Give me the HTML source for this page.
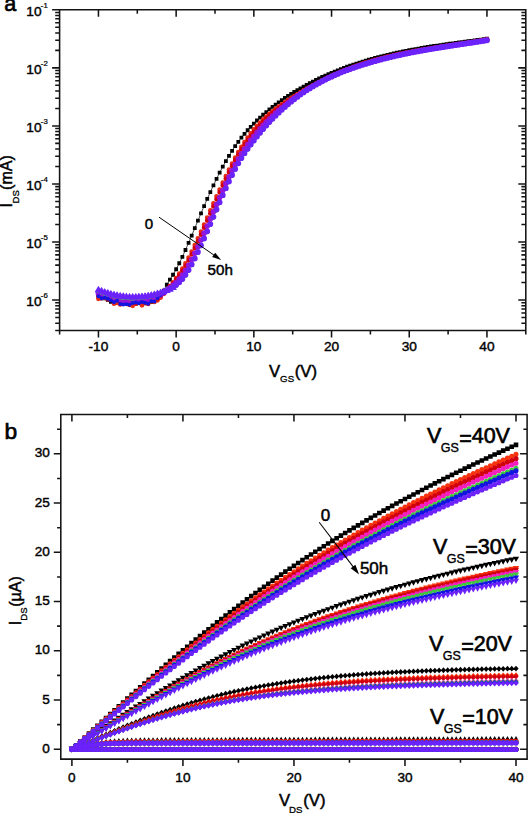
<!DOCTYPE html>
<html><head><meta charset="utf-8"><title>Figure</title>
<style>html,body{margin:0;padding:0;background:#fff;width:528px;height:813px;overflow:hidden}svg{display:block}</style>
</head><body>
<svg width="528" height="813" viewBox="0 0 528 813">
<rect width="528" height="813" fill="#fff"/>
<g fill="none">
<path d="M98.45 296.78 101.56 298.43 104.67 298.25 107.77 299.87 110.88 301.88 113.99 302.65 117.1 300.99 120.21 301.77 123.31 301.74 126.42 303.23 129.53 302.21 132.64 303.59 135.75 304.15 138.85 302.91 141.96 303.86 145.07 303.25 148.18 301.07 151.29 302.08 154.39 299.72 157.5 297.75 160.61 294.37 163.72 290.53 166.83 284.77 169.93 279.57 173.04 274.73 176.15 269.27 179.26 263.27 182.37 256.82 185.47 249.99 188.58 242.88 191.69 235.57 194.8 228.15 197.91 220.7 201.01 213.31 204.12 206.05 207.23 198.95 210.34 192.04 213.45 185.34 216.55 178.87 219.66 172.66 222.77 166.72 225.88 161.09 228.99 155.78 232.09 150.81 235.2 146.15 238.31 141.79 241.42 137.7 244.53 133.86 247.63 130.24 250.74 126.83 253.85 123.59 256.96 120.5 260.07 117.55 263.17 114.73 266.28 112.03 269.39 109.44 272.5 106.96 275.61 104.58 278.71 102.29 281.82 100.09 284.93 97.96 288.04 95.91 291.15 93.93 294.25 92 297.36 90.13 300.47 88.31 303.58 86.55 306.69 84.83 309.79 83.17 312.9 81.56 316.01 79.99 319.12 78.47 322.23 77 325.33 75.57 328.44 74.19 331.55 72.85 334.66 71.55 337.77 70.29 340.87 69.08 343.98 67.9 347.09 66.75 350.2 65.65 353.31 64.58 356.41 63.54 359.52 62.54 362.63 61.57 365.74 60.63 368.85 59.72 371.95 58.84 375.06 57.98 378.17 57.16 381.28 56.36 384.39 55.59 387.49 54.84 390.6 54.12 393.71 53.42 396.82 52.74 399.93 52.08 403.03 51.45 406.14 50.83 409.25 50.23 412.36 49.65 415.47 49.09 418.57 48.54 421.68 48.01 424.79 47.49 427.9 46.98 431.01 46.49 434.11 46.01 437.22 45.54 440.33 45.08 443.44 44.63 446.55 44.18 449.65 43.75 452.76 43.32 455.87 42.89 458.98 42.47 462.09 42.05 465.19 41.64 468.3 41.22 471.41 40.81 474.52 40.4 477.63 39.99 480.73 39.57 483.84 39.15 486.95 38.73" stroke="#000000" stroke-width="0.7" fill="none"/>
<path d="M98.45 296.78h0M101.56 298.43h0M104.67 298.25h0M107.77 299.87h0M110.88 301.88h0M113.99 302.65h0M117.1 300.99h0M120.21 301.77h0M123.31 301.74h0M126.42 303.23h0M129.53 302.21h0M132.64 303.59h0M135.75 304.15h0M138.85 302.91h0M141.96 303.86h0M145.07 303.25h0M148.18 301.07h0M151.29 302.08h0M154.39 299.72h0M157.5 297.75h0M160.61 294.37h0M163.72 290.53h0M166.83 284.77h0M169.93 279.57h0M173.04 274.73h0M176.15 269.27h0M179.26 263.27h0M182.37 256.82h0M185.47 249.99h0M188.58 242.88h0M191.69 235.57h0M194.8 228.15h0M197.91 220.7h0M201.01 213.31h0M204.12 206.05h0M207.23 198.95h0M210.34 192.04h0M213.45 185.34h0M216.55 178.87h0M219.66 172.66h0M222.77 166.72h0M225.88 161.09h0M228.99 155.78h0M232.09 150.81h0M235.2 146.15h0M238.31 141.79h0M241.42 137.7h0M244.53 133.86h0M247.63 130.24h0M250.74 126.83h0M253.85 123.59h0M256.96 120.5h0M260.07 117.55h0M263.17 114.73h0M266.28 112.03h0M269.39 109.44h0M272.5 106.96h0M275.61 104.58h0M278.71 102.29h0M281.82 100.09h0M284.93 97.96h0M288.04 95.91h0M291.15 93.93h0M294.25 92h0M297.36 90.13h0M300.47 88.31h0M303.58 86.55h0M306.69 84.83h0M309.79 83.17h0M312.9 81.56h0M316.01 79.99h0M319.12 78.47h0M322.23 77h0M325.33 75.57h0M328.44 74.19h0M331.55 72.85h0M334.66 71.55h0M337.77 70.29h0M340.87 69.08h0M343.98 67.9h0M347.09 66.75h0M350.2 65.65h0M353.31 64.58h0M356.41 63.54h0M359.52 62.54h0M362.63 61.57h0M365.74 60.63h0M368.85 59.72h0M371.95 58.84h0M375.06 57.98h0M378.17 57.16h0M381.28 56.36h0M384.39 55.59h0M387.49 54.84h0M390.6 54.12h0M393.71 53.42h0M396.82 52.74h0M399.93 52.08h0M403.03 51.45h0M406.14 50.83h0M409.25 50.23h0M412.36 49.65h0M415.47 49.09h0M418.57 48.54h0M421.68 48.01h0M424.79 47.49h0M427.9 46.98h0M431.01 46.49h0M434.11 46.01h0M437.22 45.54h0M440.33 45.08h0M443.44 44.63h0M446.55 44.18h0M449.65 43.75h0M452.76 43.32h0M455.87 42.89h0M458.98 42.47h0M462.09 42.05h0M465.19 41.64h0M468.3 41.22h0M471.41 40.81h0M474.52 40.4h0M477.63 39.99h0M480.73 39.57h0M483.84 39.15h0M486.95 38.73h0" stroke="#000000" stroke-width="3.8" stroke-linecap="square"/>
<path d="M98.45 298.87h0M101.56 298.17h0M104.67 297.93h0M107.77 298.85h0M110.88 299.8h0M113.99 303.72h0M117.1 302.86h0M120.21 304.47h0M123.31 302.5h0M126.42 303.15h0M129.53 304.91h0M132.64 305.74h0M135.75 303.73h0M138.85 302.61h0M141.96 305.25h0M145.07 302.82h0M148.18 303.97h0M151.29 301.27h0M154.39 301.88h0M157.5 300.32h0M160.61 297.56h0M163.72 293.96h0M166.83 290.15h0M169.93 286.19h0M173.04 282.45h0M176.15 278.27h0M179.26 273.68h0M182.37 268.7h0M185.47 263.33h0M188.58 257.6h0M191.69 251.53h0M194.8 245.13h0M197.91 238.49h0M201.01 231.64h0M204.12 224.65h0M207.23 217.59h0M210.34 210.51h0M213.45 203.44h0M216.55 196.44h0M219.66 189.53h0M222.77 182.75h0M225.88 176.14h0M228.99 169.73h0M232.09 163.57h0M235.2 157.68h0M238.31 152.11h0M241.42 146.89h0M244.53 142.03h0M247.63 137.53h0M250.74 133.35h0M253.85 129.47h0M256.96 125.87h0M260.07 122.53h0M263.17 119.42h0M266.28 116.53h0M269.39 113.82h0M272.5 111.28h0M275.61 108.88h0M278.71 106.59h0M281.82 104.41h0M284.93 102.3h0M288.04 100.24h0M291.15 98.23h0M294.25 96.26h0M297.36 94.33h0M300.47 92.44h0M303.58 90.6h0M306.69 88.8h0M309.79 87.05h0M312.9 85.33h0M316.01 83.66h0M319.12 82.04h0M322.23 80.45h0M325.33 78.91h0M328.44 77.41h0M331.55 75.96h0M334.66 74.55h0M337.77 73.18h0M340.87 71.85h0M343.98 70.57h0M347.09 69.33h0M350.2 68.13h0M353.31 66.98h0M356.41 65.87h0M359.52 64.8h0M362.63 63.76h0M365.74 62.77h0M368.85 61.81h0M371.95 60.89h0M375.06 60.01h0M378.17 59.15h0M381.28 58.33h0M384.39 57.54h0M387.49 56.77h0M390.6 56.04h0M393.71 55.33h0M396.82 54.64h0M399.93 53.98h0M403.03 53.34h0M406.14 52.73h0M409.25 52.13h0M412.36 51.55h0M415.47 50.98h0M418.57 50.44h0M421.68 49.9h0M424.79 49.38h0M427.9 48.87h0M431.01 48.37h0M434.11 47.88h0M437.22 47.4h0M440.33 46.92h0M443.44 46.45h0M446.55 45.98h0M449.65 45.51h0M452.76 45.04h0M455.87 44.57h0M458.98 44.11h0M462.09 43.63h0M465.19 43.16h0M468.3 42.67h0M471.41 42.18h0M474.52 41.68h0M477.63 41.18h0M480.73 40.65h0M483.84 40.12h0M486.95 39.58h0" stroke="#e82c14" stroke-width="4.8" stroke-linecap="round"/>
<path d="M98.45 295.52h0M101.56 296.3h0M104.67 296.74h0M107.77 299.2h0M110.88 297.46h0M113.99 300.71h0M117.1 298.37h0M120.21 302.05h0M123.31 301.75h0M126.42 301.2h0M129.53 302.27h0M132.64 301.57h0M135.75 302.77h0M138.85 300.11h0M141.96 301.37h0M145.07 302.39h0M148.18 302.12h0M151.29 298.84h0M154.39 298.13h0M157.5 298.56h0M160.61 295.43h0M163.72 292.79h0M166.83 290.09h0M169.93 286.76h0M173.04 283.47h0M176.15 279.76h0M179.26 275.59h0M182.37 270.96h0M185.47 265.86h0M188.58 260.31h0M191.69 254.36h0M194.8 248.05h0M197.91 241.46h0M201.01 234.64h0M204.12 227.67h0M207.23 220.6h0M210.34 213.49h0M213.45 206.38h0M216.55 199.32h0M219.66 192.34h0M222.77 185.48h0M225.88 178.79h0M228.99 172.31h0M232.09 166.08h0M235.2 160.16h0M238.31 154.57h0M241.42 149.36h0M244.53 144.52h0M247.63 140.02h0M250.74 135.82h0M253.85 131.9h0M256.96 128.22h0M260.07 124.78h0M263.17 121.54h0M266.28 118.51h0M269.39 115.65h0M272.5 112.94h0M275.61 110.38h0M278.71 107.93h0M281.82 105.59h0M284.93 103.33h0M288.04 101.13h0M291.15 99h0M294.25 96.91h0M297.36 94.89h0M300.47 92.92h0M303.58 91.01h0M306.69 89.15h0M309.79 87.34h0M312.9 85.58h0M316.01 83.88h0M319.12 82.23h0M322.23 80.62h0M325.33 79.07h0M328.44 77.57h0M331.55 76.11h0M334.66 74.7h0M337.77 73.34h0M340.87 72.02h0M343.98 70.75h0M347.09 69.52h0M350.2 68.33h0M353.31 67.19h0M356.41 66.09h0M359.52 65.03h0M362.63 64h0M365.74 63.02h0M368.85 62.06h0M371.95 61.15h0M375.06 60.26h0M378.17 59.41h0M381.28 58.58h0M384.39 57.79h0M387.49 57.02h0M390.6 56.28h0M393.71 55.57h0M396.82 54.88h0M399.93 54.21h0M403.03 53.57h0M406.14 52.94h0M409.25 52.34h0M412.36 51.75h0M415.47 51.18h0M418.57 50.62h0M421.68 50.08h0M424.79 49.55h0M427.9 49.03h0M431.01 48.52h0M434.11 48.02h0M437.22 47.53h0M440.33 47.05h0M443.44 46.57h0M446.55 46.1h0M449.65 45.63h0M452.76 45.16h0M455.87 44.69h0M458.98 44.22h0M462.09 43.75h0M465.19 43.27h0M468.3 42.79h0M471.41 42.31h0M474.52 41.81h0M477.63 41.31h0M480.73 40.8h0M483.84 40.28h0M486.95 39.75h0" stroke="#d0000e" stroke-width="4.8" stroke-linecap="round"/>
<path d="M98.45 293.83h0M101.56 294.71h0M104.67 295.59h0M107.77 297.17h0M110.88 297.31h0M113.99 298.77h0M117.1 298.94h0M120.21 299.56h0M123.31 300.47h0M126.42 300.36h0M129.53 300.79h0M132.64 300.65h0M135.75 301.04h0M138.85 300.75h0M141.96 300.32h0M145.07 299.64h0M148.18 299.39h0M151.29 298.9h0M154.39 297.69h0M157.5 296.45h0M160.61 294.62h0M163.72 292.68h0M166.83 290.2h0M169.93 287.78h0M173.04 285.34h0M176.15 282.46h0M179.26 279.07h0M182.37 275.08h0M185.47 270.46h0M188.58 265.24h0M191.69 259.51h0M194.8 253.35h0M197.91 246.86h0M201.01 240.11h0M204.12 233.17h0M207.23 226.08h0M210.34 218.92h0M213.45 211.73h0M216.55 204.55h0M219.66 197.44h0M222.77 190.45h0M225.88 183.62h0M228.99 177.01h0M232.09 170.66h0M235.2 164.66h0M238.31 159.04h0M241.42 153.85h0M244.53 149.03h0M247.63 144.54h0M250.74 140.32h0M253.85 136.3h0M256.96 132.49h0M260.07 128.86h0M263.17 125.4h0M266.28 122.11h0M269.39 118.97h0M272.5 115.97h0M275.61 113.11h0M278.71 110.36h0M281.82 107.73h0M284.93 105.2h0M288.04 102.75h0M291.15 100.39h0M294.25 98.11h0M297.36 95.91h0M300.47 93.79h0M303.58 91.75h0M306.69 89.77h0M309.79 87.87h0M312.9 86.04h0M316.01 84.27h0M319.12 82.57h0M322.23 80.94h0M325.33 79.36h0M328.44 77.84h0M331.55 76.38h0M334.66 74.98h0M337.77 73.62h0M340.87 72.32h0M343.98 71.06h0M347.09 69.86h0M350.2 68.69h0M353.31 67.57h0M356.41 66.49h0M359.52 65.45h0M362.63 64.44h0M365.74 63.46h0M368.85 62.52h0M371.95 61.61h0M375.06 60.73h0M378.17 59.87h0M381.28 59.05h0M384.39 58.25h0M387.49 57.48h0M390.6 56.73h0M393.71 56.01h0M396.82 55.31h0M399.93 54.63h0M403.03 53.97h0M406.14 53.33h0M409.25 52.71h0M412.36 52.11h0M415.47 51.52h0M418.57 50.95h0M421.68 50.4h0M424.79 49.85h0M427.9 49.32h0M431.01 48.8h0M434.11 48.29h0M437.22 47.78h0M440.33 47.29h0M443.44 46.8h0M446.55 46.32h0M449.65 45.84h0M452.76 45.37h0M455.87 44.89h0M458.98 44.42h0M462.09 43.95h0M465.19 43.48h0M468.3 43.01h0M471.41 42.53h0M474.52 42.05h0M477.63 41.57h0M480.73 41.07h0M483.84 40.58h0M486.95 40.07h0" stroke="#9a14d8" stroke-width="5.6" stroke-linecap="round"/>
<path d="M98.45 291h0M101.56 292.48h0M104.67 293.69h0M107.77 294.43h0M110.88 294.85h0M113.99 296.26h0M117.1 296.23h0M120.21 297.3h0M123.31 297.91h0M126.42 297.63h0M129.53 298.14h0M132.64 298.38h0M135.75 297.95h0M138.85 297.87h0M141.96 297.49h0M145.07 297.2h0M148.18 296.69h0M151.29 296.24h0M154.39 295.61h0M157.5 294.38h0M160.61 293.13h0M163.72 291.72h0M166.83 290.28h0M169.93 288.89h0M173.04 287.34h0M176.15 285.36h0M179.26 282.8h0M182.37 279.51h0M185.47 275.4h0M188.58 270.54h0M191.69 265.05h0M194.8 259.05h0M197.91 252.67h0M201.01 245.99h0M204.12 239.07h0M207.23 231.97h0M210.34 224.76h0M213.45 217.47h0M216.55 210.18h0M219.66 202.93h0M222.77 195.79h0M225.88 188.81h0M228.99 182.05h0M232.09 175.59h0M235.2 169.5h0M238.31 163.86h0M241.42 158.68h0M244.53 153.89h0M247.63 149.41h0M250.74 145.15h0M253.85 141.04h0M256.96 137.07h0M260.07 133.24h0M263.17 129.54h0M266.28 125.98h0M269.39 122.54h0M272.5 119.23h0M275.61 116.04h0M278.71 112.98h0M281.82 110.03h0M284.93 107.21h0M288.04 104.49h0M291.15 101.89h0M294.25 99.4h0M297.36 97.01h0M300.47 94.73h0M303.58 92.54h0M306.69 90.45h0M309.79 88.44h0M312.9 86.53h0M316.01 84.7h0M319.12 82.95h0M322.23 81.27h0M325.33 79.67h0M328.44 78.14h0M331.55 76.67h0M334.66 75.27h0M337.77 73.93h0M340.87 72.64h0M343.98 71.41h0M347.09 70.22h0M350.2 69.08h0M353.31 67.98h0M356.41 66.92h0M359.52 65.9h0M362.63 64.9h0M365.74 63.94h0M368.85 63.01h0M371.95 62.1h0M375.06 61.22h0M378.17 60.37h0M381.28 59.55h0M384.39 58.74h0M387.49 57.97h0M390.6 57.21h0M393.71 56.48h0M396.82 55.77h0M399.93 55.08h0M403.03 54.41h0M406.14 53.75h0M409.25 53.12h0M412.36 52.5h0M415.47 51.9h0M418.57 51.31h0M421.68 50.74h0M424.79 50.18h0M427.9 49.63h0M431.01 49.09h0M434.11 48.57h0M437.22 48.05h0M440.33 47.55h0M443.44 47.05h0M446.55 46.56h0M449.65 46.07h0M452.76 45.59h0M455.87 45.12h0M458.98 44.64h0M462.09 44.17h0M465.19 43.71h0M468.3 43.24h0M471.41 42.77h0M474.52 42.31h0M477.63 41.84h0M480.73 41.37h0M483.84 40.89h0M486.95 40.41h0" stroke="#3cc83c" stroke-width="4.4" stroke-linecap="round"/>
<path d="M98.45 296.28h0M101.56 298.25h0M104.67 297.65h0M107.77 298.7h0M110.88 300.61h0M113.99 302.3h0M117.1 300.86h0M120.21 303.9h0M123.31 304.62h0M126.42 304.26h0M129.53 304.77h0M132.64 302.93h0M135.75 302.39h0M138.85 303.13h0M141.96 302.11h0M145.07 302.86h0M148.18 303.69h0M151.29 301.27h0M154.39 301.43h0M157.5 297.89h0M160.61 295.06h0M163.72 293.35h0M166.83 290.67h0M169.93 288.91h0M173.04 287.39h0M176.15 285.43h0M179.26 282.89h0M182.37 279.62h0M185.47 275.51h0M188.58 270.66h0M191.69 265.18h0M194.8 259.19h0M197.91 252.8h0M201.01 246.12h0M204.12 239.21h0M207.23 232.11h0M210.34 224.89h0M213.45 217.6h0M216.55 210.31h0M219.66 203.06h0M222.77 195.91h0M225.88 188.93h0M228.99 182.17h0M232.09 175.7h0M235.2 169.61h0M238.31 163.97h0M241.42 158.79h0M244.53 154h0M247.63 149.52h0M250.74 145.26h0M253.85 141.15h0M256.96 137.18h0M260.07 133.34h0M263.17 129.64h0M266.28 126.07h0M269.39 122.62h0M272.5 119.3h0M275.61 116.11h0M278.71 113.04h0M281.82 110.09h0M284.93 107.25h0M288.04 104.53h0M291.15 101.93h0M294.25 99.43h0M297.36 97.04h0M300.47 94.75h0M303.58 92.56h0M306.69 90.46h0M309.79 88.46h0M312.9 86.54h0M316.01 84.71h0M319.12 82.95h0M322.23 81.28h0M325.33 79.68h0M328.44 78.15h0M331.55 76.68h0M334.66 75.28h0M337.77 73.94h0M340.87 72.65h0M343.98 71.42h0M347.09 70.23h0M350.2 69.09h0M353.31 67.99h0M356.41 66.93h0M359.52 65.91h0M362.63 64.92h0M365.74 63.95h0M368.85 63.02h0M371.95 62.11h0M375.06 61.24h0M378.17 60.38h0M381.28 59.56h0M384.39 58.76h0M387.49 57.98h0M390.6 57.22h0M393.71 56.49h0M396.82 55.78h0M399.93 55.09h0M403.03 54.42h0M406.14 53.76h0M409.25 53.13h0M412.36 52.51h0M415.47 51.91h0M418.57 51.32h0M421.68 50.75h0M424.79 50.19h0M427.9 49.64h0M431.01 49.1h0M434.11 48.58h0M437.22 48.06h0M440.33 47.55h0M443.44 47.05h0M446.55 46.56h0M449.65 46.08h0M452.76 45.6h0M455.87 45.12h0M458.98 44.65h0M462.09 44.18h0M465.19 43.71h0M468.3 43.25h0M471.41 42.78h0M474.52 42.31h0M477.63 41.84h0M480.73 41.37h0M483.84 40.9h0M486.95 40.42h0" stroke="#1414e0" stroke-width="4" stroke-linecap="round"/>
<path d="M98.45 286.66l3.1 5.4l-6.21 0zM101.56 287.83l3.1 5.4l-6.21 0zM104.67 288.9l3.1 5.4l-6.21 0zM107.77 289.87l3.1 5.4l-6.21 0zM110.88 290.73l3.1 5.4l-6.21 0zM113.99 291.49l3.1 5.4l-6.21 0zM117.1 292.14l3.1 5.4l-6.21 0zM120.21 292.68l3.1 5.4l-6.21 0zM123.31 293.12l3.1 5.4l-6.21 0zM126.42 293.44l3.1 5.4l-6.21 0zM129.53 293.65l3.1 5.4l-6.21 0zM132.64 293.75l3.1 5.4l-6.21 0zM135.75 293.74l3.1 5.4l-6.21 0zM138.85 293.61l3.1 5.4l-6.21 0zM141.96 293.37l3.1 5.4l-6.21 0zM145.07 293.01l3.1 5.4l-6.21 0zM148.18 292.53l3.1 5.4l-6.21 0zM151.29 291.94l3.1 5.4l-6.21 0zM154.39 291.22l3.1 5.4l-6.21 0zM157.5 290.39l3.1 5.4l-6.21 0zM160.61 289.43l3.1 5.4l-6.21 0zM163.72 288.35l3.1 5.4l-6.21 0zM166.83 287.15l3.1 5.4l-6.21 0zM169.93 285.79l3.1 5.4l-6.21 0zM173.04 284.14l3.1 5.4l-6.21 0z" fill="#6c22fa" stroke="#6c22fa" stroke-width="1.1" stroke-linejoin="round"/>
<path d="M176.15 285.02h0M179.26 282.37h0M182.37 279h0M185.47 274.82h0M188.58 269.92h0M191.69 264.4h0M194.8 258.39h0M197.91 251.99h0M201.01 245.3h0M204.12 238.38h0M207.23 231.29h0M210.34 224.08h0M213.45 216.8h0M216.55 209.52h0M219.66 202.29h0M222.77 195.17h0M225.88 188.2h0M228.99 181.46h0M232.09 175.02h0M235.2 168.93h0M238.31 163.3h0M241.42 158.12h0M244.53 153.33h0M247.63 148.84h0M250.74 144.58h0M253.85 140.49h0M256.96 136.54h0M260.07 132.73h0M263.17 129.06h0M266.28 125.53h0M269.39 122.12h0M272.5 118.85h0M275.61 115.7h0M278.71 112.67h0M281.82 109.77h0M284.93 106.97h0M288.04 104.29h0M291.15 101.72h0M294.25 99.25h0M297.36 96.89h0M300.47 94.62h0M303.58 92.45h0M306.69 90.37h0M309.79 88.38h0M312.9 86.47h0M316.01 84.65h0M319.12 82.9h0M322.23 81.23h0M325.33 79.63h0M328.44 78.1h0M331.55 76.64h0M334.66 75.24h0M337.77 73.89h0M340.87 72.6h0M343.98 71.37h0M347.09 70.18h0M350.2 69.04h0M353.31 67.94h0M356.41 66.87h0M359.52 65.85h0M362.63 64.85h0M365.74 63.89h0M368.85 62.95h0M371.95 62.04h0M375.06 61.17h0M378.17 60.31h0M381.28 59.49h0M384.39 58.69h0M387.49 57.91h0M390.6 57.16h0M393.71 56.42h0M396.82 55.72h0M399.93 55.03h0M403.03 54.36h0M406.14 53.7h0M409.25 53.07h0M412.36 52.46h0M415.47 51.85h0M418.57 51.27h0M421.68 50.7h0M424.79 50.14h0M427.9 49.59h0M431.01 49.06h0M434.11 48.54h0M437.22 48.02h0M440.33 47.52h0M443.44 47.02h0M446.55 46.53h0M449.65 46.05h0M452.76 45.57h0M455.87 45.09h0M458.98 44.62h0M462.09 44.15h0M465.19 43.68h0M468.3 43.21h0M471.41 42.75h0M474.52 42.28h0M477.63 41.81h0M480.73 41.33h0M483.84 40.85h0M486.95 40.37h0" stroke="#6c22fa" stroke-width="5.8" stroke-linecap="round"/>
</g>
<path d="M59.6 9.8H525.8V330.4H59.6ZM59.6 330.4v4M59.6 9.8v4M98.45 330.4v7M98.45 9.8v7M137.3 330.4v4M137.3 9.8v4M176.15 330.4v7M176.15 9.8v7M215 330.4v4M215 9.8v4M253.85 330.4v7M253.85 9.8v7M292.7 330.4v4M292.7 9.8v4M331.55 330.4v7M331.55 9.8v7M370.4 330.4v4M370.4 9.8v4M409.25 330.4v7M409.25 9.8v7M448.1 330.4v4M448.1 9.8v4M486.95 330.4v7M486.95 9.8v7M525.8 330.4v4M525.8 9.8v4M59.6 330.4h-4.4M525.8 330.4h-4.4M59.6 323.15h-4.4M525.8 323.15h-4.4M59.6 317.52h-4.4M525.8 317.52h-4.4M59.6 312.93h-4.4M525.8 312.93h-4.4M59.6 309.04h-4.4M525.8 309.04h-4.4M59.6 305.67h-4.4M525.8 305.67h-4.4M59.6 302.7h-4.4M525.8 302.7h-4.4M59.6 300.05h-7.5M525.8 300.05h-7.5M59.6 282.57h-4.4M525.8 282.57h-4.4M59.6 272.35h-4.4M525.8 272.35h-4.4M59.6 265.1h-4.4M525.8 265.1h-4.4M59.6 259.47h-4.4M525.8 259.47h-4.4M59.6 254.88h-4.4M525.8 254.88h-4.4M59.6 250.99h-4.4M525.8 250.99h-4.4M59.6 247.62h-4.4M525.8 247.62h-4.4M59.6 244.65h-4.4M525.8 244.65h-4.4M59.6 242h-7.5M525.8 242h-7.5M59.6 224.52h-4.4M525.8 224.52h-4.4M59.6 214.3h-4.4M525.8 214.3h-4.4M59.6 207.05h-4.4M525.8 207.05h-4.4M59.6 201.42h-4.4M525.8 201.42h-4.4M59.6 196.83h-4.4M525.8 196.83h-4.4M59.6 192.94h-4.4M525.8 192.94h-4.4M59.6 189.57h-4.4M525.8 189.57h-4.4M59.6 186.6h-4.4M525.8 186.6h-4.4M59.6 183.95h-7.5M525.8 183.95h-7.5M59.6 166.47h-4.4M525.8 166.47h-4.4M59.6 156.25h-4.4M525.8 156.25h-4.4M59.6 149h-4.4M525.8 149h-4.4M59.6 143.37h-4.4M525.8 143.37h-4.4M59.6 138.78h-4.4M525.8 138.78h-4.4M59.6 134.89h-4.4M525.8 134.89h-4.4M59.6 131.52h-4.4M525.8 131.52h-4.4M59.6 128.56h-4.4M525.8 128.56h-4.4M59.6 125.9h-7.5M525.8 125.9h-7.5M59.6 108.42h-4.4M525.8 108.42h-4.4M59.6 98.2h-4.4M525.8 98.2h-4.4M59.6 90.95h-4.4M525.8 90.95h-4.4M59.6 85.32h-4.4M525.8 85.32h-4.4M59.6 80.73h-4.4M525.8 80.73h-4.4M59.6 76.84h-4.4M525.8 76.84h-4.4M59.6 73.48h-4.4M525.8 73.48h-4.4M59.6 70.51h-4.4M525.8 70.51h-4.4M59.6 67.85h-7.5M525.8 67.85h-7.5M59.6 50.37h-4.4M525.8 50.37h-4.4M59.6 40.15h-4.4M525.8 40.15h-4.4M59.6 32.9h-4.4M525.8 32.9h-4.4M59.6 27.27h-4.4M525.8 27.27h-4.4M59.6 22.68h-4.4M525.8 22.68h-4.4M59.6 18.79h-4.4M525.8 18.79h-4.4M59.6 15.43h-4.4M525.8 15.43h-4.4M59.6 12.46h-4.4M525.8 12.46h-4.4M59.6 9.8h-7.5M525.8 9.8h-7.5" stroke="#141414" stroke-width="1.55" fill="none"/>
<g fill="#000" stroke="#000" font-family="'Liberation Sans', sans-serif">
<text x="4.18" y="11.4" font-size="21.6" stroke-width="0.65">a</text>
<text x="26.3" y="306.05" font-size="13.7" stroke-width="0.41">10</text>
<text x="40.8" y="297.95" font-size="7.8" stroke-width="0.23">-6</text>
<text x="26.3" y="248" font-size="13.7" stroke-width="0.41">10</text>
<text x="40.8" y="239.9" font-size="7.8" stroke-width="0.23">-5</text>
<text x="26.3" y="189.95" font-size="13.7" stroke-width="0.41">10</text>
<text x="40.8" y="181.85" font-size="7.8" stroke-width="0.23">-4</text>
<text x="26.3" y="131.9" font-size="13.7" stroke-width="0.41">10</text>
<text x="40.8" y="123.8" font-size="7.8" stroke-width="0.23">-3</text>
<text x="26.3" y="73.85" font-size="13.7" stroke-width="0.41">10</text>
<text x="40.8" y="65.75" font-size="7.8" stroke-width="0.23">-2</text>
<text x="26.3" y="15.8" font-size="13.7" stroke-width="0.41">10</text>
<text x="40.8" y="7.7" font-size="7.8" stroke-width="0.23">-1</text>
<text x="88.55" y="351.4" font-size="13.7" stroke-width="0.41">-10</text>
<text x="172.34" y="351.4" font-size="13.7" stroke-width="0.41">0</text>
<text x="246.23" y="351.4" font-size="13.7" stroke-width="0.41">10</text>
<text x="323.93" y="351.4" font-size="13.7" stroke-width="0.41">20</text>
<text x="401.63" y="351.4" font-size="13.7" stroke-width="0.41">30</text>
<text x="479.33" y="351.4" font-size="13.7" stroke-width="0.41">40</text>
<text x="268.93" y="376.8" font-size="16.7" stroke-width="0.5">V</text>
<text x="280.11" y="382.4" font-size="9.7" stroke-width="0.29">GS</text>
<text x="294.76" y="376.8" font-size="16.7" stroke-width="0.5">(V)</text>
<g transform="translate(11.8,206.1) rotate(-90)">
<text x="-1.53" y="0" font-size="16.6" stroke-width="0.5">I</text>
<text x="2.72" y="6.9" font-size="9.5" stroke-width="0.28">DS</text>
<text x="16.2" y="0" font-size="16.1" stroke-width="0.48">(mA)</text>
</g>
<text x="144.81" y="228.7" font-size="15.1" stroke-width="0.45">0</text>
<text x="207.59" y="275.1" font-size="15.2" stroke-width="0.46">50h</text>
</g>
<path d="M159 217.2L214.51 255.46" stroke="#000" stroke-width="1"/>
<path d="M221.1 260L212.16 257.12L215.22 252.67Z" fill="#000"/>
<g fill="none">
<path d="M71.9 749.25h0M76.17 749.25h0M80.44 749.25h0M84.71 749.25h0M88.98 749.25h0M93.25 749.25h0M97.52 749.25h0M101.79 749.25h0M106.06 749.25h0M110.33 749.25h0M114.6 749.25h0M118.87 749.25h0M123.14 749.25h0M127.41 749.25h0M131.68 749.25h0M135.95 749.25h0M140.22 749.25h0M144.49 749.25h0M148.77 749.25h0M153.04 749.25h0M157.31 749.25h0M161.58 749.25h0M165.85 749.25h0M170.12 749.25h0M174.39 749.25h0M178.66 749.25h0M182.93 749.25h0M187.2 749.25h0M191.47 749.25h0M195.74 749.25h0M200.01 749.25h0M204.28 749.25h0M208.55 749.25h0M212.82 749.25h0M217.09 749.25h0M221.36 749.25h0M225.63 749.25h0M229.9 749.25h0M234.17 749.25h0M238.44 749.25h0M242.71 749.25h0M246.98 749.25h0M251.25 749.25h0M255.52 749.25h0M259.79 749.25h0M264.06 749.25h0M268.33 749.25h0M272.6 749.25h0M276.87 749.25h0M281.14 749.25h0M285.41 749.25h0M289.68 749.25h0M293.95 749.25h0M298.22 749.25h0M302.49 749.25h0M306.76 749.25h0M311.03 749.25h0M315.3 749.25h0M319.57 749.25h0M323.84 749.25h0M328.11 749.25h0M332.38 749.25h0M336.65 749.25h0M340.92 749.25h0M345.19 749.25h0M349.46 749.25h0M353.73 749.25h0M358 749.25h0M362.27 749.25h0M366.54 749.25h0M370.81 749.25h0M375.08 749.25h0M379.35 749.25h0M383.62 749.25h0M387.89 749.25h0M392.16 749.25h0M396.43 749.25h0M400.7 749.25h0M404.97 749.25h0M409.24 749.25h0M413.51 749.25h0M417.78 749.25h0M422.05 749.25h0M426.32 749.25h0M430.59 749.25h0M434.86 749.25h0M439.13 749.25h0M443.41 749.25h0M447.68 749.25h0M451.95 749.25h0M456.22 749.25h0M460.49 749.25h0M464.76 749.25h0M469.03 749.25h0M473.3 749.25h0M477.57 749.25h0M481.84 749.25h0M486.11 749.25h0M490.38 749.25h0M494.65 749.25h0M498.92 749.25h0M503.19 749.25h0M507.46 749.25h0M511.73 749.25h0M516 749.25h0" stroke="#000000" stroke-width="5.1" stroke-linecap="round"/>
<path d="M71.9 747.05l2.3 4l-4.6 0zM76.17 745.62l2.3 4l-4.6 0zM80.44 744.24l2.3 4l-4.6 0zM84.71 742.98l2.3 4l-4.6 0zM88.98 741.86l2.3 4l-4.6 0zM93.25 740.9l2.3 4l-4.6 0zM97.52 740.1l2.3 4l-4.6 0zM101.79 739.44l2.3 4l-4.6 0zM106.06 738.92l2.3 4l-4.6 0zM110.33 738.51l2.3 4l-4.6 0zM114.6 738.19l2.3 4l-4.6 0zM118.87 737.94l2.3 4l-4.6 0zM123.14 737.74l2.3 4l-4.6 0zM127.41 737.59l2.3 4l-4.6 0zM131.68 737.48l2.3 4l-4.6 0zM135.95 737.39l2.3 4l-4.6 0zM140.22 737.32l2.3 4l-4.6 0zM144.49 737.26l2.3 4l-4.6 0zM148.77 737.21l2.3 4l-4.6 0zM153.04 737.18l2.3 4l-4.6 0zM157.31 737.15l2.3 4l-4.6 0zM161.58 737.12l2.3 4l-4.6 0zM165.85 737.1l2.3 4l-4.6 0zM170.12 737.08l2.3 4l-4.6 0zM174.39 737.06l2.3 4l-4.6 0zM178.66 737.04l2.3 4l-4.6 0zM182.93 737.02l2.3 4l-4.6 0zM187.2 737.01l2.3 4l-4.6 0zM191.47 736.99l2.3 4l-4.6 0zM195.74 736.98l2.3 4l-4.6 0zM200.01 736.97l2.3 4l-4.6 0zM204.28 736.95l2.3 4l-4.6 0zM208.55 736.94l2.3 4l-4.6 0zM212.82 736.93l2.3 4l-4.6 0zM217.09 736.91l2.3 4l-4.6 0zM221.36 736.9l2.3 4l-4.6 0zM225.63 736.89l2.3 4l-4.6 0zM229.9 736.87l2.3 4l-4.6 0zM234.17 736.86l2.3 4l-4.6 0zM238.44 736.85l2.3 4l-4.6 0zM242.71 736.84l2.3 4l-4.6 0zM246.98 736.82l2.3 4l-4.6 0zM251.25 736.81l2.3 4l-4.6 0zM255.52 736.8l2.3 4l-4.6 0zM259.79 736.78l2.3 4l-4.6 0zM264.06 736.77l2.3 4l-4.6 0zM268.33 736.76l2.3 4l-4.6 0zM272.6 736.75l2.3 4l-4.6 0zM276.87 736.73l2.3 4l-4.6 0zM281.14 736.72l2.3 4l-4.6 0zM285.41 736.71l2.3 4l-4.6 0zM289.68 736.69l2.3 4l-4.6 0zM293.95 736.68l2.3 4l-4.6 0zM298.22 736.67l2.3 4l-4.6 0zM302.49 736.66l2.3 4l-4.6 0zM306.76 736.64l2.3 4l-4.6 0zM311.03 736.63l2.3 4l-4.6 0zM315.3 736.62l2.3 4l-4.6 0zM319.57 736.6l2.3 4l-4.6 0zM323.84 736.59l2.3 4l-4.6 0zM328.11 736.58l2.3 4l-4.6 0zM332.38 736.56l2.3 4l-4.6 0zM336.65 736.55l2.3 4l-4.6 0zM340.92 736.54l2.3 4l-4.6 0zM345.19 736.53l2.3 4l-4.6 0zM349.46 736.51l2.3 4l-4.6 0zM353.73 736.5l2.3 4l-4.6 0zM358 736.49l2.3 4l-4.6 0zM362.27 736.47l2.3 4l-4.6 0zM366.54 736.46l2.3 4l-4.6 0zM370.81 736.45l2.3 4l-4.6 0zM375.08 736.44l2.3 4l-4.6 0zM379.35 736.42l2.3 4l-4.6 0zM383.62 736.41l2.3 4l-4.6 0zM387.89 736.4l2.3 4l-4.6 0zM392.16 736.38l2.3 4l-4.6 0zM396.43 736.37l2.3 4l-4.6 0zM400.7 736.36l2.3 4l-4.6 0zM404.97 736.35l2.3 4l-4.6 0zM409.24 736.33l2.3 4l-4.6 0zM413.51 736.32l2.3 4l-4.6 0zM417.78 736.31l2.3 4l-4.6 0zM422.05 736.29l2.3 4l-4.6 0zM426.32 736.28l2.3 4l-4.6 0zM430.59 736.27l2.3 4l-4.6 0zM434.86 736.26l2.3 4l-4.6 0zM439.13 736.24l2.3 4l-4.6 0zM443.41 736.23l2.3 4l-4.6 0zM447.68 736.22l2.3 4l-4.6 0zM451.95 736.2l2.3 4l-4.6 0zM456.22 736.19l2.3 4l-4.6 0zM460.49 736.18l2.3 4l-4.6 0zM464.76 736.17l2.3 4l-4.6 0zM469.03 736.15l2.3 4l-4.6 0zM473.3 736.14l2.3 4l-4.6 0zM477.57 736.13l2.3 4l-4.6 0zM481.84 736.11l2.3 4l-4.6 0zM486.11 736.1l2.3 4l-4.6 0zM490.38 736.09l2.3 4l-4.6 0zM494.65 736.08l2.3 4l-4.6 0zM498.92 736.06l2.3 4l-4.6 0zM503.19 736.05l2.3 4l-4.6 0zM507.46 736.04l2.3 4l-4.6 0zM511.73 736.02l2.3 4l-4.6 0zM516 736.01l2.3 4l-4.6 0z" fill="#000000"/>
<path d="M71.9 746.35l2.61 2.9l-2.61 2.9l-2.61 -2.9zM76.17 744.47l2.61 2.9l-2.61 2.9l-2.61 -2.9zM80.44 742.6l2.61 2.9l-2.61 2.9l-2.61 -2.9zM84.71 740.72l2.61 2.9l-2.61 2.9l-2.61 -2.9zM88.98 738.86l2.61 2.9l-2.61 2.9l-2.61 -2.9zM93.25 737l2.61 2.9l-2.61 2.9l-2.61 -2.9zM97.52 735.15l2.61 2.9l-2.61 2.9l-2.61 -2.9zM101.79 733.31l2.61 2.9l-2.61 2.9l-2.61 -2.9zM106.06 731.48l2.61 2.9l-2.61 2.9l-2.61 -2.9zM110.33 729.67l2.61 2.9l-2.61 2.9l-2.61 -2.9zM114.6 727.88l2.61 2.9l-2.61 2.9l-2.61 -2.9zM118.87 726.11l2.61 2.9l-2.61 2.9l-2.61 -2.9zM123.14 724.36l2.61 2.9l-2.61 2.9l-2.61 -2.9zM127.41 722.62l2.61 2.9l-2.61 2.9l-2.61 -2.9zM131.68 720.91l2.61 2.9l-2.61 2.9l-2.61 -2.9zM135.95 719.23l2.61 2.9l-2.61 2.9l-2.61 -2.9zM140.22 717.57l2.61 2.9l-2.61 2.9l-2.61 -2.9zM144.49 715.94l2.61 2.9l-2.61 2.9l-2.61 -2.9zM148.77 714.33l2.61 2.9l-2.61 2.9l-2.61 -2.9zM153.04 712.76l2.61 2.9l-2.61 2.9l-2.61 -2.9zM157.31 711.21l2.61 2.9l-2.61 2.9l-2.61 -2.9zM161.58 709.69l2.61 2.9l-2.61 2.9l-2.61 -2.9zM165.85 708.21l2.61 2.9l-2.61 2.9l-2.61 -2.9zM170.12 706.75l2.61 2.9l-2.61 2.9l-2.61 -2.9zM174.39 705.33l2.61 2.9l-2.61 2.9l-2.61 -2.9zM178.66 703.94l2.61 2.9l-2.61 2.9l-2.61 -2.9zM182.93 702.59l2.61 2.9l-2.61 2.9l-2.61 -2.9zM187.2 701.26l2.61 2.9l-2.61 2.9l-2.61 -2.9zM191.47 699.97l2.61 2.9l-2.61 2.9l-2.61 -2.9zM195.74 698.71l2.61 2.9l-2.61 2.9l-2.61 -2.9zM200.01 697.49l2.61 2.9l-2.61 2.9l-2.61 -2.9zM204.28 696.3l2.61 2.9l-2.61 2.9l-2.61 -2.9zM208.55 695.14l2.61 2.9l-2.61 2.9l-2.61 -2.9zM212.82 694.02l2.61 2.9l-2.61 2.9l-2.61 -2.9zM217.09 692.92l2.61 2.9l-2.61 2.9l-2.61 -2.9zM221.36 691.86l2.61 2.9l-2.61 2.9l-2.61 -2.9zM225.63 690.83l2.61 2.9l-2.61 2.9l-2.61 -2.9zM229.9 689.84l2.61 2.9l-2.61 2.9l-2.61 -2.9zM234.17 688.87l2.61 2.9l-2.61 2.9l-2.61 -2.9zM238.44 687.94l2.61 2.9l-2.61 2.9l-2.61 -2.9zM242.71 687.03l2.61 2.9l-2.61 2.9l-2.61 -2.9zM246.98 686.16l2.61 2.9l-2.61 2.9l-2.61 -2.9zM251.25 685.31l2.61 2.9l-2.61 2.9l-2.61 -2.9zM255.52 684.49l2.61 2.9l-2.61 2.9l-2.61 -2.9zM259.79 683.7l2.61 2.9l-2.61 2.9l-2.61 -2.9zM264.06 682.94l2.61 2.9l-2.61 2.9l-2.61 -2.9zM268.33 682.2l2.61 2.9l-2.61 2.9l-2.61 -2.9zM272.6 681.49l2.61 2.9l-2.61 2.9l-2.61 -2.9zM276.87 680.8l2.61 2.9l-2.61 2.9l-2.61 -2.9zM281.14 680.14l2.61 2.9l-2.61 2.9l-2.61 -2.9zM285.41 679.51l2.61 2.9l-2.61 2.9l-2.61 -2.9zM289.68 678.89l2.61 2.9l-2.61 2.9l-2.61 -2.9zM293.95 678.3l2.61 2.9l-2.61 2.9l-2.61 -2.9zM298.22 677.73l2.61 2.9l-2.61 2.9l-2.61 -2.9zM302.49 677.18l2.61 2.9l-2.61 2.9l-2.61 -2.9zM306.76 676.66l2.61 2.9l-2.61 2.9l-2.61 -2.9zM311.03 676.15l2.61 2.9l-2.61 2.9l-2.61 -2.9zM315.3 675.66l2.61 2.9l-2.61 2.9l-2.61 -2.9zM319.57 675.19l2.61 2.9l-2.61 2.9l-2.61 -2.9zM323.84 674.74l2.61 2.9l-2.61 2.9l-2.61 -2.9zM328.11 674.31l2.61 2.9l-2.61 2.9l-2.61 -2.9zM332.38 673.89l2.61 2.9l-2.61 2.9l-2.61 -2.9zM336.65 673.49l2.61 2.9l-2.61 2.9l-2.61 -2.9zM340.92 673.11l2.61 2.9l-2.61 2.9l-2.61 -2.9zM345.19 672.74l2.61 2.9l-2.61 2.9l-2.61 -2.9zM349.46 672.38l2.61 2.9l-2.61 2.9l-2.61 -2.9zM353.73 672.04l2.61 2.9l-2.61 2.9l-2.61 -2.9zM358 671.72l2.61 2.9l-2.61 2.9l-2.61 -2.9zM362.27 671.4l2.61 2.9l-2.61 2.9l-2.61 -2.9zM366.54 671.1l2.61 2.9l-2.61 2.9l-2.61 -2.9zM370.81 670.81l2.61 2.9l-2.61 2.9l-2.61 -2.9zM375.08 670.54l2.61 2.9l-2.61 2.9l-2.61 -2.9zM379.35 670.27l2.61 2.9l-2.61 2.9l-2.61 -2.9zM383.62 670.01l2.61 2.9l-2.61 2.9l-2.61 -2.9zM387.89 669.77l2.61 2.9l-2.61 2.9l-2.61 -2.9zM392.16 669.53l2.61 2.9l-2.61 2.9l-2.61 -2.9zM396.43 669.31l2.61 2.9l-2.61 2.9l-2.61 -2.9zM400.7 669.09l2.61 2.9l-2.61 2.9l-2.61 -2.9zM404.97 668.89l2.61 2.9l-2.61 2.9l-2.61 -2.9zM409.24 668.69l2.61 2.9l-2.61 2.9l-2.61 -2.9zM413.51 668.5l2.61 2.9l-2.61 2.9l-2.61 -2.9zM417.78 668.31l2.61 2.9l-2.61 2.9l-2.61 -2.9zM422.05 668.14l2.61 2.9l-2.61 2.9l-2.61 -2.9zM426.32 667.97l2.61 2.9l-2.61 2.9l-2.61 -2.9zM430.59 667.81l2.61 2.9l-2.61 2.9l-2.61 -2.9zM434.86 667.65l2.61 2.9l-2.61 2.9l-2.61 -2.9zM439.13 667.51l2.61 2.9l-2.61 2.9l-2.61 -2.9zM443.41 667.36l2.61 2.9l-2.61 2.9l-2.61 -2.9zM447.68 667.23l2.61 2.9l-2.61 2.9l-2.61 -2.9zM451.95 667.1l2.61 2.9l-2.61 2.9l-2.61 -2.9zM456.22 666.97l2.61 2.9l-2.61 2.9l-2.61 -2.9zM460.49 666.85l2.61 2.9l-2.61 2.9l-2.61 -2.9zM464.76 666.73l2.61 2.9l-2.61 2.9l-2.61 -2.9zM469.03 666.62l2.61 2.9l-2.61 2.9l-2.61 -2.9zM473.3 666.52l2.61 2.9l-2.61 2.9l-2.61 -2.9zM477.57 666.41l2.61 2.9l-2.61 2.9l-2.61 -2.9zM481.84 666.31l2.61 2.9l-2.61 2.9l-2.61 -2.9zM486.11 666.22l2.61 2.9l-2.61 2.9l-2.61 -2.9zM490.38 666.13l2.61 2.9l-2.61 2.9l-2.61 -2.9zM494.65 666.04l2.61 2.9l-2.61 2.9l-2.61 -2.9zM498.92 665.96l2.61 2.9l-2.61 2.9l-2.61 -2.9zM503.19 665.88l2.61 2.9l-2.61 2.9l-2.61 -2.9zM507.46 665.8l2.61 2.9l-2.61 2.9l-2.61 -2.9zM511.73 665.73l2.61 2.9l-2.61 2.9l-2.61 -2.9zM516 665.66l2.61 2.9l-2.61 2.9l-2.61 -2.9z" fill="#000000"/>
<path d="M71.9 752.22l3.1 -5.4l-6.21 0zM76.17 749.36l3.1 -5.4l-6.21 0zM80.44 746.5l3.1 -5.4l-6.21 0zM84.71 743.65l3.1 -5.4l-6.21 0zM88.98 740.79l3.1 -5.4l-6.21 0zM93.25 737.95l3.1 -5.4l-6.21 0zM97.52 735.1l3.1 -5.4l-6.21 0zM101.79 732.27l3.1 -5.4l-6.21 0zM106.06 729.44l3.1 -5.4l-6.21 0zM110.33 726.63l3.1 -5.4l-6.21 0zM114.6 723.82l3.1 -5.4l-6.21 0zM118.87 721.03l3.1 -5.4l-6.21 0zM123.14 718.25l3.1 -5.4l-6.21 0zM127.41 715.48l3.1 -5.4l-6.21 0zM131.68 712.73l3.1 -5.4l-6.21 0zM135.95 710l3.1 -5.4l-6.21 0zM140.22 707.28l3.1 -5.4l-6.21 0zM144.49 704.58l3.1 -5.4l-6.21 0zM148.77 701.89l3.1 -5.4l-6.21 0zM153.04 699.23l3.1 -5.4l-6.21 0zM157.31 696.59l3.1 -5.4l-6.21 0zM161.58 693.97l3.1 -5.4l-6.21 0zM165.85 691.37l3.1 -5.4l-6.21 0zM170.12 688.8l3.1 -5.4l-6.21 0zM174.39 686.25l3.1 -5.4l-6.21 0zM178.66 683.72l3.1 -5.4l-6.21 0zM182.93 681.22l3.1 -5.4l-6.21 0zM187.2 678.74l3.1 -5.4l-6.21 0zM191.47 676.29l3.1 -5.4l-6.21 0zM195.74 673.87l3.1 -5.4l-6.21 0zM200.01 671.47l3.1 -5.4l-6.21 0zM204.28 669.1l3.1 -5.4l-6.21 0zM208.55 666.75l3.1 -5.4l-6.21 0zM212.82 664.44l3.1 -5.4l-6.21 0zM217.09 662.15l3.1 -5.4l-6.21 0zM221.36 659.89l3.1 -5.4l-6.21 0zM225.63 657.66l3.1 -5.4l-6.21 0zM229.9 655.45l3.1 -5.4l-6.21 0zM234.17 653.28l3.1 -5.4l-6.21 0zM238.44 651.13l3.1 -5.4l-6.21 0zM242.71 649.02l3.1 -5.4l-6.21 0zM246.98 646.93l3.1 -5.4l-6.21 0zM251.25 644.87l3.1 -5.4l-6.21 0zM255.52 642.84l3.1 -5.4l-6.21 0zM259.79 640.84l3.1 -5.4l-6.21 0zM264.06 638.87l3.1 -5.4l-6.21 0zM268.33 636.92l3.1 -5.4l-6.21 0zM272.6 635.01l3.1 -5.4l-6.21 0zM276.87 633.12l3.1 -5.4l-6.21 0zM281.14 631.26l3.1 -5.4l-6.21 0zM285.41 629.43l3.1 -5.4l-6.21 0zM289.68 627.62l3.1 -5.4l-6.21 0zM293.95 625.85l3.1 -5.4l-6.21 0zM298.22 624.1l3.1 -5.4l-6.21 0zM302.49 622.37l3.1 -5.4l-6.21 0zM306.76 620.68l3.1 -5.4l-6.21 0zM311.03 619l3.1 -5.4l-6.21 0zM315.3 617.36l3.1 -5.4l-6.21 0zM319.57 615.74l3.1 -5.4l-6.21 0zM323.84 614.15l3.1 -5.4l-6.21 0zM328.11 612.58l3.1 -5.4l-6.21 0zM332.38 611.03l3.1 -5.4l-6.21 0zM336.65 609.51l3.1 -5.4l-6.21 0zM340.92 608.01l3.1 -5.4l-6.21 0zM345.19 606.54l3.1 -5.4l-6.21 0zM349.46 605.08l3.1 -5.4l-6.21 0zM353.73 603.65l3.1 -5.4l-6.21 0zM358 602.25l3.1 -5.4l-6.21 0zM362.27 600.86l3.1 -5.4l-6.21 0zM366.54 599.5l3.1 -5.4l-6.21 0zM370.81 598.15l3.1 -5.4l-6.21 0zM375.08 596.83l3.1 -5.4l-6.21 0zM379.35 595.52l3.1 -5.4l-6.21 0zM383.62 594.24l3.1 -5.4l-6.21 0zM387.89 592.98l3.1 -5.4l-6.21 0zM392.16 591.73l3.1 -5.4l-6.21 0zM396.43 590.5l3.1 -5.4l-6.21 0zM400.7 589.29l3.1 -5.4l-6.21 0zM404.97 588.1l3.1 -5.4l-6.21 0zM409.24 586.92l3.1 -5.4l-6.21 0zM413.51 585.76l3.1 -5.4l-6.21 0zM417.78 584.62l3.1 -5.4l-6.21 0zM422.05 583.49l3.1 -5.4l-6.21 0zM426.32 582.38l3.1 -5.4l-6.21 0zM430.59 581.29l3.1 -5.4l-6.21 0zM434.86 580.21l3.1 -5.4l-6.21 0zM439.13 579.14l3.1 -5.4l-6.21 0zM443.41 578.09l3.1 -5.4l-6.21 0zM447.68 577.05l3.1 -5.4l-6.21 0zM451.95 576.02l3.1 -5.4l-6.21 0zM456.22 575.01l3.1 -5.4l-6.21 0zM460.49 574.01l3.1 -5.4l-6.21 0zM464.76 573.02l3.1 -5.4l-6.21 0zM469.03 572.05l3.1 -5.4l-6.21 0zM473.3 571.08l3.1 -5.4l-6.21 0zM477.57 570.13l3.1 -5.4l-6.21 0zM481.84 569.19l3.1 -5.4l-6.21 0zM486.11 568.26l3.1 -5.4l-6.21 0zM490.38 567.34l3.1 -5.4l-6.21 0zM494.65 566.43l3.1 -5.4l-6.21 0zM498.92 565.53l3.1 -5.4l-6.21 0zM503.19 564.64l3.1 -5.4l-6.21 0zM507.46 563.76l3.1 -5.4l-6.21 0zM511.73 562.89l3.1 -5.4l-6.21 0zM516 562.03l3.1 -5.4l-6.21 0z" fill="#000000"/>
<path d="M71.9 749.25h0M76.17 745.33h0M80.44 741.41h0M84.71 737.49h0M88.98 733.57h0M93.25 729.66h0M97.52 725.76h0M101.79 721.86h0M106.06 717.97h0M110.33 714.08h0M114.6 710.21h0M118.87 706.35h0M123.14 702.49h0M127.41 698.65h0M131.68 694.83h0M135.95 691.02h0M140.22 687.22h0M144.49 683.44h0M148.77 679.68h0M153.04 675.94h0M157.31 672.21h0M161.58 668.5h0M165.85 664.82h0M170.12 661.15h0M174.39 657.51h0M178.66 653.88h0M182.93 650.28h0M187.2 646.71h0M191.47 643.16h0M195.74 639.63h0M200.01 636.12h0M204.28 632.65h0M208.55 629.19h0M212.82 625.77h0M217.09 622.37h0M221.36 618.99h0M225.63 615.64h0M229.9 612.32h0M234.17 609.03h0M238.44 605.76h0M242.71 602.53h0M246.98 599.32h0M251.25 596.13h0M255.52 592.98h0M259.79 589.85h0M264.06 586.75h0M268.33 583.68h0M272.6 580.64h0M276.87 577.62h0M281.14 574.63h0M285.41 571.67h0M289.68 568.74h0M293.95 565.83h0M298.22 562.95h0M302.49 560.1h0M306.76 557.27h0M311.03 554.47h0M315.3 551.7h0M319.57 548.95h0M323.84 546.23h0M328.11 543.53h0M332.38 540.86h0M336.65 538.21h0M340.92 535.59h0M345.19 532.99h0M349.46 530.42h0M353.73 527.87h0M358 525.34h0M362.27 522.83h0M366.54 520.35h0M370.81 517.89h0M375.08 515.45h0M379.35 513.04h0M383.62 510.64h0M387.89 508.26h0M392.16 505.91h0M396.43 503.57h0M400.7 501.26h0M404.97 498.96h0M409.24 496.68h0M413.51 494.43h0M417.78 492.18h0M422.05 489.96h0M426.32 487.76h0M430.59 485.57h0M434.86 483.4h0M439.13 481.24h0M443.41 479.1h0M447.68 476.98h0M451.95 474.87h0M456.22 472.78h0M460.49 470.7h0M464.76 468.63h0M469.03 466.58h0M473.3 464.55h0M477.57 462.52h0M481.84 460.51h0M486.11 458.51h0M490.38 456.53h0M494.65 454.56h0M498.92 452.6h0M503.19 450.65h0M507.46 448.71h0M511.73 446.78h0M516 444.87h0" stroke="#000000" stroke-width="4.6" stroke-linecap="square"/>
<path d="M71.9 749.35h0M76.17 749.35h0M80.44 749.35h0M84.71 749.35h0M88.98 749.35h0M93.25 749.35h0M97.52 749.35h0M101.79 749.35h0M106.06 749.35h0M110.33 749.35h0M114.6 749.35h0M118.87 749.35h0M123.14 749.35h0M127.41 749.35h0M131.68 749.35h0M135.95 749.35h0M140.22 749.35h0M144.49 749.35h0M148.77 749.35h0M153.04 749.35h0M157.31 749.35h0M161.58 749.35h0M165.85 749.35h0M170.12 749.35h0M174.39 749.35h0M178.66 749.35h0M182.93 749.35h0M187.2 749.35h0M191.47 749.35h0M195.74 749.35h0M200.01 749.35h0M204.28 749.35h0M208.55 749.35h0M212.82 749.35h0M217.09 749.35h0M221.36 749.35h0M225.63 749.35h0M229.9 749.35h0M234.17 749.35h0M238.44 749.35h0M242.71 749.35h0M246.98 749.35h0M251.25 749.35h0M255.52 749.35h0M259.79 749.35h0M264.06 749.35h0M268.33 749.35h0M272.6 749.35h0M276.87 749.35h0M281.14 749.35h0M285.41 749.35h0M289.68 749.35h0M293.95 749.35h0M298.22 749.35h0M302.49 749.35h0M306.76 749.35h0M311.03 749.35h0M315.3 749.35h0M319.57 749.35h0M323.84 749.35h0M328.11 749.35h0M332.38 749.35h0M336.65 749.35h0M340.92 749.35h0M345.19 749.35h0M349.46 749.35h0M353.73 749.35h0M358 749.35h0M362.27 749.35h0M366.54 749.35h0M370.81 749.35h0M375.08 749.35h0M379.35 749.35h0M383.62 749.35h0M387.89 749.35h0M392.16 749.35h0M396.43 749.35h0M400.7 749.35h0M404.97 749.35h0M409.24 749.35h0M413.51 749.35h0M417.78 749.35h0M422.05 749.35h0M426.32 749.35h0M430.59 749.35h0M434.86 749.35h0M439.13 749.35h0M443.41 749.35h0M447.68 749.35h0M451.95 749.35h0M456.22 749.35h0M460.49 749.35h0M464.76 749.35h0M469.03 749.35h0M473.3 749.35h0M477.57 749.35h0M481.84 749.35h0M486.11 749.35h0M490.38 749.35h0M494.65 749.35h0M498.92 749.35h0M503.19 749.35h0M507.46 749.35h0M511.73 749.35h0M516 749.35h0" stroke="#f83410" stroke-width="5.1" stroke-linecap="round"/>
<path d="M71.9 749.25h0M76.17 748.05h0M80.44 746.91h0M84.71 745.88h0M88.98 744.99h0M93.25 744.25h0M97.52 743.65h0M101.79 743.18h0M106.06 742.82h0M110.33 742.54h0M114.6 742.34h0M118.87 742.18h0M123.14 742.06h0M127.41 741.97h0M131.68 741.9h0M135.95 741.85h0M140.22 741.81h0M144.49 741.78h0M148.77 741.76h0M153.04 741.74h0M157.31 741.73h0M161.58 741.71h0M165.85 741.7h0M170.12 741.69h0M174.39 741.68h0M178.66 741.67h0M182.93 741.67h0M187.2 741.66h0M191.47 741.65h0M195.74 741.65h0M200.01 741.64h0M204.28 741.63h0M208.55 741.63h0M212.82 741.62h0M217.09 741.61h0M221.36 741.61h0M225.63 741.6h0M229.9 741.6h0M234.17 741.59h0M238.44 741.58h0M242.71 741.58h0M246.98 741.57h0M251.25 741.57h0M255.52 741.56h0M259.79 741.55h0M264.06 741.55h0M268.33 741.54h0M272.6 741.54h0M276.87 741.53h0M281.14 741.52h0M285.41 741.52h0M289.68 741.51h0M293.95 741.5h0M298.22 741.5h0M302.49 741.49h0M306.76 741.49h0M311.03 741.48h0M315.3 741.47h0M319.57 741.47h0M323.84 741.46h0M328.11 741.46h0M332.38 741.45h0M336.65 741.44h0M340.92 741.44h0M345.19 741.43h0M349.46 741.43h0M353.73 741.42h0M358 741.41h0M362.27 741.41h0M366.54 741.4h0M370.81 741.4h0M375.08 741.39h0M379.35 741.38h0M383.62 741.38h0M387.89 741.37h0M392.16 741.37h0M396.43 741.36h0M400.7 741.35h0M404.97 741.35h0M409.24 741.34h0M413.51 741.33h0M417.78 741.33h0M422.05 741.32h0M426.32 741.32h0M430.59 741.31h0M434.86 741.3h0M439.13 741.3h0M443.41 741.29h0M447.68 741.29h0M451.95 741.28h0M456.22 741.27h0M460.49 741.27h0M464.76 741.26h0M469.03 741.26h0M473.3 741.25h0M477.57 741.24h0M481.84 741.24h0M486.11 741.23h0M490.38 741.23h0M494.65 741.22h0M498.92 741.21h0M503.19 741.21h0M507.46 741.2h0M511.73 741.2h0M516 741.19h0" stroke="#f83410" stroke-width="5.1" stroke-linecap="round"/>
<path d="M71.9 746.35l2.61 2.9l-2.61 2.9l-2.61 -2.9zM76.17 744.57l2.61 2.9l-2.61 2.9l-2.61 -2.9zM80.44 742.8l2.61 2.9l-2.61 2.9l-2.61 -2.9zM84.71 741.03l2.61 2.9l-2.61 2.9l-2.61 -2.9zM88.98 739.26l2.61 2.9l-2.61 2.9l-2.61 -2.9zM93.25 737.51l2.61 2.9l-2.61 2.9l-2.61 -2.9zM97.52 735.76l2.61 2.9l-2.61 2.9l-2.61 -2.9zM101.79 734.02l2.61 2.9l-2.61 2.9l-2.61 -2.9zM106.06 732.3l2.61 2.9l-2.61 2.9l-2.61 -2.9zM110.33 730.6l2.61 2.9l-2.61 2.9l-2.61 -2.9zM114.6 728.91l2.61 2.9l-2.61 2.9l-2.61 -2.9zM118.87 727.25l2.61 2.9l-2.61 2.9l-2.61 -2.9zM123.14 725.6l2.61 2.9l-2.61 2.9l-2.61 -2.9zM127.41 723.98l2.61 2.9l-2.61 2.9l-2.61 -2.9zM131.68 722.38l2.61 2.9l-2.61 2.9l-2.61 -2.9zM135.95 720.8l2.61 2.9l-2.61 2.9l-2.61 -2.9zM140.22 719.25l2.61 2.9l-2.61 2.9l-2.61 -2.9zM144.49 717.73l2.61 2.9l-2.61 2.9l-2.61 -2.9zM148.77 716.24l2.61 2.9l-2.61 2.9l-2.61 -2.9zM153.04 714.77l2.61 2.9l-2.61 2.9l-2.61 -2.9zM157.31 713.34l2.61 2.9l-2.61 2.9l-2.61 -2.9zM161.58 711.94l2.61 2.9l-2.61 2.9l-2.61 -2.9zM165.85 710.56l2.61 2.9l-2.61 2.9l-2.61 -2.9zM170.12 709.22l2.61 2.9l-2.61 2.9l-2.61 -2.9zM174.39 707.92l2.61 2.9l-2.61 2.9l-2.61 -2.9zM178.66 706.64l2.61 2.9l-2.61 2.9l-2.61 -2.9zM182.93 705.4l2.61 2.9l-2.61 2.9l-2.61 -2.9zM187.2 704.19l2.61 2.9l-2.61 2.9l-2.61 -2.9zM191.47 703.01l2.61 2.9l-2.61 2.9l-2.61 -2.9zM195.74 701.86l2.61 2.9l-2.61 2.9l-2.61 -2.9zM200.01 700.75l2.61 2.9l-2.61 2.9l-2.61 -2.9zM204.28 699.67l2.61 2.9l-2.61 2.9l-2.61 -2.9zM208.55 698.62l2.61 2.9l-2.61 2.9l-2.61 -2.9zM212.82 697.61l2.61 2.9l-2.61 2.9l-2.61 -2.9zM217.09 696.62l2.61 2.9l-2.61 2.9l-2.61 -2.9zM221.36 695.67l2.61 2.9l-2.61 2.9l-2.61 -2.9zM225.63 694.75l2.61 2.9l-2.61 2.9l-2.61 -2.9zM229.9 693.85l2.61 2.9l-2.61 2.9l-2.61 -2.9zM234.17 692.99l2.61 2.9l-2.61 2.9l-2.61 -2.9zM238.44 692.15l2.61 2.9l-2.61 2.9l-2.61 -2.9zM242.71 691.35l2.61 2.9l-2.61 2.9l-2.61 -2.9zM246.98 690.57l2.61 2.9l-2.61 2.9l-2.61 -2.9zM251.25 689.82l2.61 2.9l-2.61 2.9l-2.61 -2.9zM255.52 689.09l2.61 2.9l-2.61 2.9l-2.61 -2.9zM259.79 688.39l2.61 2.9l-2.61 2.9l-2.61 -2.9zM264.06 687.71l2.61 2.9l-2.61 2.9l-2.61 -2.9zM268.33 687.06l2.61 2.9l-2.61 2.9l-2.61 -2.9zM272.6 686.44l2.61 2.9l-2.61 2.9l-2.61 -2.9zM276.87 685.83l2.61 2.9l-2.61 2.9l-2.61 -2.9zM281.14 685.25l2.61 2.9l-2.61 2.9l-2.61 -2.9zM285.41 684.69l2.61 2.9l-2.61 2.9l-2.61 -2.9zM289.68 684.15l2.61 2.9l-2.61 2.9l-2.61 -2.9zM293.95 683.64l2.61 2.9l-2.61 2.9l-2.61 -2.9zM298.22 683.14l2.61 2.9l-2.61 2.9l-2.61 -2.9zM302.49 682.66l2.61 2.9l-2.61 2.9l-2.61 -2.9zM306.76 682.2l2.61 2.9l-2.61 2.9l-2.61 -2.9zM311.03 681.75l2.61 2.9l-2.61 2.9l-2.61 -2.9zM315.3 681.33l2.61 2.9l-2.61 2.9l-2.61 -2.9zM319.57 680.92l2.61 2.9l-2.61 2.9l-2.61 -2.9zM323.84 680.52l2.61 2.9l-2.61 2.9l-2.61 -2.9zM328.11 680.14l2.61 2.9l-2.61 2.9l-2.61 -2.9zM332.38 679.78l2.61 2.9l-2.61 2.9l-2.61 -2.9zM336.65 679.43l2.61 2.9l-2.61 2.9l-2.61 -2.9zM340.92 679.09l2.61 2.9l-2.61 2.9l-2.61 -2.9zM345.19 678.77l2.61 2.9l-2.61 2.9l-2.61 -2.9zM349.46 678.46l2.61 2.9l-2.61 2.9l-2.61 -2.9zM353.73 678.16l2.61 2.9l-2.61 2.9l-2.61 -2.9zM358 677.87l2.61 2.9l-2.61 2.9l-2.61 -2.9zM362.27 677.59l2.61 2.9l-2.61 2.9l-2.61 -2.9zM366.54 677.33l2.61 2.9l-2.61 2.9l-2.61 -2.9zM370.81 677.07l2.61 2.9l-2.61 2.9l-2.61 -2.9zM375.08 676.83l2.61 2.9l-2.61 2.9l-2.61 -2.9zM379.35 676.59l2.61 2.9l-2.61 2.9l-2.61 -2.9zM383.62 676.36l2.61 2.9l-2.61 2.9l-2.61 -2.9zM387.89 676.14l2.61 2.9l-2.61 2.9l-2.61 -2.9zM392.16 675.93l2.61 2.9l-2.61 2.9l-2.61 -2.9zM396.43 675.73l2.61 2.9l-2.61 2.9l-2.61 -2.9zM400.7 675.54l2.61 2.9l-2.61 2.9l-2.61 -2.9zM404.97 675.35l2.61 2.9l-2.61 2.9l-2.61 -2.9zM409.24 675.17l2.61 2.9l-2.61 2.9l-2.61 -2.9zM413.51 675l2.61 2.9l-2.61 2.9l-2.61 -2.9zM417.78 674.83l2.61 2.9l-2.61 2.9l-2.61 -2.9zM422.05 674.67l2.61 2.9l-2.61 2.9l-2.61 -2.9zM426.32 674.51l2.61 2.9l-2.61 2.9l-2.61 -2.9zM430.59 674.36l2.61 2.9l-2.61 2.9l-2.61 -2.9zM434.86 674.22l2.61 2.9l-2.61 2.9l-2.61 -2.9zM439.13 674.08l2.61 2.9l-2.61 2.9l-2.61 -2.9zM443.41 673.94l2.61 2.9l-2.61 2.9l-2.61 -2.9zM447.68 673.82l2.61 2.9l-2.61 2.9l-2.61 -2.9zM451.95 673.69l2.61 2.9l-2.61 2.9l-2.61 -2.9zM456.22 673.57l2.61 2.9l-2.61 2.9l-2.61 -2.9zM460.49 673.45l2.61 2.9l-2.61 2.9l-2.61 -2.9zM464.76 673.34l2.61 2.9l-2.61 2.9l-2.61 -2.9zM469.03 673.23l2.61 2.9l-2.61 2.9l-2.61 -2.9zM473.3 673.12l2.61 2.9l-2.61 2.9l-2.61 -2.9zM477.57 673.02l2.61 2.9l-2.61 2.9l-2.61 -2.9zM481.84 672.92l2.61 2.9l-2.61 2.9l-2.61 -2.9zM486.11 672.83l2.61 2.9l-2.61 2.9l-2.61 -2.9zM490.38 672.73l2.61 2.9l-2.61 2.9l-2.61 -2.9zM494.65 672.64l2.61 2.9l-2.61 2.9l-2.61 -2.9zM498.92 672.55l2.61 2.9l-2.61 2.9l-2.61 -2.9zM503.19 672.47l2.61 2.9l-2.61 2.9l-2.61 -2.9zM507.46 672.39l2.61 2.9l-2.61 2.9l-2.61 -2.9zM511.73 672.31l2.61 2.9l-2.61 2.9l-2.61 -2.9zM516 672.23l2.61 2.9l-2.61 2.9l-2.61 -2.9z" fill="#f83410"/>
<path d="M71.9 752.22l3.1 -5.4l-6.21 0zM76.17 749.5l3.1 -5.4l-6.21 0zM80.44 746.78l3.1 -5.4l-6.21 0zM84.71 744.05l3.1 -5.4l-6.21 0zM88.98 741.34l3.1 -5.4l-6.21 0zM93.25 738.63l3.1 -5.4l-6.21 0zM97.52 735.92l3.1 -5.4l-6.21 0zM101.79 733.22l3.1 -5.4l-6.21 0zM106.06 730.53l3.1 -5.4l-6.21 0zM110.33 727.85l3.1 -5.4l-6.21 0zM114.6 725.18l3.1 -5.4l-6.21 0zM118.87 722.52l3.1 -5.4l-6.21 0zM123.14 719.88l3.1 -5.4l-6.21 0zM127.41 717.25l3.1 -5.4l-6.21 0zM131.68 714.63l3.1 -5.4l-6.21 0zM135.95 712.03l3.1 -5.4l-6.21 0zM140.22 709.44l3.1 -5.4l-6.21 0zM144.49 706.88l3.1 -5.4l-6.21 0zM148.77 704.33l3.1 -5.4l-6.21 0zM153.04 701.8l3.1 -5.4l-6.21 0zM157.31 699.29l3.1 -5.4l-6.21 0zM161.58 696.8l3.1 -5.4l-6.21 0zM165.85 694.33l3.1 -5.4l-6.21 0zM170.12 691.89l3.1 -5.4l-6.21 0zM174.39 689.47l3.1 -5.4l-6.21 0zM178.66 687.07l3.1 -5.4l-6.21 0zM182.93 684.7l3.1 -5.4l-6.21 0zM187.2 682.35l3.1 -5.4l-6.21 0zM191.47 680.02l3.1 -5.4l-6.21 0zM195.74 677.72l3.1 -5.4l-6.21 0zM200.01 675.45l3.1 -5.4l-6.21 0zM204.28 673.21l3.1 -5.4l-6.21 0zM208.55 670.99l3.1 -5.4l-6.21 0zM212.82 668.79l3.1 -5.4l-6.21 0zM217.09 666.63l3.1 -5.4l-6.21 0zM221.36 664.49l3.1 -5.4l-6.21 0zM225.63 662.37l3.1 -5.4l-6.21 0zM229.9 660.29l3.1 -5.4l-6.21 0zM234.17 658.23l3.1 -5.4l-6.21 0zM238.44 656.2l3.1 -5.4l-6.21 0zM242.71 654.2l3.1 -5.4l-6.21 0zM246.98 652.23l3.1 -5.4l-6.21 0zM251.25 650.28l3.1 -5.4l-6.21 0zM255.52 648.36l3.1 -5.4l-6.21 0zM259.79 646.47l3.1 -5.4l-6.21 0zM264.06 644.61l3.1 -5.4l-6.21 0zM268.33 642.77l3.1 -5.4l-6.21 0zM272.6 640.96l3.1 -5.4l-6.21 0zM276.87 639.17l3.1 -5.4l-6.21 0zM281.14 637.42l3.1 -5.4l-6.21 0zM285.41 635.68l3.1 -5.4l-6.21 0zM289.68 633.98l3.1 -5.4l-6.21 0zM293.95 632.3l3.1 -5.4l-6.21 0zM298.22 630.64l3.1 -5.4l-6.21 0zM302.49 629.02l3.1 -5.4l-6.21 0zM306.76 627.41l3.1 -5.4l-6.21 0zM311.03 625.83l3.1 -5.4l-6.21 0zM315.3 624.27l3.1 -5.4l-6.21 0zM319.57 622.74l3.1 -5.4l-6.21 0zM323.84 621.23l3.1 -5.4l-6.21 0zM328.11 619.75l3.1 -5.4l-6.21 0zM332.38 618.28l3.1 -5.4l-6.21 0zM336.65 616.84l3.1 -5.4l-6.21 0zM340.92 615.42l3.1 -5.4l-6.21 0zM345.19 614.03l3.1 -5.4l-6.21 0zM349.46 612.65l3.1 -5.4l-6.21 0zM353.73 611.29l3.1 -5.4l-6.21 0zM358 609.96l3.1 -5.4l-6.21 0zM362.27 608.64l3.1 -5.4l-6.21 0zM366.54 607.34l3.1 -5.4l-6.21 0zM370.81 606.07l3.1 -5.4l-6.21 0zM375.08 604.81l3.1 -5.4l-6.21 0zM379.35 603.57l3.1 -5.4l-6.21 0zM383.62 602.34l3.1 -5.4l-6.21 0zM387.89 601.14l3.1 -5.4l-6.21 0zM392.16 599.95l3.1 -5.4l-6.21 0zM396.43 598.78l3.1 -5.4l-6.21 0zM400.7 597.62l3.1 -5.4l-6.21 0zM404.97 596.48l3.1 -5.4l-6.21 0zM409.24 595.36l3.1 -5.4l-6.21 0zM413.51 594.25l3.1 -5.4l-6.21 0zM417.78 593.16l3.1 -5.4l-6.21 0zM422.05 592.08l3.1 -5.4l-6.21 0zM426.32 591.01l3.1 -5.4l-6.21 0zM430.59 589.96l3.1 -5.4l-6.21 0zM434.86 588.92l3.1 -5.4l-6.21 0zM439.13 587.89l3.1 -5.4l-6.21 0zM443.41 586.88l3.1 -5.4l-6.21 0zM447.68 585.88l3.1 -5.4l-6.21 0zM451.95 584.89l3.1 -5.4l-6.21 0zM456.22 583.92l3.1 -5.4l-6.21 0zM460.49 582.95l3.1 -5.4l-6.21 0zM464.76 582l3.1 -5.4l-6.21 0zM469.03 581.05l3.1 -5.4l-6.21 0zM473.3 580.12l3.1 -5.4l-6.21 0zM477.57 579.19l3.1 -5.4l-6.21 0zM481.84 578.28l3.1 -5.4l-6.21 0zM486.11 577.38l3.1 -5.4l-6.21 0zM490.38 576.48l3.1 -5.4l-6.21 0zM494.65 575.6l3.1 -5.4l-6.21 0zM498.92 574.72l3.1 -5.4l-6.21 0zM503.19 573.85l3.1 -5.4l-6.21 0zM507.46 572.99l3.1 -5.4l-6.21 0zM511.73 572.14l3.1 -5.4l-6.21 0zM516 571.3l3.1 -5.4l-6.21 0z" fill="#f83410"/>
<path d="M71.9 749.25h0M76.17 745.44h0M80.44 741.64h0M84.71 737.83h0M88.98 734.03h0M93.25 730.24h0M97.52 726.45h0M101.79 722.66h0M106.06 718.88h0M110.33 715.12h0M114.6 711.36h0M118.87 707.61h0M123.14 703.87h0M127.41 700.15h0M131.68 696.44h0M135.95 692.74h0M140.22 689.06h0M144.49 685.4h0M148.77 681.75h0M153.04 678.12h0M157.31 674.51h0M161.58 670.92h0M165.85 667.35h0M170.12 663.8h0M174.39 660.27h0M178.66 656.76h0M182.93 653.28h0M187.2 649.82h0M191.47 646.38h0M195.74 642.97h0M200.01 639.58h0M204.28 636.21h0M208.55 632.88h0M212.82 629.56h0M217.09 626.28h0M221.36 623.01h0M225.63 619.78h0M229.9 616.57h0M234.17 613.39h0M238.44 610.24h0M242.71 607.11h0M246.98 604.01h0M251.25 600.94h0M255.52 597.89h0M259.79 594.87h0M264.06 591.88h0M268.33 588.91h0M272.6 585.98h0M276.87 583.06h0M281.14 580.18h0M285.41 577.32h0M289.68 574.49h0M293.95 571.69h0M298.22 568.91h0M302.49 566.15h0M306.76 563.42h0M311.03 560.72h0M315.3 558.04h0M319.57 555.39h0M323.84 552.76h0M328.11 550.16h0M332.38 547.58h0M336.65 545.02h0M340.92 542.49h0M345.19 539.98h0M349.46 537.49h0M353.73 535.03h0M358 532.58h0M362.27 530.16h0M366.54 527.76h0M370.81 525.38h0M375.08 523.02h0M379.35 520.68h0M383.62 518.36h0M387.89 516.06h0M392.16 513.78h0M396.43 511.52h0M400.7 509.28h0M404.97 507.05h0M409.24 504.84h0M413.51 502.65h0M417.78 500.47h0M422.05 498.32h0M426.32 496.17h0M430.59 494.05h0M434.86 491.94h0M439.13 489.84h0M443.41 487.76h0M447.68 485.7h0M451.95 483.64h0M456.22 481.61h0M460.49 479.58h0M464.76 477.57h0M469.03 475.57h0M473.3 473.58h0M477.57 471.61h0M481.84 469.65h0M486.11 467.7h0M490.38 465.76h0M494.65 463.83h0M498.92 461.91h0M503.19 460.01h0M507.46 458.11h0M511.73 456.22h0M516 454.35h0" stroke="#f83410" stroke-width="5.1" stroke-linecap="round"/>
<path d="M71.9 749.4h0M76.17 749.4h0M80.44 749.4h0M84.71 749.4h0M88.98 749.4h0M93.25 749.4h0M97.52 749.4h0M101.79 749.4h0M106.06 749.4h0M110.33 749.4h0M114.6 749.4h0M118.87 749.4h0M123.14 749.4h0M127.41 749.4h0M131.68 749.4h0M135.95 749.4h0M140.22 749.4h0M144.49 749.4h0M148.77 749.4h0M153.04 749.4h0M157.31 749.4h0M161.58 749.4h0M165.85 749.4h0M170.12 749.4h0M174.39 749.4h0M178.66 749.4h0M182.93 749.4h0M187.2 749.4h0M191.47 749.4h0M195.74 749.4h0M200.01 749.4h0M204.28 749.4h0M208.55 749.4h0M212.82 749.4h0M217.09 749.4h0M221.36 749.4h0M225.63 749.4h0M229.9 749.4h0M234.17 749.4h0M238.44 749.4h0M242.71 749.4h0M246.98 749.4h0M251.25 749.4h0M255.52 749.4h0M259.79 749.4h0M264.06 749.4h0M268.33 749.4h0M272.6 749.4h0M276.87 749.4h0M281.14 749.4h0M285.41 749.4h0M289.68 749.4h0M293.95 749.4h0M298.22 749.4h0M302.49 749.4h0M306.76 749.4h0M311.03 749.4h0M315.3 749.4h0M319.57 749.4h0M323.84 749.4h0M328.11 749.4h0M332.38 749.4h0M336.65 749.4h0M340.92 749.4h0M345.19 749.4h0M349.46 749.4h0M353.73 749.4h0M358 749.4h0M362.27 749.4h0M366.54 749.4h0M370.81 749.4h0M375.08 749.4h0M379.35 749.4h0M383.62 749.4h0M387.89 749.4h0M392.16 749.4h0M396.43 749.4h0M400.7 749.4h0M404.97 749.4h0M409.24 749.4h0M413.51 749.4h0M417.78 749.4h0M422.05 749.4h0M426.32 749.4h0M430.59 749.4h0M434.86 749.4h0M439.13 749.4h0M443.41 749.4h0M447.68 749.4h0M451.95 749.4h0M456.22 749.4h0M460.49 749.4h0M464.76 749.4h0M469.03 749.4h0M473.3 749.4h0M477.57 749.4h0M481.84 749.4h0M486.11 749.4h0M490.38 749.4h0M494.65 749.4h0M498.92 749.4h0M503.19 749.4h0M507.46 749.4h0M511.73 749.4h0M516 749.4h0" stroke="#d0000e" stroke-width="5.1" stroke-linecap="round"/>
<path d="M71.9 749.25h0M76.17 748.08h0M80.44 746.97h0M84.71 745.97h0M88.98 745.11h0M93.25 744.4h0M97.52 743.83h0M101.79 743.38h0M106.06 743.04h0M110.33 742.78h0M114.6 742.59h0M118.87 742.44h0M123.14 742.33h0M127.41 742.25h0M131.68 742.19h0M135.95 742.15h0M140.22 742.11h0M144.49 742.08h0M148.77 742.06h0M153.04 742.05h0M157.31 742.03h0M161.58 742.02h0M165.85 742.01h0M170.12 742h0M174.39 742h0M178.66 741.99h0M182.93 741.98h0M187.2 741.98h0M191.47 741.97h0M195.74 741.96h0M200.01 741.96h0M204.28 741.95h0M208.55 741.95h0M212.82 741.94h0M217.09 741.94h0M221.36 741.93h0M225.63 741.93h0M229.9 741.92h0M234.17 741.92h0M238.44 741.91h0M242.71 741.91h0M246.98 741.9h0M251.25 741.9h0M255.52 741.89h0M259.79 741.88h0M264.06 741.88h0M268.33 741.87h0M272.6 741.87h0M276.87 741.86h0M281.14 741.86h0M285.41 741.85h0M289.68 741.85h0M293.95 741.84h0M298.22 741.84h0M302.49 741.83h0M306.76 741.83h0M311.03 741.82h0M315.3 741.82h0M319.57 741.81h0M323.84 741.81h0M328.11 741.8h0M332.38 741.8h0M336.65 741.79h0M340.92 741.79h0M345.19 741.78h0M349.46 741.78h0M353.73 741.77h0M358 741.77h0M362.27 741.76h0M366.54 741.76h0M370.81 741.75h0M375.08 741.74h0M379.35 741.74h0M383.62 741.73h0M387.89 741.73h0M392.16 741.72h0M396.43 741.72h0M400.7 741.71h0M404.97 741.71h0M409.24 741.7h0M413.51 741.7h0M417.78 741.69h0M422.05 741.69h0M426.32 741.68h0M430.59 741.68h0M434.86 741.67h0M439.13 741.67h0M443.41 741.66h0M447.68 741.66h0M451.95 741.65h0M456.22 741.65h0M460.49 741.64h0M464.76 741.64h0M469.03 741.63h0M473.3 741.63h0M477.57 741.62h0M481.84 741.61h0M486.11 741.61h0M490.38 741.6h0M494.65 741.6h0M498.92 741.59h0M503.19 741.59h0M507.46 741.58h0M511.73 741.58h0M516 741.57h0" stroke="#d0000e" stroke-width="5.1" stroke-linecap="round"/>
<path d="M71.9 746.35l2.61 2.9l-2.61 2.9l-2.61 -2.9zM76.17 744.6l2.61 2.9l-2.61 2.9l-2.61 -2.9zM80.44 742.84l2.61 2.9l-2.61 2.9l-2.61 -2.9zM84.71 741.1l2.61 2.9l-2.61 2.9l-2.61 -2.9zM88.98 739.35l2.61 2.9l-2.61 2.9l-2.61 -2.9zM93.25 737.62l2.61 2.9l-2.61 2.9l-2.61 -2.9zM97.52 735.9l2.61 2.9l-2.61 2.9l-2.61 -2.9zM101.79 734.18l2.61 2.9l-2.61 2.9l-2.61 -2.9zM106.06 732.49l2.61 2.9l-2.61 2.9l-2.61 -2.9zM110.33 730.81l2.61 2.9l-2.61 2.9l-2.61 -2.9zM114.6 729.14l2.61 2.9l-2.61 2.9l-2.61 -2.9zM118.87 727.5l2.61 2.9l-2.61 2.9l-2.61 -2.9zM123.14 725.88l2.61 2.9l-2.61 2.9l-2.61 -2.9zM127.41 724.28l2.61 2.9l-2.61 2.9l-2.61 -2.9zM131.68 722.7l2.61 2.9l-2.61 2.9l-2.61 -2.9zM135.95 721.15l2.61 2.9l-2.61 2.9l-2.61 -2.9zM140.22 719.63l2.61 2.9l-2.61 2.9l-2.61 -2.9zM144.49 718.13l2.61 2.9l-2.61 2.9l-2.61 -2.9zM148.77 716.66l2.61 2.9l-2.61 2.9l-2.61 -2.9zM153.04 715.22l2.61 2.9l-2.61 2.9l-2.61 -2.9zM157.31 713.81l2.61 2.9l-2.61 2.9l-2.61 -2.9zM161.58 712.43l2.61 2.9l-2.61 2.9l-2.61 -2.9zM165.85 711.09l2.61 2.9l-2.61 2.9l-2.61 -2.9zM170.12 709.77l2.61 2.9l-2.61 2.9l-2.61 -2.9zM174.39 708.49l2.61 2.9l-2.61 2.9l-2.61 -2.9zM178.66 707.24l2.61 2.9l-2.61 2.9l-2.61 -2.9zM182.93 706.02l2.61 2.9l-2.61 2.9l-2.61 -2.9zM187.2 704.84l2.61 2.9l-2.61 2.9l-2.61 -2.9zM191.47 703.68l2.61 2.9l-2.61 2.9l-2.61 -2.9zM195.74 702.56l2.61 2.9l-2.61 2.9l-2.61 -2.9zM200.01 701.48l2.61 2.9l-2.61 2.9l-2.61 -2.9zM204.28 700.42l2.61 2.9l-2.61 2.9l-2.61 -2.9zM208.55 699.4l2.61 2.9l-2.61 2.9l-2.61 -2.9zM212.82 698.41l2.61 2.9l-2.61 2.9l-2.61 -2.9zM217.09 697.44l2.61 2.9l-2.61 2.9l-2.61 -2.9zM221.36 696.51l2.61 2.9l-2.61 2.9l-2.61 -2.9zM225.63 695.61l2.61 2.9l-2.61 2.9l-2.61 -2.9zM229.9 694.74l2.61 2.9l-2.61 2.9l-2.61 -2.9zM234.17 693.9l2.61 2.9l-2.61 2.9l-2.61 -2.9zM238.44 693.09l2.61 2.9l-2.61 2.9l-2.61 -2.9zM242.71 692.3l2.61 2.9l-2.61 2.9l-2.61 -2.9zM246.98 691.55l2.61 2.9l-2.61 2.9l-2.61 -2.9zM251.25 690.82l2.61 2.9l-2.61 2.9l-2.61 -2.9zM255.52 690.11l2.61 2.9l-2.61 2.9l-2.61 -2.9zM259.79 689.43l2.61 2.9l-2.61 2.9l-2.61 -2.9zM264.06 688.78l2.61 2.9l-2.61 2.9l-2.61 -2.9zM268.33 688.15l2.61 2.9l-2.61 2.9l-2.61 -2.9zM272.6 687.54l2.61 2.9l-2.61 2.9l-2.61 -2.9zM276.87 686.95l2.61 2.9l-2.61 2.9l-2.61 -2.9zM281.14 686.39l2.61 2.9l-2.61 2.9l-2.61 -2.9zM285.41 685.85l2.61 2.9l-2.61 2.9l-2.61 -2.9zM289.68 685.32l2.61 2.9l-2.61 2.9l-2.61 -2.9zM293.95 684.82l2.61 2.9l-2.61 2.9l-2.61 -2.9zM298.22 684.34l2.61 2.9l-2.61 2.9l-2.61 -2.9zM302.49 683.87l2.61 2.9l-2.61 2.9l-2.61 -2.9zM306.76 683.43l2.61 2.9l-2.61 2.9l-2.61 -2.9zM311.03 683l2.61 2.9l-2.61 2.9l-2.61 -2.9zM315.3 682.58l2.61 2.9l-2.61 2.9l-2.61 -2.9zM319.57 682.19l2.61 2.9l-2.61 2.9l-2.61 -2.9zM323.84 681.8l2.61 2.9l-2.61 2.9l-2.61 -2.9zM328.11 681.44l2.61 2.9l-2.61 2.9l-2.61 -2.9zM332.38 681.08l2.61 2.9l-2.61 2.9l-2.61 -2.9zM336.65 680.75l2.61 2.9l-2.61 2.9l-2.61 -2.9zM340.92 680.42l2.61 2.9l-2.61 2.9l-2.61 -2.9zM345.19 680.11l2.61 2.9l-2.61 2.9l-2.61 -2.9zM349.46 679.8l2.61 2.9l-2.61 2.9l-2.61 -2.9zM353.73 679.51l2.61 2.9l-2.61 2.9l-2.61 -2.9zM358 679.24l2.61 2.9l-2.61 2.9l-2.61 -2.9zM362.27 678.97l2.61 2.9l-2.61 2.9l-2.61 -2.9zM366.54 678.71l2.61 2.9l-2.61 2.9l-2.61 -2.9zM370.81 678.46l2.61 2.9l-2.61 2.9l-2.61 -2.9zM375.08 678.22l2.61 2.9l-2.61 2.9l-2.61 -2.9zM379.35 677.99l2.61 2.9l-2.61 2.9l-2.61 -2.9zM383.62 677.77l2.61 2.9l-2.61 2.9l-2.61 -2.9zM387.89 677.56l2.61 2.9l-2.61 2.9l-2.61 -2.9zM392.16 677.36l2.61 2.9l-2.61 2.9l-2.61 -2.9zM396.43 677.16l2.61 2.9l-2.61 2.9l-2.61 -2.9zM400.7 676.97l2.61 2.9l-2.61 2.9l-2.61 -2.9zM404.97 676.79l2.61 2.9l-2.61 2.9l-2.61 -2.9zM409.24 676.61l2.61 2.9l-2.61 2.9l-2.61 -2.9zM413.51 676.44l2.61 2.9l-2.61 2.9l-2.61 -2.9zM417.78 676.28l2.61 2.9l-2.61 2.9l-2.61 -2.9zM422.05 676.12l2.61 2.9l-2.61 2.9l-2.61 -2.9zM426.32 675.97l2.61 2.9l-2.61 2.9l-2.61 -2.9zM430.59 675.82l2.61 2.9l-2.61 2.9l-2.61 -2.9zM434.86 675.68l2.61 2.9l-2.61 2.9l-2.61 -2.9zM439.13 675.54l2.61 2.9l-2.61 2.9l-2.61 -2.9zM443.41 675.41l2.61 2.9l-2.61 2.9l-2.61 -2.9zM447.68 675.28l2.61 2.9l-2.61 2.9l-2.61 -2.9zM451.95 675.16l2.61 2.9l-2.61 2.9l-2.61 -2.9zM456.22 675.04l2.61 2.9l-2.61 2.9l-2.61 -2.9zM460.49 674.92l2.61 2.9l-2.61 2.9l-2.61 -2.9zM464.76 674.81l2.61 2.9l-2.61 2.9l-2.61 -2.9zM469.03 674.7l2.61 2.9l-2.61 2.9l-2.61 -2.9zM473.3 674.59l2.61 2.9l-2.61 2.9l-2.61 -2.9zM477.57 674.49l2.61 2.9l-2.61 2.9l-2.61 -2.9zM481.84 674.39l2.61 2.9l-2.61 2.9l-2.61 -2.9zM486.11 674.29l2.61 2.9l-2.61 2.9l-2.61 -2.9zM490.38 674.2l2.61 2.9l-2.61 2.9l-2.61 -2.9zM494.65 674.11l2.61 2.9l-2.61 2.9l-2.61 -2.9zM498.92 674.02l2.61 2.9l-2.61 2.9l-2.61 -2.9zM503.19 673.93l2.61 2.9l-2.61 2.9l-2.61 -2.9zM507.46 673.85l2.61 2.9l-2.61 2.9l-2.61 -2.9zM511.73 673.77l2.61 2.9l-2.61 2.9l-2.61 -2.9zM516 673.69l2.61 2.9l-2.61 2.9l-2.61 -2.9z" fill="#d0000e"/>
<path d="M71.9 752.22l3.1 -5.4l-6.21 0zM76.17 749.52l3.1 -5.4l-6.21 0zM80.44 746.83l3.1 -5.4l-6.21 0zM84.71 744.13l3.1 -5.4l-6.21 0zM88.98 741.44l3.1 -5.4l-6.21 0zM93.25 738.76l3.1 -5.4l-6.21 0zM97.52 736.08l3.1 -5.4l-6.21 0zM101.79 733.4l3.1 -5.4l-6.21 0zM106.06 730.74l3.1 -5.4l-6.21 0zM110.33 728.08l3.1 -5.4l-6.21 0zM114.6 725.44l3.1 -5.4l-6.21 0zM118.87 722.81l3.1 -5.4l-6.21 0zM123.14 720.19l3.1 -5.4l-6.21 0zM127.41 717.58l3.1 -5.4l-6.21 0zM131.68 714.99l3.1 -5.4l-6.21 0zM135.95 712.41l3.1 -5.4l-6.21 0zM140.22 709.86l3.1 -5.4l-6.21 0zM144.49 707.31l3.1 -5.4l-6.21 0zM148.77 704.79l3.1 -5.4l-6.21 0zM153.04 702.29l3.1 -5.4l-6.21 0zM157.31 699.8l3.1 -5.4l-6.21 0zM161.58 697.34l3.1 -5.4l-6.21 0zM165.85 694.9l3.1 -5.4l-6.21 0zM170.12 692.48l3.1 -5.4l-6.21 0zM174.39 690.08l3.1 -5.4l-6.21 0zM178.66 687.71l3.1 -5.4l-6.21 0zM182.93 685.36l3.1 -5.4l-6.21 0zM187.2 683.03l3.1 -5.4l-6.21 0zM191.47 680.73l3.1 -5.4l-6.21 0zM195.74 678.46l3.1 -5.4l-6.21 0zM200.01 676.21l3.1 -5.4l-6.21 0zM204.28 673.99l3.1 -5.4l-6.21 0zM208.55 671.79l3.1 -5.4l-6.21 0zM212.82 669.62l3.1 -5.4l-6.21 0zM217.09 667.48l3.1 -5.4l-6.21 0zM221.36 665.36l3.1 -5.4l-6.21 0zM225.63 663.27l3.1 -5.4l-6.21 0zM229.9 661.21l3.1 -5.4l-6.21 0zM234.17 659.18l3.1 -5.4l-6.21 0zM238.44 657.17l3.1 -5.4l-6.21 0zM242.71 655.19l3.1 -5.4l-6.21 0zM246.98 653.24l3.1 -5.4l-6.21 0zM251.25 651.31l3.1 -5.4l-6.21 0zM255.52 649.41l3.1 -5.4l-6.21 0zM259.79 647.54l3.1 -5.4l-6.21 0zM264.06 645.7l3.1 -5.4l-6.21 0zM268.33 643.88l3.1 -5.4l-6.21 0zM272.6 642.09l3.1 -5.4l-6.21 0zM276.87 640.33l3.1 -5.4l-6.21 0zM281.14 638.59l3.1 -5.4l-6.21 0zM285.41 636.88l3.1 -5.4l-6.21 0zM289.68 635.19l3.1 -5.4l-6.21 0zM293.95 633.53l3.1 -5.4l-6.21 0zM298.22 631.89l3.1 -5.4l-6.21 0zM302.49 630.28l3.1 -5.4l-6.21 0zM306.76 628.69l3.1 -5.4l-6.21 0zM311.03 627.13l3.1 -5.4l-6.21 0zM315.3 625.59l3.1 -5.4l-6.21 0zM319.57 624.08l3.1 -5.4l-6.21 0zM323.84 622.58l3.1 -5.4l-6.21 0zM328.11 621.11l3.1 -5.4l-6.21 0zM332.38 619.67l3.1 -5.4l-6.21 0zM336.65 618.24l3.1 -5.4l-6.21 0zM340.92 616.83l3.1 -5.4l-6.21 0zM345.19 615.45l3.1 -5.4l-6.21 0zM349.46 614.09l3.1 -5.4l-6.21 0zM353.73 612.75l3.1 -5.4l-6.21 0zM358 611.42l3.1 -5.4l-6.21 0zM362.27 610.12l3.1 -5.4l-6.21 0zM366.54 608.84l3.1 -5.4l-6.21 0zM370.81 607.57l3.1 -5.4l-6.21 0zM375.08 606.33l3.1 -5.4l-6.21 0zM379.35 605.1l3.1 -5.4l-6.21 0zM383.62 603.89l3.1 -5.4l-6.21 0zM387.89 602.69l3.1 -5.4l-6.21 0zM392.16 601.52l3.1 -5.4l-6.21 0zM396.43 600.35l3.1 -5.4l-6.21 0zM400.7 599.21l3.1 -5.4l-6.21 0zM404.97 598.08l3.1 -5.4l-6.21 0zM409.24 596.97l3.1 -5.4l-6.21 0zM413.51 595.87l3.1 -5.4l-6.21 0zM417.78 594.78l3.1 -5.4l-6.21 0zM422.05 593.71l3.1 -5.4l-6.21 0zM426.32 592.65l3.1 -5.4l-6.21 0zM430.59 591.61l3.1 -5.4l-6.21 0zM434.86 590.58l3.1 -5.4l-6.21 0zM439.13 589.56l3.1 -5.4l-6.21 0zM443.41 588.56l3.1 -5.4l-6.21 0zM447.68 587.56l3.1 -5.4l-6.21 0zM451.95 586.58l3.1 -5.4l-6.21 0zM456.22 585.61l3.1 -5.4l-6.21 0zM460.49 584.65l3.1 -5.4l-6.21 0zM464.76 583.7l3.1 -5.4l-6.21 0zM469.03 582.77l3.1 -5.4l-6.21 0zM473.3 581.84l3.1 -5.4l-6.21 0zM477.57 580.92l3.1 -5.4l-6.21 0zM481.84 580.01l3.1 -5.4l-6.21 0zM486.11 579.11l3.1 -5.4l-6.21 0zM490.38 578.22l3.1 -5.4l-6.21 0zM494.65 577.34l3.1 -5.4l-6.21 0zM498.92 576.47l3.1 -5.4l-6.21 0zM503.19 575.61l3.1 -5.4l-6.21 0zM507.46 574.75l3.1 -5.4l-6.21 0zM511.73 573.9l3.1 -5.4l-6.21 0zM516 573.06l3.1 -5.4l-6.21 0z" fill="#d0000e"/>
<path d="M71.9 749.25h0M76.17 745.5h0M80.44 741.74h0M84.71 737.99h0M88.98 734.24h0M93.25 730.5h0M97.52 726.76h0M101.79 723.02h0M106.06 719.3h0M110.33 715.58h0M114.6 711.88h0M118.87 708.18h0M123.14 704.5h0M127.41 700.82h0M131.68 697.17h0M135.95 693.52h0M140.22 689.89h0M144.49 686.28h0M148.77 682.69h0M153.04 679.11h0M157.31 675.55h0M161.58 672.01h0M165.85 668.49h0M170.12 665h0M174.39 661.52h0M178.66 658.07h0M182.93 654.63h0M187.2 651.22h0M191.47 647.84h0M195.74 644.48h0M200.01 641.14h0M204.28 637.83h0M208.55 634.54h0M212.82 631.28h0M217.09 628.04h0M221.36 624.83h0M225.63 621.65h0M229.9 618.49h0M234.17 615.36h0M238.44 612.26h0M242.71 609.18h0M246.98 606.13h0M251.25 603.1h0M255.52 600.11h0M259.79 597.14h0M264.06 594.19h0M268.33 591.28h0M272.6 588.39h0M276.87 585.52h0M281.14 582.68h0M285.41 579.87h0M289.68 577.09h0M293.95 574.33h0M298.22 571.6h0M302.49 568.89h0M306.76 566.2h0M311.03 563.54h0M315.3 560.91h0M319.57 558.3h0M323.84 555.72h0M328.11 553.15h0M332.38 550.61h0M336.65 548.1h0M340.92 545.61h0M345.19 543.14h0M349.46 540.69h0M353.73 538.26h0M358 535.85h0M362.27 533.47h0M366.54 531.11h0M370.81 528.76h0M375.08 526.44h0M379.35 524.14h0M383.62 521.85h0M387.89 519.58h0M392.16 517.34h0M396.43 515.11h0M400.7 512.9h0M404.97 510.7h0M409.24 508.52h0M413.51 506.36h0M417.78 504.22h0M422.05 502.09h0M426.32 499.98h0M430.59 497.88h0M434.86 495.8h0M439.13 493.73h0M443.41 491.67h0M447.68 489.63h0M451.95 487.61h0M456.22 485.59h0M460.49 483.59h0M464.76 481.61h0M469.03 479.63h0M473.3 477.67h0M477.57 475.71h0M481.84 473.77h0M486.11 471.85h0M490.38 469.93h0M494.65 468.02h0M498.92 466.12h0M503.19 464.23h0M507.46 462.36h0M511.73 460.49h0M516 458.63h0" stroke="#d0000e" stroke-width="5.1" stroke-linecap="round"/>
<path d="M71.9 749.43h0M76.17 749.43h0M80.44 749.43h0M84.71 749.43h0M88.98 749.43h0M93.25 749.43h0M97.52 749.43h0M101.79 749.43h0M106.06 749.43h0M110.33 749.43h0M114.6 749.43h0M118.87 749.43h0M123.14 749.43h0M127.41 749.43h0M131.68 749.43h0M135.95 749.43h0M140.22 749.43h0M144.49 749.43h0M148.77 749.43h0M153.04 749.43h0M157.31 749.43h0M161.58 749.43h0M165.85 749.43h0M170.12 749.43h0M174.39 749.43h0M178.66 749.43h0M182.93 749.43h0M187.2 749.43h0M191.47 749.43h0M195.74 749.43h0M200.01 749.43h0M204.28 749.43h0M208.55 749.43h0M212.82 749.43h0M217.09 749.43h0M221.36 749.43h0M225.63 749.43h0M229.9 749.43h0M234.17 749.43h0M238.44 749.43h0M242.71 749.43h0M246.98 749.43h0M251.25 749.43h0M255.52 749.43h0M259.79 749.43h0M264.06 749.43h0M268.33 749.43h0M272.6 749.43h0M276.87 749.43h0M281.14 749.43h0M285.41 749.43h0M289.68 749.43h0M293.95 749.43h0M298.22 749.43h0M302.49 749.43h0M306.76 749.43h0M311.03 749.43h0M315.3 749.43h0M319.57 749.43h0M323.84 749.43h0M328.11 749.43h0M332.38 749.43h0M336.65 749.43h0M340.92 749.43h0M345.19 749.43h0M349.46 749.43h0M353.73 749.43h0M358 749.43h0M362.27 749.43h0M366.54 749.43h0M370.81 749.43h0M375.08 749.43h0M379.35 749.43h0M383.62 749.43h0M387.89 749.43h0M392.16 749.43h0M396.43 749.43h0M400.7 749.43h0M404.97 749.43h0M409.24 749.43h0M413.51 749.43h0M417.78 749.43h0M422.05 749.43h0M426.32 749.43h0M430.59 749.43h0M434.86 749.43h0M439.13 749.43h0M443.41 749.43h0M447.68 749.43h0M451.95 749.43h0M456.22 749.43h0M460.49 749.43h0M464.76 749.43h0M469.03 749.43h0M473.3 749.43h0M477.57 749.43h0M481.84 749.43h0M486.11 749.43h0M490.38 749.43h0M494.65 749.43h0M498.92 749.43h0M503.19 749.43h0M507.46 749.43h0M511.73 749.43h0M516 749.43h0" stroke="#f41ec0" stroke-width="5.1" stroke-linecap="round"/>
<path d="M71.9 749.25h0M76.17 748.14h0M80.44 747.1h0M84.71 746.17h0M88.98 745.38h0M93.25 744.73h0M97.52 744.22h0M101.79 743.83h0M106.06 743.53h0M110.33 743.31h0M114.6 743.15h0M118.87 743.03h0M123.14 742.95h0M127.41 742.88h0M131.68 742.84h0M135.95 742.8h0M140.22 742.78h0M144.49 742.76h0M148.77 742.74h0M153.04 742.73h0M157.31 742.72h0M161.58 742.72h0M165.85 742.71h0M170.12 742.7h0M174.39 742.7h0M178.66 742.69h0M182.93 742.69h0M187.2 742.69h0M191.47 742.68h0M195.74 742.68h0M200.01 742.68h0M204.28 742.67h0M208.55 742.67h0M212.82 742.67h0M217.09 742.66h0M221.36 742.66h0M225.63 742.66h0M229.9 742.65h0M234.17 742.65h0M238.44 742.65h0M242.71 742.64h0M246.98 742.64h0M251.25 742.64h0M255.52 742.63h0M259.79 742.63h0M264.06 742.63h0M268.33 742.62h0M272.6 742.62h0M276.87 742.62h0M281.14 742.61h0M285.41 742.61h0M289.68 742.61h0M293.95 742.6h0M298.22 742.6h0M302.49 742.6h0M306.76 742.6h0M311.03 742.59h0M315.3 742.59h0M319.57 742.59h0M323.84 742.58h0M328.11 742.58h0M332.38 742.58h0M336.65 742.57h0M340.92 742.57h0M345.19 742.57h0M349.46 742.56h0M353.73 742.56h0M358 742.56h0M362.27 742.55h0M366.54 742.55h0M370.81 742.55h0M375.08 742.54h0M379.35 742.54h0M383.62 742.54h0M387.89 742.53h0M392.16 742.53h0M396.43 742.53h0M400.7 742.52h0M404.97 742.52h0M409.24 742.52h0M413.51 742.52h0M417.78 742.51h0M422.05 742.51h0M426.32 742.51h0M430.59 742.5h0M434.86 742.5h0M439.13 742.5h0M443.41 742.49h0M447.68 742.49h0M451.95 742.49h0M456.22 742.48h0M460.49 742.48h0M464.76 742.48h0M469.03 742.47h0M473.3 742.47h0M477.57 742.47h0M481.84 742.46h0M486.11 742.46h0M490.38 742.46h0M494.65 742.45h0M498.92 742.45h0M503.19 742.45h0M507.46 742.44h0M511.73 742.44h0M516 742.44h0" stroke="#f41ec0" stroke-width="5.1" stroke-linecap="round"/>
<path d="M71.9 746.35l2.61 2.9l-2.61 2.9l-2.61 -2.9zM76.17 744.66l2.61 2.9l-2.61 2.9l-2.61 -2.9zM80.44 742.97l2.61 2.9l-2.61 2.9l-2.61 -2.9zM84.71 741.29l2.61 2.9l-2.61 2.9l-2.61 -2.9zM88.98 739.62l2.61 2.9l-2.61 2.9l-2.61 -2.9zM93.25 737.95l2.61 2.9l-2.61 2.9l-2.61 -2.9zM97.52 736.29l2.61 2.9l-2.61 2.9l-2.61 -2.9zM101.79 734.65l2.61 2.9l-2.61 2.9l-2.61 -2.9zM106.06 733.02l2.61 2.9l-2.61 2.9l-2.61 -2.9zM110.33 731.4l2.61 2.9l-2.61 2.9l-2.61 -2.9zM114.6 729.81l2.61 2.9l-2.61 2.9l-2.61 -2.9zM118.87 728.23l2.61 2.9l-2.61 2.9l-2.61 -2.9zM123.14 726.68l2.61 2.9l-2.61 2.9l-2.61 -2.9zM127.41 725.15l2.61 2.9l-2.61 2.9l-2.61 -2.9zM131.68 723.64l2.61 2.9l-2.61 2.9l-2.61 -2.9zM135.95 722.16l2.61 2.9l-2.61 2.9l-2.61 -2.9zM140.22 720.71l2.61 2.9l-2.61 2.9l-2.61 -2.9zM144.49 719.28l2.61 2.9l-2.61 2.9l-2.61 -2.9zM148.77 717.89l2.61 2.9l-2.61 2.9l-2.61 -2.9zM153.04 716.52l2.61 2.9l-2.61 2.9l-2.61 -2.9zM157.31 715.19l2.61 2.9l-2.61 2.9l-2.61 -2.9zM161.58 713.88l2.61 2.9l-2.61 2.9l-2.61 -2.9zM165.85 712.61l2.61 2.9l-2.61 2.9l-2.61 -2.9zM170.12 711.37l2.61 2.9l-2.61 2.9l-2.61 -2.9zM174.39 710.16l2.61 2.9l-2.61 2.9l-2.61 -2.9zM178.66 708.98l2.61 2.9l-2.61 2.9l-2.61 -2.9zM182.93 707.83l2.61 2.9l-2.61 2.9l-2.61 -2.9zM187.2 706.72l2.61 2.9l-2.61 2.9l-2.61 -2.9zM191.47 705.64l2.61 2.9l-2.61 2.9l-2.61 -2.9zM195.74 704.59l2.61 2.9l-2.61 2.9l-2.61 -2.9zM200.01 703.58l2.61 2.9l-2.61 2.9l-2.61 -2.9zM204.28 702.59l2.61 2.9l-2.61 2.9l-2.61 -2.9zM208.55 701.64l2.61 2.9l-2.61 2.9l-2.61 -2.9zM212.82 700.72l2.61 2.9l-2.61 2.9l-2.61 -2.9zM217.09 699.83l2.61 2.9l-2.61 2.9l-2.61 -2.9zM221.36 698.97l2.61 2.9l-2.61 2.9l-2.61 -2.9zM225.63 698.13l2.61 2.9l-2.61 2.9l-2.61 -2.9zM229.9 697.33l2.61 2.9l-2.61 2.9l-2.61 -2.9zM234.17 696.56l2.61 2.9l-2.61 2.9l-2.61 -2.9zM238.44 695.81l2.61 2.9l-2.61 2.9l-2.61 -2.9zM242.71 695.09l2.61 2.9l-2.61 2.9l-2.61 -2.9zM246.98 694.39l2.61 2.9l-2.61 2.9l-2.61 -2.9zM251.25 693.72l2.61 2.9l-2.61 2.9l-2.61 -2.9zM255.52 693.08l2.61 2.9l-2.61 2.9l-2.61 -2.9zM259.79 692.45l2.61 2.9l-2.61 2.9l-2.61 -2.9zM264.06 691.86l2.61 2.9l-2.61 2.9l-2.61 -2.9zM268.33 691.28l2.61 2.9l-2.61 2.9l-2.61 -2.9zM272.6 690.73l2.61 2.9l-2.61 2.9l-2.61 -2.9zM276.87 690.19l2.61 2.9l-2.61 2.9l-2.61 -2.9zM281.14 689.68l2.61 2.9l-2.61 2.9l-2.61 -2.9zM285.41 689.19l2.61 2.9l-2.61 2.9l-2.61 -2.9zM289.68 688.72l2.61 2.9l-2.61 2.9l-2.61 -2.9zM293.95 688.26l2.61 2.9l-2.61 2.9l-2.61 -2.9zM298.22 687.82l2.61 2.9l-2.61 2.9l-2.61 -2.9zM302.49 687.4l2.61 2.9l-2.61 2.9l-2.61 -2.9zM306.76 687l2.61 2.9l-2.61 2.9l-2.61 -2.9zM311.03 686.61l2.61 2.9l-2.61 2.9l-2.61 -2.9zM315.3 686.23l2.61 2.9l-2.61 2.9l-2.61 -2.9zM319.57 685.87l2.61 2.9l-2.61 2.9l-2.61 -2.9zM323.84 685.53l2.61 2.9l-2.61 2.9l-2.61 -2.9zM328.11 685.2l2.61 2.9l-2.61 2.9l-2.61 -2.9zM332.38 684.88l2.61 2.9l-2.61 2.9l-2.61 -2.9zM336.65 684.57l2.61 2.9l-2.61 2.9l-2.61 -2.9zM340.92 684.27l2.61 2.9l-2.61 2.9l-2.61 -2.9zM345.19 683.99l2.61 2.9l-2.61 2.9l-2.61 -2.9zM349.46 683.72l2.61 2.9l-2.61 2.9l-2.61 -2.9zM353.73 683.45l2.61 2.9l-2.61 2.9l-2.61 -2.9zM358 683.2l2.61 2.9l-2.61 2.9l-2.61 -2.9zM362.27 682.96l2.61 2.9l-2.61 2.9l-2.61 -2.9zM366.54 682.72l2.61 2.9l-2.61 2.9l-2.61 -2.9zM370.81 682.5l2.61 2.9l-2.61 2.9l-2.61 -2.9zM375.08 682.28l2.61 2.9l-2.61 2.9l-2.61 -2.9zM379.35 682.07l2.61 2.9l-2.61 2.9l-2.61 -2.9zM383.62 681.87l2.61 2.9l-2.61 2.9l-2.61 -2.9zM387.89 681.67l2.61 2.9l-2.61 2.9l-2.61 -2.9zM392.16 681.48l2.61 2.9l-2.61 2.9l-2.61 -2.9zM396.43 681.3l2.61 2.9l-2.61 2.9l-2.61 -2.9zM400.7 681.12l2.61 2.9l-2.61 2.9l-2.61 -2.9zM404.97 680.95l2.61 2.9l-2.61 2.9l-2.61 -2.9zM409.24 680.79l2.61 2.9l-2.61 2.9l-2.61 -2.9zM413.51 680.63l2.61 2.9l-2.61 2.9l-2.61 -2.9zM417.78 680.48l2.61 2.9l-2.61 2.9l-2.61 -2.9zM422.05 680.33l2.61 2.9l-2.61 2.9l-2.61 -2.9zM426.32 680.18l2.61 2.9l-2.61 2.9l-2.61 -2.9zM430.59 680.04l2.61 2.9l-2.61 2.9l-2.61 -2.9zM434.86 679.91l2.61 2.9l-2.61 2.9l-2.61 -2.9zM439.13 679.78l2.61 2.9l-2.61 2.9l-2.61 -2.9zM443.41 679.65l2.61 2.9l-2.61 2.9l-2.61 -2.9zM447.68 679.53l2.61 2.9l-2.61 2.9l-2.61 -2.9zM451.95 679.41l2.61 2.9l-2.61 2.9l-2.61 -2.9zM456.22 679.29l2.61 2.9l-2.61 2.9l-2.61 -2.9zM460.49 679.17l2.61 2.9l-2.61 2.9l-2.61 -2.9zM464.76 679.06l2.61 2.9l-2.61 2.9l-2.61 -2.9zM469.03 678.96l2.61 2.9l-2.61 2.9l-2.61 -2.9zM473.3 678.85l2.61 2.9l-2.61 2.9l-2.61 -2.9zM477.57 678.75l2.61 2.9l-2.61 2.9l-2.61 -2.9zM481.84 678.65l2.61 2.9l-2.61 2.9l-2.61 -2.9zM486.11 678.55l2.61 2.9l-2.61 2.9l-2.61 -2.9zM490.38 678.45l2.61 2.9l-2.61 2.9l-2.61 -2.9zM494.65 678.36l2.61 2.9l-2.61 2.9l-2.61 -2.9zM498.92 678.27l2.61 2.9l-2.61 2.9l-2.61 -2.9zM503.19 678.18l2.61 2.9l-2.61 2.9l-2.61 -2.9zM507.46 678.09l2.61 2.9l-2.61 2.9l-2.61 -2.9zM511.73 678.01l2.61 2.9l-2.61 2.9l-2.61 -2.9zM516 677.92l2.61 2.9l-2.61 2.9l-2.61 -2.9z" fill="#f41ec0"/>
<path d="M71.9 752.22l3.1 -5.4l-6.21 0zM76.17 749.56l3.1 -5.4l-6.21 0zM80.44 746.9l3.1 -5.4l-6.21 0zM84.71 744.24l3.1 -5.4l-6.21 0zM88.98 741.58l3.1 -5.4l-6.21 0zM93.25 738.93l3.1 -5.4l-6.21 0zM97.52 736.29l3.1 -5.4l-6.21 0zM101.79 733.65l3.1 -5.4l-6.21 0zM106.06 731.02l3.1 -5.4l-6.21 0zM110.33 728.41l3.1 -5.4l-6.21 0zM114.6 725.8l3.1 -5.4l-6.21 0zM118.87 723.2l3.1 -5.4l-6.21 0zM123.14 720.61l3.1 -5.4l-6.21 0zM127.41 718.04l3.1 -5.4l-6.21 0zM131.68 715.49l3.1 -5.4l-6.21 0zM135.95 712.95l3.1 -5.4l-6.21 0zM140.22 710.42l3.1 -5.4l-6.21 0zM144.49 707.92l3.1 -5.4l-6.21 0zM148.77 705.43l3.1 -5.4l-6.21 0zM153.04 702.96l3.1 -5.4l-6.21 0zM157.31 700.51l3.1 -5.4l-6.21 0zM161.58 698.08l3.1 -5.4l-6.21 0zM165.85 695.67l3.1 -5.4l-6.21 0zM170.12 693.29l3.1 -5.4l-6.21 0zM174.39 690.93l3.1 -5.4l-6.21 0zM178.66 688.59l3.1 -5.4l-6.21 0zM182.93 686.27l3.1 -5.4l-6.21 0zM187.2 683.98l3.1 -5.4l-6.21 0zM191.47 681.71l3.1 -5.4l-6.21 0zM195.74 679.47l3.1 -5.4l-6.21 0zM200.01 677.25l3.1 -5.4l-6.21 0zM204.28 675.06l3.1 -5.4l-6.21 0zM208.55 672.9l3.1 -5.4l-6.21 0zM212.82 670.76l3.1 -5.4l-6.21 0zM217.09 668.65l3.1 -5.4l-6.21 0zM221.36 666.57l3.1 -5.4l-6.21 0zM225.63 664.51l3.1 -5.4l-6.21 0zM229.9 662.48l3.1 -5.4l-6.21 0zM234.17 660.47l3.1 -5.4l-6.21 0zM238.44 658.5l3.1 -5.4l-6.21 0zM242.71 656.55l3.1 -5.4l-6.21 0zM246.98 654.62l3.1 -5.4l-6.21 0zM251.25 652.73l3.1 -5.4l-6.21 0zM255.52 650.86l3.1 -5.4l-6.21 0zM259.79 649.02l3.1 -5.4l-6.21 0zM264.06 647.2l3.1 -5.4l-6.21 0zM268.33 645.41l3.1 -5.4l-6.21 0zM272.6 643.65l3.1 -5.4l-6.21 0zM276.87 641.91l3.1 -5.4l-6.21 0zM281.14 640.2l3.1 -5.4l-6.21 0zM285.41 638.51l3.1 -5.4l-6.21 0zM289.68 636.85l3.1 -5.4l-6.21 0zM293.95 635.22l3.1 -5.4l-6.21 0zM298.22 633.61l3.1 -5.4l-6.21 0zM302.49 632.02l3.1 -5.4l-6.21 0zM306.76 630.46l3.1 -5.4l-6.21 0zM311.03 628.92l3.1 -5.4l-6.21 0zM315.3 627.4l3.1 -5.4l-6.21 0zM319.57 625.91l3.1 -5.4l-6.21 0zM323.84 624.44l3.1 -5.4l-6.21 0zM328.11 622.99l3.1 -5.4l-6.21 0zM332.38 621.56l3.1 -5.4l-6.21 0zM336.65 620.16l3.1 -5.4l-6.21 0zM340.92 618.78l3.1 -5.4l-6.21 0zM345.19 617.41l3.1 -5.4l-6.21 0zM349.46 616.07l3.1 -5.4l-6.21 0zM353.73 614.75l3.1 -5.4l-6.21 0zM358 613.44l3.1 -5.4l-6.21 0zM362.27 612.16l3.1 -5.4l-6.21 0zM366.54 610.89l3.1 -5.4l-6.21 0zM370.81 609.65l3.1 -5.4l-6.21 0zM375.08 608.42l3.1 -5.4l-6.21 0zM379.35 607.2l3.1 -5.4l-6.21 0zM383.62 606.01l3.1 -5.4l-6.21 0zM387.89 604.83l3.1 -5.4l-6.21 0zM392.16 603.67l3.1 -5.4l-6.21 0zM396.43 602.52l3.1 -5.4l-6.21 0zM400.7 601.39l3.1 -5.4l-6.21 0zM404.97 600.28l3.1 -5.4l-6.21 0zM409.24 599.18l3.1 -5.4l-6.21 0zM413.51 598.09l3.1 -5.4l-6.21 0zM417.78 597.02l3.1 -5.4l-6.21 0zM422.05 595.96l3.1 -5.4l-6.21 0zM426.32 594.91l3.1 -5.4l-6.21 0zM430.59 593.88l3.1 -5.4l-6.21 0zM434.86 592.86l3.1 -5.4l-6.21 0zM439.13 591.86l3.1 -5.4l-6.21 0zM443.41 590.86l3.1 -5.4l-6.21 0zM447.68 589.88l3.1 -5.4l-6.21 0zM451.95 588.91l3.1 -5.4l-6.21 0zM456.22 587.94l3.1 -5.4l-6.21 0zM460.49 586.99l3.1 -5.4l-6.21 0zM464.76 586.05l3.1 -5.4l-6.21 0zM469.03 585.12l3.1 -5.4l-6.21 0zM473.3 584.2l3.1 -5.4l-6.21 0zM477.57 583.29l3.1 -5.4l-6.21 0zM481.84 582.39l3.1 -5.4l-6.21 0zM486.11 581.5l3.1 -5.4l-6.21 0zM490.38 580.62l3.1 -5.4l-6.21 0zM494.65 579.74l3.1 -5.4l-6.21 0zM498.92 578.88l3.1 -5.4l-6.21 0zM503.19 578.02l3.1 -5.4l-6.21 0zM507.46 577.17l3.1 -5.4l-6.21 0zM511.73 576.33l3.1 -5.4l-6.21 0zM516 575.49l3.1 -5.4l-6.21 0z" fill="#f41ec0"/>
<path d="M71.9 749.25h0M76.17 745.55h0M80.44 741.85h0M84.71 738.16h0M88.98 734.46h0M93.25 730.77h0M97.52 727.09h0M101.79 723.41h0M106.06 719.74h0M110.33 716.08h0M114.6 712.43h0M118.87 708.79h0M123.14 705.16h0M127.41 701.55h0M131.68 697.94h0M135.95 694.36h0M140.22 690.79h0M144.49 687.23h0M148.77 683.69h0M153.04 680.17h0M157.31 676.67h0M161.58 673.18h0M165.85 669.72h0M170.12 666.28h0M174.39 662.86h0M178.66 659.46h0M182.93 656.08h0M187.2 652.73h0M191.47 649.4h0M195.74 646.09h0M200.01 642.81h0M204.28 639.55h0M208.55 636.32h0M212.82 633.12h0M217.09 629.93h0M221.36 626.78h0M225.63 623.65h0M229.9 620.55h0M234.17 617.47h0M238.44 614.42h0M242.71 611.4h0M246.98 608.4h0M251.25 605.43h0M255.52 602.48h0M259.79 599.56h0M264.06 596.67h0M268.33 593.81h0M272.6 590.97h0M276.87 588.16h0M281.14 585.37h0M285.41 582.61h0M289.68 579.87h0M293.95 577.16h0M298.22 574.48h0M302.49 571.82h0M306.76 569.18h0M311.03 566.57h0M315.3 563.98h0M319.57 561.42h0M323.84 558.88h0M328.11 556.36h0M332.38 553.87h0M336.65 551.39h0M340.92 548.94h0M345.19 546.52h0M349.46 544.11h0M353.73 541.72h0M358 539.36h0M362.27 537.02h0M366.54 534.69h0M370.81 532.39h0M375.08 530.1h0M379.35 527.84h0M383.62 525.59h0M387.89 523.36h0M392.16 521.15h0M396.43 518.95h0M400.7 516.77h0M404.97 514.61h0M409.24 512.47h0M413.51 510.34h0M417.78 508.23h0M422.05 506.13h0M426.32 504.05h0M430.59 501.98h0M434.86 499.93h0M439.13 497.89h0M443.41 495.86h0M447.68 493.85h0M451.95 491.85h0M456.22 489.87h0M460.49 487.89h0M464.76 485.93h0M469.03 483.98h0M473.3 482.04h0M477.57 480.11h0M481.84 478.2h0M486.11 476.29h0M490.38 474.39h0M494.65 472.51h0M498.92 470.63h0M503.19 468.76h0M507.46 466.91h0M511.73 465.06h0M516 463.22h0" stroke="#f41ec0" stroke-width="5.1" stroke-linecap="round"/>
<path d="M71.9 749.47h0M76.17 749.47h0M80.44 749.47h0M84.71 749.47h0M88.98 749.47h0M93.25 749.47h0M97.52 749.47h0M101.79 749.47h0M106.06 749.47h0M110.33 749.47h0M114.6 749.47h0M118.87 749.47h0M123.14 749.47h0M127.41 749.47h0M131.68 749.47h0M135.95 749.47h0M140.22 749.47h0M144.49 749.47h0M148.77 749.47h0M153.04 749.47h0M157.31 749.47h0M161.58 749.47h0M165.85 749.47h0M170.12 749.47h0M174.39 749.47h0M178.66 749.47h0M182.93 749.47h0M187.2 749.47h0M191.47 749.47h0M195.74 749.47h0M200.01 749.47h0M204.28 749.47h0M208.55 749.47h0M212.82 749.47h0M217.09 749.47h0M221.36 749.47h0M225.63 749.47h0M229.9 749.47h0M234.17 749.47h0M238.44 749.47h0M242.71 749.47h0M246.98 749.47h0M251.25 749.47h0M255.52 749.47h0M259.79 749.47h0M264.06 749.47h0M268.33 749.47h0M272.6 749.47h0M276.87 749.47h0M281.14 749.47h0M285.41 749.47h0M289.68 749.47h0M293.95 749.47h0M298.22 749.47h0M302.49 749.47h0M306.76 749.47h0M311.03 749.47h0M315.3 749.47h0M319.57 749.47h0M323.84 749.47h0M328.11 749.47h0M332.38 749.47h0M336.65 749.47h0M340.92 749.47h0M345.19 749.47h0M349.46 749.47h0M353.73 749.47h0M358 749.47h0M362.27 749.47h0M366.54 749.47h0M370.81 749.47h0M375.08 749.47h0M379.35 749.47h0M383.62 749.47h0M387.89 749.47h0M392.16 749.47h0M396.43 749.47h0M400.7 749.47h0M404.97 749.47h0M409.24 749.47h0M413.51 749.47h0M417.78 749.47h0M422.05 749.47h0M426.32 749.47h0M430.59 749.47h0M434.86 749.47h0M439.13 749.47h0M443.41 749.47h0M447.68 749.47h0M451.95 749.47h0M456.22 749.47h0M460.49 749.47h0M464.76 749.47h0M469.03 749.47h0M473.3 749.47h0M477.57 749.47h0M481.84 749.47h0M486.11 749.47h0M490.38 749.47h0M494.65 749.47h0M498.92 749.47h0M503.19 749.47h0M507.46 749.47h0M511.73 749.47h0M516 749.47h0" stroke="#3cc83c" stroke-width="5.1" stroke-linecap="round"/>
<path d="M71.9 749.25h0M76.17 748.16h0M80.44 747.13h0M84.71 746.21h0M88.98 745.44h0M93.25 744.81h0M97.52 744.31h0M101.79 743.93h0M106.06 743.64h0M110.33 743.43h0M114.6 743.28h0M118.87 743.17h0M123.14 743.08h0M127.41 743.02h0M131.68 742.98h0M135.95 742.95h0M140.22 742.93h0M144.49 742.91h0M148.77 742.89h0M153.04 742.88h0M157.31 742.88h0M161.58 742.87h0M165.85 742.86h0M170.12 742.86h0M174.39 742.86h0M178.66 742.85h0M182.93 742.85h0M187.2 742.84h0M191.47 742.84h0M195.74 742.84h0M200.01 742.84h0M204.28 742.83h0M208.55 742.83h0M212.82 742.83h0M217.09 742.82h0M221.36 742.82h0M225.63 742.82h0M229.9 742.82h0M234.17 742.81h0M238.44 742.81h0M242.71 742.81h0M246.98 742.8h0M251.25 742.8h0M255.52 742.8h0M259.79 742.8h0M264.06 742.79h0M268.33 742.79h0M272.6 742.79h0M276.87 742.79h0M281.14 742.78h0M285.41 742.78h0M289.68 742.78h0M293.95 742.77h0M298.22 742.77h0M302.49 742.77h0M306.76 742.77h0M311.03 742.76h0M315.3 742.76h0M319.57 742.76h0M323.84 742.75h0M328.11 742.75h0M332.38 742.75h0M336.65 742.75h0M340.92 742.74h0M345.19 742.74h0M349.46 742.74h0M353.73 742.74h0M358 742.73h0M362.27 742.73h0M366.54 742.73h0M370.81 742.72h0M375.08 742.72h0M379.35 742.72h0M383.62 742.72h0M387.89 742.71h0M392.16 742.71h0M396.43 742.71h0M400.7 742.7h0M404.97 742.7h0M409.24 742.7h0M413.51 742.7h0M417.78 742.69h0M422.05 742.69h0M426.32 742.69h0M430.59 742.69h0M434.86 742.68h0M439.13 742.68h0M443.41 742.68h0M447.68 742.67h0M451.95 742.67h0M456.22 742.67h0M460.49 742.67h0M464.76 742.66h0M469.03 742.66h0M473.3 742.66h0M477.57 742.66h0M481.84 742.65h0M486.11 742.65h0M490.38 742.65h0M494.65 742.64h0M498.92 742.64h0M503.19 742.64h0M507.46 742.64h0M511.73 742.63h0M516 742.63h0" stroke="#3cc83c" stroke-width="5.1" stroke-linecap="round"/>
<path d="M71.9 746.35l2.61 2.9l-2.61 2.9l-2.61 -2.9zM76.17 744.68l2.61 2.9l-2.61 2.9l-2.61 -2.9zM80.44 743l2.61 2.9l-2.61 2.9l-2.61 -2.9zM84.71 741.33l2.61 2.9l-2.61 2.9l-2.61 -2.9zM88.98 739.67l2.61 2.9l-2.61 2.9l-2.61 -2.9zM93.25 738.02l2.61 2.9l-2.61 2.9l-2.61 -2.9zM97.52 736.37l2.61 2.9l-2.61 2.9l-2.61 -2.9zM101.79 734.74l2.61 2.9l-2.61 2.9l-2.61 -2.9zM106.06 733.13l2.61 2.9l-2.61 2.9l-2.61 -2.9zM110.33 731.53l2.61 2.9l-2.61 2.9l-2.61 -2.9zM114.6 729.95l2.61 2.9l-2.61 2.9l-2.61 -2.9zM118.87 728.38l2.61 2.9l-2.61 2.9l-2.61 -2.9zM123.14 726.85l2.61 2.9l-2.61 2.9l-2.61 -2.9zM127.41 725.33l2.61 2.9l-2.61 2.9l-2.61 -2.9zM131.68 723.84l2.61 2.9l-2.61 2.9l-2.61 -2.9zM135.95 722.37l2.61 2.9l-2.61 2.9l-2.61 -2.9zM140.22 720.93l2.61 2.9l-2.61 2.9l-2.61 -2.9zM144.49 719.52l2.61 2.9l-2.61 2.9l-2.61 -2.9zM148.77 718.14l2.61 2.9l-2.61 2.9l-2.61 -2.9zM153.04 716.79l2.61 2.9l-2.61 2.9l-2.61 -2.9zM157.31 715.47l2.61 2.9l-2.61 2.9l-2.61 -2.9zM161.58 714.18l2.61 2.9l-2.61 2.9l-2.61 -2.9zM165.85 712.92l2.61 2.9l-2.61 2.9l-2.61 -2.9zM170.12 711.69l2.61 2.9l-2.61 2.9l-2.61 -2.9zM174.39 710.5l2.61 2.9l-2.61 2.9l-2.61 -2.9zM178.66 709.34l2.61 2.9l-2.61 2.9l-2.61 -2.9zM182.93 708.21l2.61 2.9l-2.61 2.9l-2.61 -2.9zM187.2 707.11l2.61 2.9l-2.61 2.9l-2.61 -2.9zM191.47 706.05l2.61 2.9l-2.61 2.9l-2.61 -2.9zM195.74 705.01l2.61 2.9l-2.61 2.9l-2.61 -2.9zM200.01 704.01l2.61 2.9l-2.61 2.9l-2.61 -2.9zM204.28 703.04l2.61 2.9l-2.61 2.9l-2.61 -2.9zM208.55 702.11l2.61 2.9l-2.61 2.9l-2.61 -2.9zM212.82 701.2l2.61 2.9l-2.61 2.9l-2.61 -2.9zM217.09 700.32l2.61 2.9l-2.61 2.9l-2.61 -2.9zM221.36 699.47l2.61 2.9l-2.61 2.9l-2.61 -2.9zM225.63 698.66l2.61 2.9l-2.61 2.9l-2.61 -2.9zM229.9 697.87l2.61 2.9l-2.61 2.9l-2.61 -2.9zM234.17 697.1l2.61 2.9l-2.61 2.9l-2.61 -2.9zM238.44 696.37l2.61 2.9l-2.61 2.9l-2.61 -2.9zM242.71 695.66l2.61 2.9l-2.61 2.9l-2.61 -2.9zM246.98 694.98l2.61 2.9l-2.61 2.9l-2.61 -2.9zM251.25 694.32l2.61 2.9l-2.61 2.9l-2.61 -2.9zM255.52 693.69l2.61 2.9l-2.61 2.9l-2.61 -2.9zM259.79 693.08l2.61 2.9l-2.61 2.9l-2.61 -2.9zM264.06 692.49l2.61 2.9l-2.61 2.9l-2.61 -2.9zM268.33 691.93l2.61 2.9l-2.61 2.9l-2.61 -2.9zM272.6 691.39l2.61 2.9l-2.61 2.9l-2.61 -2.9zM276.87 690.86l2.61 2.9l-2.61 2.9l-2.61 -2.9zM281.14 690.36l2.61 2.9l-2.61 2.9l-2.61 -2.9zM285.41 689.88l2.61 2.9l-2.61 2.9l-2.61 -2.9zM289.68 689.42l2.61 2.9l-2.61 2.9l-2.61 -2.9zM293.95 688.97l2.61 2.9l-2.61 2.9l-2.61 -2.9zM298.22 688.54l2.61 2.9l-2.61 2.9l-2.61 -2.9zM302.49 688.13l2.61 2.9l-2.61 2.9l-2.61 -2.9zM306.76 687.73l2.61 2.9l-2.61 2.9l-2.61 -2.9zM311.03 687.35l2.61 2.9l-2.61 2.9l-2.61 -2.9zM315.3 686.99l2.61 2.9l-2.61 2.9l-2.61 -2.9zM319.57 686.64l2.61 2.9l-2.61 2.9l-2.61 -2.9zM323.84 686.3l2.61 2.9l-2.61 2.9l-2.61 -2.9zM328.11 685.97l2.61 2.9l-2.61 2.9l-2.61 -2.9zM332.38 685.66l2.61 2.9l-2.61 2.9l-2.61 -2.9zM336.65 685.36l2.61 2.9l-2.61 2.9l-2.61 -2.9zM340.92 685.07l2.61 2.9l-2.61 2.9l-2.61 -2.9zM345.19 684.79l2.61 2.9l-2.61 2.9l-2.61 -2.9zM349.46 684.53l2.61 2.9l-2.61 2.9l-2.61 -2.9zM353.73 684.27l2.61 2.9l-2.61 2.9l-2.61 -2.9zM358 684.02l2.61 2.9l-2.61 2.9l-2.61 -2.9zM362.27 683.78l2.61 2.9l-2.61 2.9l-2.61 -2.9zM366.54 683.55l2.61 2.9l-2.61 2.9l-2.61 -2.9zM370.81 683.33l2.61 2.9l-2.61 2.9l-2.61 -2.9zM375.08 683.12l2.61 2.9l-2.61 2.9l-2.61 -2.9zM379.35 682.91l2.61 2.9l-2.61 2.9l-2.61 -2.9zM383.62 682.71l2.61 2.9l-2.61 2.9l-2.61 -2.9zM387.89 682.52l2.61 2.9l-2.61 2.9l-2.61 -2.9zM392.16 682.33l2.61 2.9l-2.61 2.9l-2.61 -2.9zM396.43 682.16l2.61 2.9l-2.61 2.9l-2.61 -2.9zM400.7 681.98l2.61 2.9l-2.61 2.9l-2.61 -2.9zM404.97 681.81l2.61 2.9l-2.61 2.9l-2.61 -2.9zM409.24 681.65l2.61 2.9l-2.61 2.9l-2.61 -2.9zM413.51 681.5l2.61 2.9l-2.61 2.9l-2.61 -2.9zM417.78 681.34l2.61 2.9l-2.61 2.9l-2.61 -2.9zM422.05 681.2l2.61 2.9l-2.61 2.9l-2.61 -2.9zM426.32 681.06l2.61 2.9l-2.61 2.9l-2.61 -2.9zM430.59 680.92l2.61 2.9l-2.61 2.9l-2.61 -2.9zM434.86 680.78l2.61 2.9l-2.61 2.9l-2.61 -2.9zM439.13 680.65l2.61 2.9l-2.61 2.9l-2.61 -2.9zM443.41 680.53l2.61 2.9l-2.61 2.9l-2.61 -2.9zM447.68 680.4l2.61 2.9l-2.61 2.9l-2.61 -2.9zM451.95 680.28l2.61 2.9l-2.61 2.9l-2.61 -2.9zM456.22 680.17l2.61 2.9l-2.61 2.9l-2.61 -2.9zM460.49 680.05l2.61 2.9l-2.61 2.9l-2.61 -2.9zM464.76 679.94l2.61 2.9l-2.61 2.9l-2.61 -2.9zM469.03 679.84l2.61 2.9l-2.61 2.9l-2.61 -2.9zM473.3 679.73l2.61 2.9l-2.61 2.9l-2.61 -2.9zM477.57 679.63l2.61 2.9l-2.61 2.9l-2.61 -2.9zM481.84 679.53l2.61 2.9l-2.61 2.9l-2.61 -2.9zM486.11 679.43l2.61 2.9l-2.61 2.9l-2.61 -2.9zM490.38 679.33l2.61 2.9l-2.61 2.9l-2.61 -2.9zM494.65 679.24l2.61 2.9l-2.61 2.9l-2.61 -2.9zM498.92 679.15l2.61 2.9l-2.61 2.9l-2.61 -2.9zM503.19 679.06l2.61 2.9l-2.61 2.9l-2.61 -2.9zM507.46 678.97l2.61 2.9l-2.61 2.9l-2.61 -2.9zM511.73 678.88l2.61 2.9l-2.61 2.9l-2.61 -2.9zM516 678.8l2.61 2.9l-2.61 2.9l-2.61 -2.9z" fill="#3cc83c"/>
<path d="M71.9 752.22l3.1 -5.4l-6.21 0zM76.17 749.59l3.1 -5.4l-6.21 0zM80.44 746.97l3.1 -5.4l-6.21 0zM84.71 744.35l3.1 -5.4l-6.21 0zM88.98 741.73l3.1 -5.4l-6.21 0zM93.25 739.11l3.1 -5.4l-6.21 0zM97.52 736.5l3.1 -5.4l-6.21 0zM101.79 733.9l3.1 -5.4l-6.21 0zM106.06 731.31l3.1 -5.4l-6.21 0zM110.33 728.73l3.1 -5.4l-6.21 0zM114.6 726.15l3.1 -5.4l-6.21 0zM118.87 723.59l3.1 -5.4l-6.21 0zM123.14 721.04l3.1 -5.4l-6.21 0zM127.41 718.51l3.1 -5.4l-6.21 0zM131.68 715.98l3.1 -5.4l-6.21 0zM135.95 713.48l3.1 -5.4l-6.21 0zM140.22 710.99l3.1 -5.4l-6.21 0zM144.49 708.52l3.1 -5.4l-6.21 0zM148.77 706.06l3.1 -5.4l-6.21 0zM153.04 703.63l3.1 -5.4l-6.21 0zM157.31 701.22l3.1 -5.4l-6.21 0zM161.58 698.82l3.1 -5.4l-6.21 0zM165.85 696.45l3.1 -5.4l-6.21 0zM170.12 694.1l3.1 -5.4l-6.21 0zM174.39 691.77l3.1 -5.4l-6.21 0zM178.66 689.46l3.1 -5.4l-6.21 0zM182.93 687.18l3.1 -5.4l-6.21 0zM187.2 684.92l3.1 -5.4l-6.21 0zM191.47 682.69l3.1 -5.4l-6.21 0zM195.74 680.48l3.1 -5.4l-6.21 0zM200.01 678.3l3.1 -5.4l-6.21 0zM204.28 676.14l3.1 -5.4l-6.21 0zM208.55 674.01l3.1 -5.4l-6.21 0zM212.82 671.9l3.1 -5.4l-6.21 0zM217.09 669.82l3.1 -5.4l-6.21 0zM221.36 667.77l3.1 -5.4l-6.21 0zM225.63 665.74l3.1 -5.4l-6.21 0zM229.9 663.74l3.1 -5.4l-6.21 0zM234.17 661.77l3.1 -5.4l-6.21 0zM238.44 659.83l3.1 -5.4l-6.21 0zM242.71 657.91l3.1 -5.4l-6.21 0zM246.98 656.01l3.1 -5.4l-6.21 0zM251.25 654.15l3.1 -5.4l-6.21 0zM255.52 652.31l3.1 -5.4l-6.21 0zM259.79 650.49l3.1 -5.4l-6.21 0zM264.06 648.7l3.1 -5.4l-6.21 0zM268.33 646.94l3.1 -5.4l-6.21 0zM272.6 645.21l3.1 -5.4l-6.21 0zM276.87 643.5l3.1 -5.4l-6.21 0zM281.14 641.81l3.1 -5.4l-6.21 0zM285.41 640.15l3.1 -5.4l-6.21 0zM289.68 638.52l3.1 -5.4l-6.21 0zM293.95 636.91l3.1 -5.4l-6.21 0zM298.22 635.32l3.1 -5.4l-6.21 0zM302.49 633.76l3.1 -5.4l-6.21 0zM306.76 632.22l3.1 -5.4l-6.21 0zM311.03 630.71l3.1 -5.4l-6.21 0zM315.3 629.21l3.1 -5.4l-6.21 0zM319.57 627.74l3.1 -5.4l-6.21 0zM323.84 626.3l3.1 -5.4l-6.21 0zM328.11 624.87l3.1 -5.4l-6.21 0zM332.38 623.46l3.1 -5.4l-6.21 0zM336.65 622.08l3.1 -5.4l-6.21 0zM340.92 620.72l3.1 -5.4l-6.21 0zM345.19 619.37l3.1 -5.4l-6.21 0zM349.46 618.05l3.1 -5.4l-6.21 0zM353.73 616.75l3.1 -5.4l-6.21 0zM358 615.46l3.1 -5.4l-6.21 0zM362.27 614.2l3.1 -5.4l-6.21 0zM366.54 612.95l3.1 -5.4l-6.21 0zM370.81 611.72l3.1 -5.4l-6.21 0zM375.08 610.51l3.1 -5.4l-6.21 0zM379.35 609.31l3.1 -5.4l-6.21 0zM383.62 608.13l3.1 -5.4l-6.21 0zM387.89 606.97l3.1 -5.4l-6.21 0zM392.16 605.82l3.1 -5.4l-6.21 0zM396.43 604.69l3.1 -5.4l-6.21 0zM400.7 603.57l3.1 -5.4l-6.21 0zM404.97 602.47l3.1 -5.4l-6.21 0zM409.24 601.39l3.1 -5.4l-6.21 0zM413.51 600.31l3.1 -5.4l-6.21 0zM417.78 599.25l3.1 -5.4l-6.21 0zM422.05 598.21l3.1 -5.4l-6.21 0zM426.32 597.17l3.1 -5.4l-6.21 0zM430.59 596.15l3.1 -5.4l-6.21 0zM434.86 595.15l3.1 -5.4l-6.21 0zM439.13 594.15l3.1 -5.4l-6.21 0zM443.41 593.16l3.1 -5.4l-6.21 0zM447.68 592.19l3.1 -5.4l-6.21 0zM451.95 591.23l3.1 -5.4l-6.21 0zM456.22 590.28l3.1 -5.4l-6.21 0zM460.49 589.34l3.1 -5.4l-6.21 0zM464.76 588.4l3.1 -5.4l-6.21 0zM469.03 587.48l3.1 -5.4l-6.21 0zM473.3 586.57l3.1 -5.4l-6.21 0zM477.57 585.67l3.1 -5.4l-6.21 0zM481.84 584.77l3.1 -5.4l-6.21 0zM486.11 583.89l3.1 -5.4l-6.21 0zM490.38 583.01l3.1 -5.4l-6.21 0zM494.65 582.15l3.1 -5.4l-6.21 0zM498.92 581.29l3.1 -5.4l-6.21 0zM503.19 580.43l3.1 -5.4l-6.21 0zM507.46 579.59l3.1 -5.4l-6.21 0zM511.73 578.75l3.1 -5.4l-6.21 0zM516 577.92l3.1 -5.4l-6.21 0z" fill="#3cc83c"/>
<path d="M71.9 749.25h0M76.17 745.61h0M80.44 741.98h0M84.71 738.34h0M88.98 734.71h0M93.25 731.09h0M97.52 727.47h0M101.79 723.85h0M106.06 720.25h0M110.33 716.65h0M114.6 713.06h0M118.87 709.48h0M123.14 705.92h0M127.41 702.37h0M131.68 698.83h0M135.95 695.3h0M140.22 691.79h0M144.49 688.3h0M148.77 684.83h0M153.04 681.37h0M157.31 677.93h0M161.58 674.51h0M165.85 671.11h0M170.12 667.73h0M174.39 664.37h0M178.66 661.04h0M182.93 657.73h0M187.2 654.43h0M191.47 651.17h0M195.74 647.92h0M200.01 644.71h0M204.28 641.51h0M208.55 638.34h0M212.82 635.2h0M217.09 632.08h0M221.36 628.99h0M225.63 625.92h0M229.9 622.88h0M234.17 619.86h0M238.44 616.87h0M242.71 613.91h0M246.98 610.97h0M251.25 608.06h0M255.52 605.18h0M259.79 602.32h0M264.06 599.48h0M268.33 596.68h0M272.6 593.9h0M276.87 591.14h0M281.14 588.41h0M285.41 585.71h0M289.68 583.03h0M293.95 580.37h0M298.22 577.74h0M302.49 575.14h0M306.76 572.55h0M311.03 570h0M315.3 567.46h0M319.57 564.95h0M323.84 562.46h0M328.11 559.99h0M332.38 557.55h0M336.65 555.13h0M340.92 552.73h0M345.19 550.35h0M349.46 547.99h0M353.73 545.65h0M358 543.33h0M362.27 541.03h0M366.54 538.75h0M370.81 536.49h0M375.08 534.25h0M379.35 532.03h0M383.62 529.82h0M387.89 527.63h0M392.16 525.46h0M396.43 523.31h0M400.7 521.17h0M404.97 519.05h0M409.24 516.94h0M413.51 514.85h0M417.78 512.78h0M422.05 510.71h0M426.32 508.67h0M430.59 506.63h0M434.86 504.61h0M439.13 502.61h0M443.41 500.61h0M447.68 498.63h0M451.95 496.67h0M456.22 494.71h0M460.49 492.76h0M464.76 490.83h0M469.03 488.91h0M473.3 487h0M477.57 485.1h0M481.84 483.21h0M486.11 481.32h0M490.38 479.45h0M494.65 477.59h0M498.92 475.74h0M503.19 473.9h0M507.46 472.06h0M511.73 470.24h0M516 468.42h0" stroke="#3cc83c" stroke-width="5.1" stroke-linecap="round"/>
<path d="M71.9 749.5h0M76.17 749.5h0M80.44 749.5h0M84.71 749.5h0M88.98 749.5h0M93.25 749.5h0M97.52 749.5h0M101.79 749.5h0M106.06 749.5h0M110.33 749.5h0M114.6 749.5h0M118.87 749.5h0M123.14 749.5h0M127.41 749.5h0M131.68 749.5h0M135.95 749.5h0M140.22 749.5h0M144.49 749.5h0M148.77 749.5h0M153.04 749.5h0M157.31 749.5h0M161.58 749.5h0M165.85 749.5h0M170.12 749.5h0M174.39 749.5h0M178.66 749.5h0M182.93 749.5h0M187.2 749.5h0M191.47 749.5h0M195.74 749.5h0M200.01 749.5h0M204.28 749.5h0M208.55 749.5h0M212.82 749.5h0M217.09 749.5h0M221.36 749.5h0M225.63 749.5h0M229.9 749.5h0M234.17 749.5h0M238.44 749.5h0M242.71 749.5h0M246.98 749.5h0M251.25 749.5h0M255.52 749.5h0M259.79 749.5h0M264.06 749.5h0M268.33 749.5h0M272.6 749.5h0M276.87 749.5h0M281.14 749.5h0M285.41 749.5h0M289.68 749.5h0M293.95 749.5h0M298.22 749.5h0M302.49 749.5h0M306.76 749.5h0M311.03 749.5h0M315.3 749.5h0M319.57 749.5h0M323.84 749.5h0M328.11 749.5h0M332.38 749.5h0M336.65 749.5h0M340.92 749.5h0M345.19 749.5h0M349.46 749.5h0M353.73 749.5h0M358 749.5h0M362.27 749.5h0M366.54 749.5h0M370.81 749.5h0M375.08 749.5h0M379.35 749.5h0M383.62 749.5h0M387.89 749.5h0M392.16 749.5h0M396.43 749.5h0M400.7 749.5h0M404.97 749.5h0M409.24 749.5h0M413.51 749.5h0M417.78 749.5h0M422.05 749.5h0M426.32 749.5h0M430.59 749.5h0M434.86 749.5h0M439.13 749.5h0M443.41 749.5h0M447.68 749.5h0M451.95 749.5h0M456.22 749.5h0M460.49 749.5h0M464.76 749.5h0M469.03 749.5h0M473.3 749.5h0M477.57 749.5h0M481.84 749.5h0M486.11 749.5h0M490.38 749.5h0M494.65 749.5h0M498.92 749.5h0M503.19 749.5h0M507.46 749.5h0M511.73 749.5h0M516 749.5h0" stroke="#1414e0" stroke-width="5.1" stroke-linecap="round"/>
<path d="M71.9 749.25h0M76.17 748.17h0M80.44 747.16h0M84.71 746.26h0M88.98 745.5h0M93.25 744.88h0M97.52 744.4h0M101.79 744.03h0M106.06 743.75h0M110.33 743.55h0M114.6 743.4h0M118.87 743.3h0M123.14 743.22h0M127.41 743.16h0M131.68 743.12h0M135.95 743.1h0M140.22 743.07h0M144.49 743.06h0M148.77 743.05h0M153.04 743.04h0M157.31 743.03h0M161.58 743.02h0M165.85 743.02h0M170.12 743.02h0M174.39 743.01h0M178.66 743.01h0M182.93 743.01h0M187.2 743h0M191.47 743h0M195.74 743h0M200.01 743h0M204.28 742.99h0M208.55 742.99h0M212.82 742.99h0M217.09 742.99h0M221.36 742.98h0M225.63 742.98h0M229.9 742.98h0M234.17 742.98h0M238.44 742.97h0M242.71 742.97h0M246.98 742.97h0M251.25 742.97h0M255.52 742.96h0M259.79 742.96h0M264.06 742.96h0M268.33 742.96h0M272.6 742.96h0M276.87 742.95h0M281.14 742.95h0M285.41 742.95h0M289.68 742.95h0M293.95 742.94h0M298.22 742.94h0M302.49 742.94h0M306.76 742.94h0M311.03 742.93h0M315.3 742.93h0M319.57 742.93h0M323.84 742.93h0M328.11 742.92h0M332.38 742.92h0M336.65 742.92h0M340.92 742.92h0M345.19 742.92h0M349.46 742.91h0M353.73 742.91h0M358 742.91h0M362.27 742.91h0M366.54 742.9h0M370.81 742.9h0M375.08 742.9h0M379.35 742.9h0M383.62 742.89h0M387.89 742.89h0M392.16 742.89h0M396.43 742.89h0M400.7 742.89h0M404.97 742.88h0M409.24 742.88h0M413.51 742.88h0M417.78 742.88h0M422.05 742.87h0M426.32 742.87h0M430.59 742.87h0M434.86 742.87h0M439.13 742.86h0M443.41 742.86h0M447.68 742.86h0M451.95 742.86h0M456.22 742.85h0M460.49 742.85h0M464.76 742.85h0M469.03 742.85h0M473.3 742.85h0M477.57 742.84h0M481.84 742.84h0M486.11 742.84h0M490.38 742.84h0M494.65 742.83h0M498.92 742.83h0M503.19 742.83h0M507.46 742.83h0M511.73 742.82h0M516 742.82h0" stroke="#1414e0" stroke-width="5.1" stroke-linecap="round"/>
<path d="M71.9 746.35l2.61 2.9l-2.61 2.9l-2.61 -2.9zM76.17 744.69l2.61 2.9l-2.61 2.9l-2.61 -2.9zM80.44 743.02l2.61 2.9l-2.61 2.9l-2.61 -2.9zM84.71 741.37l2.61 2.9l-2.61 2.9l-2.61 -2.9zM88.98 739.71l2.61 2.9l-2.61 2.9l-2.61 -2.9zM93.25 738.07l2.61 2.9l-2.61 2.9l-2.61 -2.9zM97.52 736.44l2.61 2.9l-2.61 2.9l-2.61 -2.9zM101.79 734.82l2.61 2.9l-2.61 2.9l-2.61 -2.9zM106.06 733.22l2.61 2.9l-2.61 2.9l-2.61 -2.9zM110.33 731.63l2.61 2.9l-2.61 2.9l-2.61 -2.9zM114.6 730.06l2.61 2.9l-2.61 2.9l-2.61 -2.9zM118.87 728.51l2.61 2.9l-2.61 2.9l-2.61 -2.9zM123.14 726.98l2.61 2.9l-2.61 2.9l-2.61 -2.9zM127.41 725.48l2.61 2.9l-2.61 2.9l-2.61 -2.9zM131.68 724l2.61 2.9l-2.61 2.9l-2.61 -2.9zM135.95 722.55l2.61 2.9l-2.61 2.9l-2.61 -2.9zM140.22 721.12l2.61 2.9l-2.61 2.9l-2.61 -2.9zM144.49 719.72l2.61 2.9l-2.61 2.9l-2.61 -2.9zM148.77 718.35l2.61 2.9l-2.61 2.9l-2.61 -2.9zM153.04 717.01l2.61 2.9l-2.61 2.9l-2.61 -2.9zM157.31 715.71l2.61 2.9l-2.61 2.9l-2.61 -2.9zM161.58 714.43l2.61 2.9l-2.61 2.9l-2.61 -2.9zM165.85 713.18l2.61 2.9l-2.61 2.9l-2.61 -2.9zM170.12 711.97l2.61 2.9l-2.61 2.9l-2.61 -2.9zM174.39 710.79l2.61 2.9l-2.61 2.9l-2.61 -2.9zM178.66 709.64l2.61 2.9l-2.61 2.9l-2.61 -2.9zM182.93 708.52l2.61 2.9l-2.61 2.9l-2.61 -2.9zM187.2 707.44l2.61 2.9l-2.61 2.9l-2.61 -2.9zM191.47 706.38l2.61 2.9l-2.61 2.9l-2.61 -2.9zM195.74 705.36l2.61 2.9l-2.61 2.9l-2.61 -2.9zM200.01 704.38l2.61 2.9l-2.61 2.9l-2.61 -2.9zM204.28 703.42l2.61 2.9l-2.61 2.9l-2.61 -2.9zM208.55 702.49l2.61 2.9l-2.61 2.9l-2.61 -2.9zM212.82 701.6l2.61 2.9l-2.61 2.9l-2.61 -2.9zM217.09 700.73l2.61 2.9l-2.61 2.9l-2.61 -2.9zM221.36 699.9l2.61 2.9l-2.61 2.9l-2.61 -2.9zM225.63 699.09l2.61 2.9l-2.61 2.9l-2.61 -2.9zM229.9 698.31l2.61 2.9l-2.61 2.9l-2.61 -2.9zM234.17 697.56l2.61 2.9l-2.61 2.9l-2.61 -2.9zM238.44 696.84l2.61 2.9l-2.61 2.9l-2.61 -2.9zM242.71 696.14l2.61 2.9l-2.61 2.9l-2.61 -2.9zM246.98 695.47l2.61 2.9l-2.61 2.9l-2.61 -2.9zM251.25 694.82l2.61 2.9l-2.61 2.9l-2.61 -2.9zM255.52 694.2l2.61 2.9l-2.61 2.9l-2.61 -2.9zM259.79 693.6l2.61 2.9l-2.61 2.9l-2.61 -2.9zM264.06 693.02l2.61 2.9l-2.61 2.9l-2.61 -2.9zM268.33 692.47l2.61 2.9l-2.61 2.9l-2.61 -2.9zM272.6 691.94l2.61 2.9l-2.61 2.9l-2.61 -2.9zM276.87 691.42l2.61 2.9l-2.61 2.9l-2.61 -2.9zM281.14 690.93l2.61 2.9l-2.61 2.9l-2.61 -2.9zM285.41 690.46l2.61 2.9l-2.61 2.9l-2.61 -2.9zM289.68 690l2.61 2.9l-2.61 2.9l-2.61 -2.9zM293.95 689.56l2.61 2.9l-2.61 2.9l-2.61 -2.9zM298.22 689.14l2.61 2.9l-2.61 2.9l-2.61 -2.9zM302.49 688.74l2.61 2.9l-2.61 2.9l-2.61 -2.9zM306.76 688.35l2.61 2.9l-2.61 2.9l-2.61 -2.9zM311.03 687.98l2.61 2.9l-2.61 2.9l-2.61 -2.9zM315.3 687.62l2.61 2.9l-2.61 2.9l-2.61 -2.9zM319.57 687.27l2.61 2.9l-2.61 2.9l-2.61 -2.9zM323.84 686.94l2.61 2.9l-2.61 2.9l-2.61 -2.9zM328.11 686.62l2.61 2.9l-2.61 2.9l-2.61 -2.9zM332.38 686.32l2.61 2.9l-2.61 2.9l-2.61 -2.9zM336.65 686.02l2.61 2.9l-2.61 2.9l-2.61 -2.9zM340.92 685.74l2.61 2.9l-2.61 2.9l-2.61 -2.9zM345.19 685.46l2.61 2.9l-2.61 2.9l-2.61 -2.9zM349.46 685.2l2.61 2.9l-2.61 2.9l-2.61 -2.9zM353.73 684.95l2.61 2.9l-2.61 2.9l-2.61 -2.9zM358 684.7l2.61 2.9l-2.61 2.9l-2.61 -2.9zM362.27 684.47l2.61 2.9l-2.61 2.9l-2.61 -2.9zM366.54 684.24l2.61 2.9l-2.61 2.9l-2.61 -2.9zM370.81 684.03l2.61 2.9l-2.61 2.9l-2.61 -2.9zM375.08 683.82l2.61 2.9l-2.61 2.9l-2.61 -2.9zM379.35 683.61l2.61 2.9l-2.61 2.9l-2.61 -2.9zM383.62 683.42l2.61 2.9l-2.61 2.9l-2.61 -2.9zM387.89 683.23l2.61 2.9l-2.61 2.9l-2.61 -2.9zM392.16 683.05l2.61 2.9l-2.61 2.9l-2.61 -2.9zM396.43 682.87l2.61 2.9l-2.61 2.9l-2.61 -2.9zM400.7 682.7l2.61 2.9l-2.61 2.9l-2.61 -2.9zM404.97 682.53l2.61 2.9l-2.61 2.9l-2.61 -2.9zM409.24 682.37l2.61 2.9l-2.61 2.9l-2.61 -2.9zM413.51 682.22l2.61 2.9l-2.61 2.9l-2.61 -2.9zM417.78 682.07l2.61 2.9l-2.61 2.9l-2.61 -2.9zM422.05 681.92l2.61 2.9l-2.61 2.9l-2.61 -2.9zM426.32 681.78l2.61 2.9l-2.61 2.9l-2.61 -2.9zM430.59 681.65l2.61 2.9l-2.61 2.9l-2.61 -2.9zM434.86 681.51l2.61 2.9l-2.61 2.9l-2.61 -2.9zM439.13 681.38l2.61 2.9l-2.61 2.9l-2.61 -2.9zM443.41 681.26l2.61 2.9l-2.61 2.9l-2.61 -2.9zM447.68 681.14l2.61 2.9l-2.61 2.9l-2.61 -2.9zM451.95 681.02l2.61 2.9l-2.61 2.9l-2.61 -2.9zM456.22 680.9l2.61 2.9l-2.61 2.9l-2.61 -2.9zM460.49 680.79l2.61 2.9l-2.61 2.9l-2.61 -2.9zM464.76 680.68l2.61 2.9l-2.61 2.9l-2.61 -2.9zM469.03 680.57l2.61 2.9l-2.61 2.9l-2.61 -2.9zM473.3 680.47l2.61 2.9l-2.61 2.9l-2.61 -2.9zM477.57 680.36l2.61 2.9l-2.61 2.9l-2.61 -2.9zM481.84 680.26l2.61 2.9l-2.61 2.9l-2.61 -2.9zM486.11 680.16l2.61 2.9l-2.61 2.9l-2.61 -2.9zM490.38 680.07l2.61 2.9l-2.61 2.9l-2.61 -2.9zM494.65 679.97l2.61 2.9l-2.61 2.9l-2.61 -2.9zM498.92 679.88l2.61 2.9l-2.61 2.9l-2.61 -2.9zM503.19 679.79l2.61 2.9l-2.61 2.9l-2.61 -2.9zM507.46 679.7l2.61 2.9l-2.61 2.9l-2.61 -2.9zM511.73 679.62l2.61 2.9l-2.61 2.9l-2.61 -2.9zM516 679.53l2.61 2.9l-2.61 2.9l-2.61 -2.9z" fill="#1414e0"/>
<path d="M71.9 752.22l3.1 -5.4l-6.21 0zM76.17 749.64l3.1 -5.4l-6.21 0zM80.44 747.06l3.1 -5.4l-6.21 0zM84.71 744.48l3.1 -5.4l-6.21 0zM88.98 741.91l3.1 -5.4l-6.21 0zM93.25 739.34l3.1 -5.4l-6.21 0zM97.52 736.78l3.1 -5.4l-6.21 0zM101.79 734.22l3.1 -5.4l-6.21 0zM106.06 731.67l3.1 -5.4l-6.21 0zM110.33 729.13l3.1 -5.4l-6.21 0zM114.6 726.6l3.1 -5.4l-6.21 0zM118.87 724.09l3.1 -5.4l-6.21 0zM123.14 721.58l3.1 -5.4l-6.21 0zM127.41 719.09l3.1 -5.4l-6.21 0zM131.68 716.62l3.1 -5.4l-6.21 0zM135.95 714.16l3.1 -5.4l-6.21 0zM140.22 711.71l3.1 -5.4l-6.21 0zM144.49 709.28l3.1 -5.4l-6.21 0zM148.77 706.88l3.1 -5.4l-6.21 0zM153.04 704.48l3.1 -5.4l-6.21 0zM157.31 702.11l3.1 -5.4l-6.21 0zM161.58 699.76l3.1 -5.4l-6.21 0zM165.85 697.43l3.1 -5.4l-6.21 0zM170.12 695.13l3.1 -5.4l-6.21 0zM174.39 692.84l3.1 -5.4l-6.21 0zM178.66 690.58l3.1 -5.4l-6.21 0zM182.93 688.34l3.1 -5.4l-6.21 0zM187.2 686.13l3.1 -5.4l-6.21 0zM191.47 683.93l3.1 -5.4l-6.21 0zM195.74 681.77l3.1 -5.4l-6.21 0zM200.01 679.63l3.1 -5.4l-6.21 0zM204.28 677.51l3.1 -5.4l-6.21 0zM208.55 675.42l3.1 -5.4l-6.21 0zM212.82 673.36l3.1 -5.4l-6.21 0zM217.09 671.32l3.1 -5.4l-6.21 0zM221.36 669.3l3.1 -5.4l-6.21 0zM225.63 667.32l3.1 -5.4l-6.21 0zM229.9 665.36l3.1 -5.4l-6.21 0zM234.17 663.42l3.1 -5.4l-6.21 0zM238.44 661.52l3.1 -5.4l-6.21 0zM242.71 659.63l3.1 -5.4l-6.21 0zM246.98 657.78l3.1 -5.4l-6.21 0zM251.25 655.95l3.1 -5.4l-6.21 0zM255.52 654.15l3.1 -5.4l-6.21 0zM259.79 652.37l3.1 -5.4l-6.21 0zM264.06 650.62l3.1 -5.4l-6.21 0zM268.33 648.89l3.1 -5.4l-6.21 0zM272.6 647.19l3.1 -5.4l-6.21 0zM276.87 645.52l3.1 -5.4l-6.21 0zM281.14 643.86l3.1 -5.4l-6.21 0zM285.41 642.24l3.1 -5.4l-6.21 0zM289.68 640.64l3.1 -5.4l-6.21 0zM293.95 639.06l3.1 -5.4l-6.21 0zM298.22 637.5l3.1 -5.4l-6.21 0zM302.49 635.97l3.1 -5.4l-6.21 0zM306.76 634.47l3.1 -5.4l-6.21 0zM311.03 632.98l3.1 -5.4l-6.21 0zM315.3 631.52l3.1 -5.4l-6.21 0zM319.57 630.08l3.1 -5.4l-6.21 0zM323.84 628.66l3.1 -5.4l-6.21 0zM328.11 627.26l3.1 -5.4l-6.21 0zM332.38 625.88l3.1 -5.4l-6.21 0zM336.65 624.52l3.1 -5.4l-6.21 0zM340.92 623.19l3.1 -5.4l-6.21 0zM345.19 621.87l3.1 -5.4l-6.21 0zM349.46 620.57l3.1 -5.4l-6.21 0zM353.73 619.29l3.1 -5.4l-6.21 0zM358 618.03l3.1 -5.4l-6.21 0zM362.27 616.79l3.1 -5.4l-6.21 0zM366.54 615.56l3.1 -5.4l-6.21 0zM370.81 614.36l3.1 -5.4l-6.21 0zM375.08 613.17l3.1 -5.4l-6.21 0zM379.35 611.99l3.1 -5.4l-6.21 0zM383.62 610.83l3.1 -5.4l-6.21 0zM387.89 609.69l3.1 -5.4l-6.21 0zM392.16 608.56l3.1 -5.4l-6.21 0zM396.43 607.45l3.1 -5.4l-6.21 0zM400.7 606.35l3.1 -5.4l-6.21 0zM404.97 605.27l3.1 -5.4l-6.21 0zM409.24 604.2l3.1 -5.4l-6.21 0zM413.51 603.14l3.1 -5.4l-6.21 0zM417.78 602.1l3.1 -5.4l-6.21 0zM422.05 601.07l3.1 -5.4l-6.21 0zM426.32 600.05l3.1 -5.4l-6.21 0zM430.59 599.04l3.1 -5.4l-6.21 0zM434.86 598.05l3.1 -5.4l-6.21 0zM439.13 597.07l3.1 -5.4l-6.21 0zM443.41 596.1l3.1 -5.4l-6.21 0zM447.68 595.14l3.1 -5.4l-6.21 0zM451.95 594.19l3.1 -5.4l-6.21 0zM456.22 593.25l3.1 -5.4l-6.21 0zM460.49 592.32l3.1 -5.4l-6.21 0zM464.76 591.4l3.1 -5.4l-6.21 0zM469.03 590.48l3.1 -5.4l-6.21 0zM473.3 589.58l3.1 -5.4l-6.21 0zM477.57 588.69l3.1 -5.4l-6.21 0zM481.84 587.8l3.1 -5.4l-6.21 0zM486.11 586.93l3.1 -5.4l-6.21 0zM490.38 586.06l3.1 -5.4l-6.21 0zM494.65 585.2l3.1 -5.4l-6.21 0zM498.92 584.35l3.1 -5.4l-6.21 0zM503.19 583.5l3.1 -5.4l-6.21 0zM507.46 582.66l3.1 -5.4l-6.21 0zM511.73 581.83l3.1 -5.4l-6.21 0zM516 581.01l3.1 -5.4l-6.21 0z" fill="#1414e0"/>
<path d="M71.9 749.25h0M76.17 745.64h0M80.44 742.04h0M84.71 738.43h0M88.98 734.83h0M93.25 731.24h0M97.52 727.65h0M101.79 724.06h0M106.06 720.48h0M110.33 716.92h0M114.6 713.36h0M118.87 709.81h0M123.14 706.28h0M127.41 702.75h0M131.68 699.24h0M135.95 695.75h0M140.22 692.27h0M144.49 688.81h0M148.77 685.36h0M153.04 681.93h0M157.31 678.52h0M161.58 675.13h0M165.85 671.76h0M170.12 668.42h0M174.39 665.09h0M178.66 661.78h0M182.93 658.5h0M187.2 655.24h0M191.47 652h0M195.74 648.79h0M200.01 645.6h0M204.28 642.43h0M208.55 639.29h0M212.82 636.18h0M217.09 633.09h0M221.36 630.02h0M225.63 626.99h0M229.9 623.97h0M234.17 620.99h0M238.44 618.03h0M242.71 615.09h0M246.98 612.18h0M251.25 609.3h0M255.52 606.44h0M259.79 603.61h0M264.06 600.81h0M268.33 598.03h0M272.6 595.27h0M276.87 592.55h0M281.14 589.84h0M285.41 587.17h0M289.68 584.51h0M293.95 581.88h0M298.22 579.28h0M302.49 576.7h0M306.76 574.14h0M311.03 571.61h0M315.3 569.1h0M319.57 566.61h0M323.84 564.15h0M328.11 561.71h0M332.38 559.29h0M336.65 556.89h0M340.92 554.51h0M345.19 552.15h0M349.46 549.82h0M353.73 547.5h0M358 545.2h0M362.27 542.92h0M366.54 540.67h0M370.81 538.43h0M375.08 536.21h0M379.35 534h0M383.62 531.82h0M387.89 529.65h0M392.16 527.5h0M396.43 525.36h0M400.7 523.24h0M404.97 521.14h0M409.24 519.05h0M413.51 516.97h0M417.78 514.92h0M422.05 512.87h0M426.32 510.84h0M430.59 508.82h0M434.86 506.82h0M439.13 504.83h0M443.41 502.85h0M447.68 500.88h0M451.95 498.93h0M456.22 496.99h0M460.49 495.06h0M464.76 493.14h0M469.03 491.23h0M473.3 489.33h0M477.57 487.44h0M481.84 485.56h0M486.11 483.69h0M490.38 481.84h0M494.65 479.99h0M498.92 478.14h0M503.19 476.31h0M507.46 474.49h0M511.73 472.67h0M516 470.87h0" stroke="#1414e0" stroke-width="5.1" stroke-linecap="round"/>
<path d="M71.9 749.55h0M76.17 749.55h0M80.44 749.55h0M84.71 749.55h0M88.98 749.55h0M93.25 749.55h0M97.52 749.55h0M101.79 749.55h0M106.06 749.55h0M110.33 749.55h0M114.6 749.55h0M118.87 749.55h0M123.14 749.55h0M127.41 749.55h0M131.68 749.55h0M135.95 749.55h0M140.22 749.55h0M144.49 749.55h0M148.77 749.55h0M153.04 749.55h0M157.31 749.55h0M161.58 749.55h0M165.85 749.55h0M170.12 749.55h0M174.39 749.55h0M178.66 749.55h0M182.93 749.55h0M187.2 749.55h0M191.47 749.55h0M195.74 749.55h0M200.01 749.55h0M204.28 749.55h0M208.55 749.55h0M212.82 749.55h0M217.09 749.55h0M221.36 749.55h0M225.63 749.55h0M229.9 749.55h0M234.17 749.55h0M238.44 749.55h0M242.71 749.55h0M246.98 749.55h0M251.25 749.55h0M255.52 749.55h0M259.79 749.55h0M264.06 749.55h0M268.33 749.55h0M272.6 749.55h0M276.87 749.55h0M281.14 749.55h0M285.41 749.55h0M289.68 749.55h0M293.95 749.55h0M298.22 749.55h0M302.49 749.55h0M306.76 749.55h0M311.03 749.55h0M315.3 749.55h0M319.57 749.55h0M323.84 749.55h0M328.11 749.55h0M332.38 749.55h0M336.65 749.55h0M340.92 749.55h0M345.19 749.55h0M349.46 749.55h0M353.73 749.55h0M358 749.55h0M362.27 749.55h0M366.54 749.55h0M370.81 749.55h0M375.08 749.55h0M379.35 749.55h0M383.62 749.55h0M387.89 749.55h0M392.16 749.55h0M396.43 749.55h0M400.7 749.55h0M404.97 749.55h0M409.24 749.55h0M413.51 749.55h0M417.78 749.55h0M422.05 749.55h0M426.32 749.55h0M430.59 749.55h0M434.86 749.55h0M439.13 749.55h0M443.41 749.55h0M447.68 749.55h0M451.95 749.55h0M456.22 749.55h0M460.49 749.55h0M464.76 749.55h0M469.03 749.55h0M473.3 749.55h0M477.57 749.55h0M481.84 749.55h0M486.11 749.55h0M490.38 749.55h0M494.65 749.55h0M498.92 749.55h0M503.19 749.55h0M507.46 749.55h0M511.73 749.55h0M516 749.55h0" stroke="#6c22fa" stroke-width="5.1" stroke-linecap="round"/>
<path d="M71.9 749.25h0M76.17 748.19h0M80.44 747.19h0M84.71 746.3h0M88.98 745.56h0M93.25 744.95h0M97.52 744.48h0M101.79 744.13h0M106.06 743.86h0M110.33 743.67h0M114.6 743.53h0M118.87 743.43h0M123.14 743.36h0M127.41 743.31h0M131.68 743.27h0M135.95 743.24h0M140.22 743.22h0M144.49 743.21h0M148.77 743.2h0M153.04 743.19h0M157.31 743.18h0M161.58 743.18h0M165.85 743.17h0M170.12 743.17h0M174.39 743.17h0M178.66 743.17h0M182.93 743.16h0M187.2 743.16h0M191.47 743.16h0M195.74 743.16h0M200.01 743.15h0M204.28 743.15h0M208.55 743.15h0M212.82 743.15h0M217.09 743.15h0M221.36 743.15h0M225.63 743.14h0M229.9 743.14h0M234.17 743.14h0M238.44 743.14h0M242.71 743.14h0M246.98 743.13h0M251.25 743.13h0M255.52 743.13h0M259.79 743.13h0M264.06 743.13h0M268.33 743.12h0M272.6 743.12h0M276.87 743.12h0M281.14 743.12h0M285.41 743.12h0M289.68 743.11h0M293.95 743.11h0M298.22 743.11h0M302.49 743.11h0M306.76 743.11h0M311.03 743.11h0M315.3 743.1h0M319.57 743.1h0M323.84 743.1h0M328.11 743.1h0M332.38 743.1h0M336.65 743.09h0M340.92 743.09h0M345.19 743.09h0M349.46 743.09h0M353.73 743.09h0M358 743.08h0M362.27 743.08h0M366.54 743.08h0M370.81 743.08h0M375.08 743.08h0M379.35 743.07h0M383.62 743.07h0M387.89 743.07h0M392.16 743.07h0M396.43 743.07h0M400.7 743.07h0M404.97 743.06h0M409.24 743.06h0M413.51 743.06h0M417.78 743.06h0M422.05 743.06h0M426.32 743.05h0M430.59 743.05h0M434.86 743.05h0M439.13 743.05h0M443.41 743.05h0M447.68 743.04h0M451.95 743.04h0M456.22 743.04h0M460.49 743.04h0M464.76 743.04h0M469.03 743.04h0M473.3 743.03h0M477.57 743.03h0M481.84 743.03h0M486.11 743.03h0M490.38 743.03h0M494.65 743.02h0M498.92 743.02h0M503.19 743.02h0M507.46 743.02h0M511.73 743.02h0M516 743.01h0" stroke="#6c22fa" stroke-width="5.1" stroke-linecap="round"/>
<path d="M71.9 746.35l2.61 2.9l-2.61 2.9l-2.61 -2.9zM76.17 744.7l2.61 2.9l-2.61 2.9l-2.61 -2.9zM80.44 743.05l2.61 2.9l-2.61 2.9l-2.61 -2.9zM84.71 741.4l2.61 2.9l-2.61 2.9l-2.61 -2.9zM88.98 739.76l2.61 2.9l-2.61 2.9l-2.61 -2.9zM93.25 738.13l2.61 2.9l-2.61 2.9l-2.61 -2.9zM97.52 736.51l2.61 2.9l-2.61 2.9l-2.61 -2.9zM101.79 734.9l2.61 2.9l-2.61 2.9l-2.61 -2.9zM106.06 733.31l2.61 2.9l-2.61 2.9l-2.61 -2.9zM110.33 731.73l2.61 2.9l-2.61 2.9l-2.61 -2.9zM114.6 730.17l2.61 2.9l-2.61 2.9l-2.61 -2.9zM118.87 728.64l2.61 2.9l-2.61 2.9l-2.61 -2.9zM123.14 727.12l2.61 2.9l-2.61 2.9l-2.61 -2.9zM127.41 725.63l2.61 2.9l-2.61 2.9l-2.61 -2.9zM131.68 724.16l2.61 2.9l-2.61 2.9l-2.61 -2.9zM135.95 722.72l2.61 2.9l-2.61 2.9l-2.61 -2.9zM140.22 721.31l2.61 2.9l-2.61 2.9l-2.61 -2.9zM144.49 719.92l2.61 2.9l-2.61 2.9l-2.61 -2.9zM148.77 718.57l2.61 2.9l-2.61 2.9l-2.61 -2.9zM153.04 717.24l2.61 2.9l-2.61 2.9l-2.61 -2.9zM157.31 715.94l2.61 2.9l-2.61 2.9l-2.61 -2.9zM161.58 714.68l2.61 2.9l-2.61 2.9l-2.61 -2.9zM165.85 713.44l2.61 2.9l-2.61 2.9l-2.61 -2.9zM170.12 712.24l2.61 2.9l-2.61 2.9l-2.61 -2.9zM174.39 711.07l2.61 2.9l-2.61 2.9l-2.61 -2.9zM178.66 709.94l2.61 2.9l-2.61 2.9l-2.61 -2.9zM182.93 708.83l2.61 2.9l-2.61 2.9l-2.61 -2.9zM187.2 707.76l2.61 2.9l-2.61 2.9l-2.61 -2.9zM191.47 706.72l2.61 2.9l-2.61 2.9l-2.61 -2.9zM195.74 705.71l2.61 2.9l-2.61 2.9l-2.61 -2.9zM200.01 704.74l2.61 2.9l-2.61 2.9l-2.61 -2.9zM204.28 703.79l2.61 2.9l-2.61 2.9l-2.61 -2.9zM208.55 702.88l2.61 2.9l-2.61 2.9l-2.61 -2.9zM212.82 702l2.61 2.9l-2.61 2.9l-2.61 -2.9zM217.09 701.14l2.61 2.9l-2.61 2.9l-2.61 -2.9zM221.36 700.32l2.61 2.9l-2.61 2.9l-2.61 -2.9zM225.63 699.53l2.61 2.9l-2.61 2.9l-2.61 -2.9zM229.9 698.76l2.61 2.9l-2.61 2.9l-2.61 -2.9zM234.17 698.02l2.61 2.9l-2.61 2.9l-2.61 -2.9zM238.44 697.31l2.61 2.9l-2.61 2.9l-2.61 -2.9zM242.71 696.62l2.61 2.9l-2.61 2.9l-2.61 -2.9zM246.98 695.96l2.61 2.9l-2.61 2.9l-2.61 -2.9zM251.25 695.32l2.61 2.9l-2.61 2.9l-2.61 -2.9zM255.52 694.71l2.61 2.9l-2.61 2.9l-2.61 -2.9zM259.79 694.12l2.61 2.9l-2.61 2.9l-2.61 -2.9zM264.06 693.55l2.61 2.9l-2.61 2.9l-2.61 -2.9zM268.33 693.01l2.61 2.9l-2.61 2.9l-2.61 -2.9zM272.6 692.49l2.61 2.9l-2.61 2.9l-2.61 -2.9zM276.87 691.98l2.61 2.9l-2.61 2.9l-2.61 -2.9zM281.14 691.5l2.61 2.9l-2.61 2.9l-2.61 -2.9zM285.41 691.03l2.61 2.9l-2.61 2.9l-2.61 -2.9zM289.68 690.59l2.61 2.9l-2.61 2.9l-2.61 -2.9zM293.95 690.16l2.61 2.9l-2.61 2.9l-2.61 -2.9zM298.22 689.74l2.61 2.9l-2.61 2.9l-2.61 -2.9zM302.49 689.35l2.61 2.9l-2.61 2.9l-2.61 -2.9zM306.76 688.97l2.61 2.9l-2.61 2.9l-2.61 -2.9zM311.03 688.6l2.61 2.9l-2.61 2.9l-2.61 -2.9zM315.3 688.25l2.61 2.9l-2.61 2.9l-2.61 -2.9zM319.57 687.91l2.61 2.9l-2.61 2.9l-2.61 -2.9zM323.84 687.58l2.61 2.9l-2.61 2.9l-2.61 -2.9zM328.11 687.27l2.61 2.9l-2.61 2.9l-2.61 -2.9zM332.38 686.97l2.61 2.9l-2.61 2.9l-2.61 -2.9zM336.65 686.68l2.61 2.9l-2.61 2.9l-2.61 -2.9zM340.92 686.4l2.61 2.9l-2.61 2.9l-2.61 -2.9zM345.19 686.13l2.61 2.9l-2.61 2.9l-2.61 -2.9zM349.46 685.88l2.61 2.9l-2.61 2.9l-2.61 -2.9zM353.73 685.63l2.61 2.9l-2.61 2.9l-2.61 -2.9zM358 685.39l2.61 2.9l-2.61 2.9l-2.61 -2.9zM362.27 685.16l2.61 2.9l-2.61 2.9l-2.61 -2.9zM366.54 684.94l2.61 2.9l-2.61 2.9l-2.61 -2.9zM370.81 684.72l2.61 2.9l-2.61 2.9l-2.61 -2.9zM375.08 684.51l2.61 2.9l-2.61 2.9l-2.61 -2.9zM379.35 684.31l2.61 2.9l-2.61 2.9l-2.61 -2.9zM383.62 684.12l2.61 2.9l-2.61 2.9l-2.61 -2.9zM387.89 683.94l2.61 2.9l-2.61 2.9l-2.61 -2.9zM392.16 683.76l2.61 2.9l-2.61 2.9l-2.61 -2.9zM396.43 683.58l2.61 2.9l-2.61 2.9l-2.61 -2.9zM400.7 683.41l2.61 2.9l-2.61 2.9l-2.61 -2.9zM404.97 683.25l2.61 2.9l-2.61 2.9l-2.61 -2.9zM409.24 683.09l2.61 2.9l-2.61 2.9l-2.61 -2.9zM413.51 682.94l2.61 2.9l-2.61 2.9l-2.61 -2.9zM417.78 682.79l2.61 2.9l-2.61 2.9l-2.61 -2.9zM422.05 682.65l2.61 2.9l-2.61 2.9l-2.61 -2.9zM426.32 682.51l2.61 2.9l-2.61 2.9l-2.61 -2.9zM430.59 682.37l2.61 2.9l-2.61 2.9l-2.61 -2.9zM434.86 682.24l2.61 2.9l-2.61 2.9l-2.61 -2.9zM439.13 682.11l2.61 2.9l-2.61 2.9l-2.61 -2.9zM443.41 681.99l2.61 2.9l-2.61 2.9l-2.61 -2.9zM447.68 681.87l2.61 2.9l-2.61 2.9l-2.61 -2.9zM451.95 681.75l2.61 2.9l-2.61 2.9l-2.61 -2.9zM456.22 681.63l2.61 2.9l-2.61 2.9l-2.61 -2.9zM460.49 681.52l2.61 2.9l-2.61 2.9l-2.61 -2.9zM464.76 681.41l2.61 2.9l-2.61 2.9l-2.61 -2.9zM469.03 681.3l2.61 2.9l-2.61 2.9l-2.61 -2.9zM473.3 681.2l2.61 2.9l-2.61 2.9l-2.61 -2.9zM477.57 681.1l2.61 2.9l-2.61 2.9l-2.61 -2.9zM481.84 681l2.61 2.9l-2.61 2.9l-2.61 -2.9zM486.11 680.9l2.61 2.9l-2.61 2.9l-2.61 -2.9zM490.38 680.8l2.61 2.9l-2.61 2.9l-2.61 -2.9zM494.65 680.71l2.61 2.9l-2.61 2.9l-2.61 -2.9zM498.92 680.61l2.61 2.9l-2.61 2.9l-2.61 -2.9zM503.19 680.52l2.61 2.9l-2.61 2.9l-2.61 -2.9zM507.46 680.43l2.61 2.9l-2.61 2.9l-2.61 -2.9zM511.73 680.35l2.61 2.9l-2.61 2.9l-2.61 -2.9zM516 680.26l2.61 2.9l-2.61 2.9l-2.61 -2.9z" fill="#6c22fa"/>
<path d="M71.9 752.22l3.1 -5.4l-6.21 0zM76.17 749.69l3.1 -5.4l-6.21 0zM80.44 747.15l3.1 -5.4l-6.21 0zM84.71 744.62l3.1 -5.4l-6.21 0zM88.98 742.09l3.1 -5.4l-6.21 0zM93.25 739.57l3.1 -5.4l-6.21 0zM97.52 737.05l3.1 -5.4l-6.21 0zM101.79 734.54l3.1 -5.4l-6.21 0zM106.06 732.03l3.1 -5.4l-6.21 0zM110.33 729.54l3.1 -5.4l-6.21 0zM114.6 727.06l3.1 -5.4l-6.21 0zM118.87 724.59l3.1 -5.4l-6.21 0zM123.14 722.13l3.1 -5.4l-6.21 0zM127.41 719.68l3.1 -5.4l-6.21 0zM131.68 717.25l3.1 -5.4l-6.21 0zM135.95 714.83l3.1 -5.4l-6.21 0zM140.22 712.43l3.1 -5.4l-6.21 0zM144.49 710.05l3.1 -5.4l-6.21 0zM148.77 707.69l3.1 -5.4l-6.21 0zM153.04 705.34l3.1 -5.4l-6.21 0zM157.31 703.01l3.1 -5.4l-6.21 0zM161.58 700.71l3.1 -5.4l-6.21 0zM165.85 698.42l3.1 -5.4l-6.21 0zM170.12 696.16l3.1 -5.4l-6.21 0zM174.39 693.92l3.1 -5.4l-6.21 0zM178.66 691.7l3.1 -5.4l-6.21 0zM182.93 689.5l3.1 -5.4l-6.21 0zM187.2 687.33l3.1 -5.4l-6.21 0zM191.47 685.18l3.1 -5.4l-6.21 0zM195.74 683.06l3.1 -5.4l-6.21 0zM200.01 680.96l3.1 -5.4l-6.21 0zM204.28 678.88l3.1 -5.4l-6.21 0zM208.55 676.83l3.1 -5.4l-6.21 0zM212.82 674.81l3.1 -5.4l-6.21 0zM217.09 672.81l3.1 -5.4l-6.21 0zM221.36 670.84l3.1 -5.4l-6.21 0zM225.63 668.89l3.1 -5.4l-6.21 0zM229.9 666.97l3.1 -5.4l-6.21 0zM234.17 665.07l3.1 -5.4l-6.21 0zM238.44 663.21l3.1 -5.4l-6.21 0zM242.71 661.36l3.1 -5.4l-6.21 0zM246.98 659.54l3.1 -5.4l-6.21 0zM251.25 657.75l3.1 -5.4l-6.21 0zM255.52 655.99l3.1 -5.4l-6.21 0zM259.79 654.25l3.1 -5.4l-6.21 0zM264.06 652.53l3.1 -5.4l-6.21 0zM268.33 650.84l3.1 -5.4l-6.21 0zM272.6 649.17l3.1 -5.4l-6.21 0zM276.87 647.53l3.1 -5.4l-6.21 0zM281.14 645.92l3.1 -5.4l-6.21 0zM285.41 644.32l3.1 -5.4l-6.21 0zM289.68 642.76l3.1 -5.4l-6.21 0zM293.95 641.21l3.1 -5.4l-6.21 0zM298.22 639.69l3.1 -5.4l-6.21 0zM302.49 638.19l3.1 -5.4l-6.21 0zM306.76 636.71l3.1 -5.4l-6.21 0zM311.03 635.26l3.1 -5.4l-6.21 0zM315.3 633.82l3.1 -5.4l-6.21 0zM319.57 632.41l3.1 -5.4l-6.21 0zM323.84 631.02l3.1 -5.4l-6.21 0zM328.11 629.65l3.1 -5.4l-6.21 0zM332.38 628.3l3.1 -5.4l-6.21 0zM336.65 626.97l3.1 -5.4l-6.21 0zM340.92 625.66l3.1 -5.4l-6.21 0zM345.19 624.37l3.1 -5.4l-6.21 0zM349.46 623.09l3.1 -5.4l-6.21 0zM353.73 621.84l3.1 -5.4l-6.21 0zM358 620.6l3.1 -5.4l-6.21 0zM362.27 619.38l3.1 -5.4l-6.21 0zM366.54 618.18l3.1 -5.4l-6.21 0zM370.81 616.99l3.1 -5.4l-6.21 0zM375.08 615.83l3.1 -5.4l-6.21 0zM379.35 614.67l3.1 -5.4l-6.21 0zM383.62 613.53l3.1 -5.4l-6.21 0zM387.89 612.41l3.1 -5.4l-6.21 0zM392.16 611.3l3.1 -5.4l-6.21 0zM396.43 610.21l3.1 -5.4l-6.21 0zM400.7 609.13l3.1 -5.4l-6.21 0zM404.97 608.06l3.1 -5.4l-6.21 0zM409.24 607.01l3.1 -5.4l-6.21 0zM413.51 605.97l3.1 -5.4l-6.21 0zM417.78 604.94l3.1 -5.4l-6.21 0zM422.05 603.93l3.1 -5.4l-6.21 0zM426.32 602.93l3.1 -5.4l-6.21 0zM430.59 601.94l3.1 -5.4l-6.21 0zM434.86 600.96l3.1 -5.4l-6.21 0zM439.13 599.99l3.1 -5.4l-6.21 0zM443.41 599.03l3.1 -5.4l-6.21 0zM447.68 598.08l3.1 -5.4l-6.21 0zM451.95 597.14l3.1 -5.4l-6.21 0zM456.22 596.21l3.1 -5.4l-6.21 0zM460.49 595.3l3.1 -5.4l-6.21 0zM464.76 594.39l3.1 -5.4l-6.21 0zM469.03 593.49l3.1 -5.4l-6.21 0zM473.3 592.59l3.1 -5.4l-6.21 0zM477.57 591.71l3.1 -5.4l-6.21 0zM481.84 590.84l3.1 -5.4l-6.21 0zM486.11 589.97l3.1 -5.4l-6.21 0zM490.38 589.11l3.1 -5.4l-6.21 0zM494.65 588.26l3.1 -5.4l-6.21 0zM498.92 587.41l3.1 -5.4l-6.21 0zM503.19 586.57l3.1 -5.4l-6.21 0zM507.46 585.74l3.1 -5.4l-6.21 0zM511.73 584.92l3.1 -5.4l-6.21 0zM516 584.1l3.1 -5.4l-6.21 0z" fill="#6c22fa"/>
<path d="M71.9 749.25h0M76.17 745.7h0M80.44 742.15h0M84.71 738.6h0M88.98 735.05h0M93.25 731.51h0M97.52 727.98h0M101.79 724.45h0M106.06 720.93h0M110.33 717.42h0M114.6 713.91h0M118.87 710.42h0M123.14 706.94h0M127.41 703.48h0M131.68 700.02h0M135.95 696.58h0M140.22 693.16h0M144.49 689.75h0M148.77 686.36h0M153.04 682.99h0M157.31 679.64h0M161.58 676.3h0M165.85 672.99h0M170.12 669.7h0M174.39 666.43h0M178.66 663.18h0M182.93 659.95h0M187.2 656.74h0M191.47 653.56h0M195.74 650.4h0M200.01 647.27h0M204.28 644.16h0M208.55 641.08h0M212.82 638.02h0M217.09 634.98h0M221.36 631.97h0M225.63 628.99h0M229.9 626.03h0M234.17 623.1h0M238.44 620.19h0M242.71 617.31h0M246.98 614.45h0M251.25 611.62h0M255.52 608.82h0M259.79 606.04h0M264.06 603.29h0M268.33 600.56h0M272.6 597.86h0M276.87 595.18h0M281.14 592.53h0M285.41 589.9h0M289.68 587.3h0M293.95 584.72h0M298.22 582.16h0M302.49 579.63h0M306.76 577.12h0M311.03 574.63h0M315.3 572.17h0M319.57 569.73h0M323.84 567.31h0M328.11 564.91h0M332.38 562.54h0M336.65 560.18h0M340.92 557.85h0M345.19 555.53h0M349.46 553.24h0M353.73 550.96h0M358 548.71h0M362.27 546.47h0M366.54 544.25h0M370.81 542.05h0M375.08 539.87h0M379.35 537.7h0M383.62 535.55h0M387.89 533.42h0M392.16 531.3h0M396.43 529.2h0M400.7 527.12h0M404.97 525.05h0M409.24 522.99h0M413.51 520.95h0M417.78 518.93h0M422.05 516.91h0M426.32 514.91h0M430.59 512.93h0M434.86 510.95h0M439.13 508.99h0M443.41 507.04h0M447.68 505.1h0M451.95 503.18h0M456.22 501.26h0M460.49 499.36h0M464.76 497.46h0M469.03 495.58h0M473.3 493.7h0M477.57 491.84h0M481.84 489.98h0M486.11 488.14h0M490.38 486.3h0M494.65 484.47h0M498.92 482.65h0M503.19 480.84h0M507.46 479.04h0M511.73 477.24h0M516 475.45h0" stroke="#6c22fa" stroke-width="5.1" stroke-linecap="round"/>
</g>
<path d="M60.8 414.4H527.1V759.1H60.8ZM71.9 759.1v7M71.9 414.4v7M127.41 759.1v3.7M127.41 414.4v3.7M182.93 759.1v7M182.93 414.4v7M238.44 759.1v3.7M238.44 414.4v3.7M293.95 759.1v7M293.95 414.4v7M349.46 759.1v3.7M349.46 414.4v3.7M404.97 759.1v7M404.97 414.4v7M460.49 759.1v3.7M460.49 414.4v3.7M516 759.1v7M516 414.4v7M60.8 749.25h-7M527.1 749.25h-7M60.8 724.63h-3.7M527.1 724.63h-3.7M60.8 700.01h-7M527.1 700.01h-7M60.8 675.39h-3.7M527.1 675.39h-3.7M60.8 650.77h-7M527.1 650.77h-7M60.8 626.14h-3.7M527.1 626.14h-3.7M60.8 601.52h-7M527.1 601.52h-7M60.8 576.9h-3.7M527.1 576.9h-3.7M60.8 552.28h-7M527.1 552.28h-7M60.8 527.66h-3.7M527.1 527.66h-3.7M60.8 503.04h-7M527.1 503.04h-7M60.8 478.42h-3.7M527.1 478.42h-3.7M60.8 453.79h-7M527.1 453.79h-7M60.8 429.17h-3.7M527.1 429.17h-3.7" stroke="#141414" stroke-width="1.55" fill="none"/>
<g fill="#000" stroke="#000" font-family="'Liberation Sans', sans-serif">
<text x="4.43" y="438.7" font-size="22.8" stroke-width="0.68">b</text>
<text x="42.27" y="752.95" font-size="13.6" stroke-width="0.41">0</text>
<text x="42.31" y="703.71" font-size="13.6" stroke-width="0.41">5</text>
<text x="34.7" y="654.47" font-size="13.6" stroke-width="0.41">10</text>
<text x="34.74" y="605.22" font-size="13.6" stroke-width="0.41">15</text>
<text x="34.7" y="555.98" font-size="13.6" stroke-width="0.41">20</text>
<text x="34.74" y="506.74" font-size="13.6" stroke-width="0.41">25</text>
<text x="34.7" y="457.49" font-size="13.6" stroke-width="0.41">30</text>
<text x="68.12" y="781.6" font-size="13.6" stroke-width="0.41">0</text>
<text x="175.36" y="781.6" font-size="13.6" stroke-width="0.41">10</text>
<text x="286.39" y="781.6" font-size="13.6" stroke-width="0.41">20</text>
<text x="397.41" y="781.6" font-size="13.6" stroke-width="0.41">30</text>
<text x="508.43" y="781.6" font-size="13.6" stroke-width="0.41">40</text>
<text x="278.93" y="806.4" font-size="16.7" stroke-width="0.5">V</text>
<text x="289.1" y="812.6" font-size="9.7" stroke-width="0.29">DS</text>
<text x="303.26" y="806.4" font-size="16.7" stroke-width="0.5">(V)</text>
<g transform="translate(20.6,623.7) rotate(-90)">
<text x="-1.55" y="0" font-size="16.8" stroke-width="0.5">I</text>
<text x="3.01" y="6.8" font-size="9.6" stroke-width="0.29">DS</text>
<text x="16.91" y="0" font-size="16" stroke-width="0.48">(µA)</text>
</g>
<text x="427.01" y="443.4" font-size="21.5" stroke-width="0.65">V</text>
<text x="440.77" y="452.4" font-size="12.5" stroke-width="0.38">GS</text>
<text x="459.15" y="446" font-size="21.5" stroke-width="0.65">=</text>
<text x="471.7" y="443.4" font-size="21.5" stroke-width="0.65">40V</text>
<text x="433.01" y="554.4" font-size="21.5" stroke-width="0.65">V</text>
<text x="446.77" y="563.4" font-size="12.5" stroke-width="0.38">GS</text>
<text x="465.15" y="557" font-size="21.5" stroke-width="0.65">=</text>
<text x="477.7" y="554.4" font-size="21.5" stroke-width="0.65">30V</text>
<text x="429.01" y="651.4" font-size="21.5" stroke-width="0.65">V</text>
<text x="442.77" y="660.4" font-size="12.5" stroke-width="0.38">GS</text>
<text x="461.15" y="654" font-size="21.5" stroke-width="0.65">=</text>
<text x="473.7" y="651.4" font-size="21.5" stroke-width="0.65">20V</text>
<text x="430.01" y="723.5" font-size="21.5" stroke-width="0.65">V</text>
<text x="443.77" y="732.5" font-size="12.5" stroke-width="0.38">GS</text>
<text x="462.15" y="726.1" font-size="21.5" stroke-width="0.65">=</text>
<text x="474.7" y="723.5" font-size="21.5" stroke-width="0.65">10V</text>
<text x="320.84" y="521" font-size="17" stroke-width="0.51">0</text>
<text x="359.92" y="574.1" font-size="17" stroke-width="0.51">50h</text>
</g>
<path d="M319.2 522.2L353.64 567.34" stroke="#000" stroke-width="1.05"/>
<path d="M359.1 574.5L350.65 568.37L355.42 564.73Z" fill="#000"/>
</svg>
</body></html>
